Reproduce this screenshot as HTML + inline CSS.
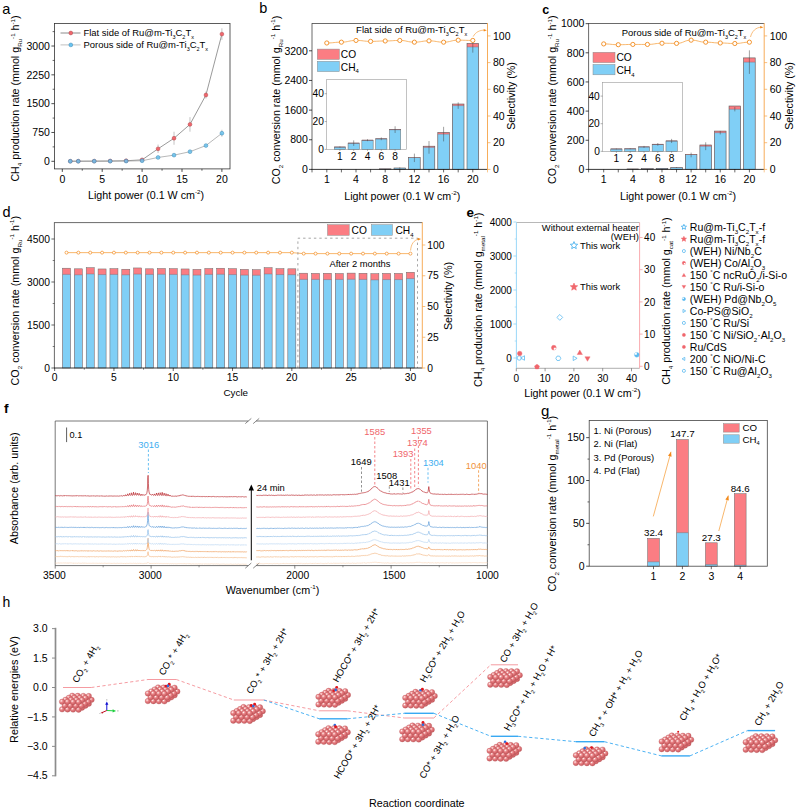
<!DOCTYPE html>
<html><head><meta charset="utf-8"><title>Figure</title>
<style>html,body{margin:0;padding:0;background:#fff}svg{display:block}text{font-family:"Liberation Sans",sans-serif}</style></head>
<body>
<svg width="800" height="811" viewBox="0 0 800 811">
<rect width="800" height="811" fill="#fff"/>
<text x="2.3" y="13.8" font-size="14.5" text-anchor="start" fill="#000" ><tspan dy="0" font-size="14.5">a</tspan></text>
<path d="M70.28 161.22 L78.26 161.18 L94.22 161.11 L110.18 160.99 L126.14 160.76 L142.1 159.84 L158.06 148.81 L174.02 138.24 L189.98 124.41 L205.94 95.01 L221.9 34.11" fill="none" stroke="#6e6e6e" stroke-width="0.7" />
<path d="M70.28 161.26 L78.26 161.24 L94.22 161.22 L110.18 161.18 L126.14 161.07 L142.1 160.76 L158.06 157.46 L174.02 155.15 L189.98 151.69 L205.94 145.55 L221.9 133.25" fill="none" stroke="#9a9a9a" stroke-width="0.7" />
<line x1="126.14" y1="161.15" x2="126.14" y2="160.38" stroke="#9a9a9a" stroke-width="0.6" />
<line x1="142.1" y1="160.8" x2="142.1" y2="158.88" stroke="#9a9a9a" stroke-width="0.6" />
<line x1="158.06" y1="153.04" x2="158.06" y2="144.58" stroke="#9a9a9a" stroke-width="0.6" />
<line x1="174.02" y1="144.78" x2="174.02" y2="131.71" stroke="#9a9a9a" stroke-width="0.6" />
<line x1="189.98" y1="131.71" x2="189.98" y2="117.11" stroke="#9a9a9a" stroke-width="0.6" />
<line x1="205.94" y1="98.47" x2="205.94" y2="91.56" stroke="#9a9a9a" stroke-width="0.6" />
<line x1="221.9" y1="39.87" x2="221.9" y2="28.34" stroke="#9a9a9a" stroke-width="0.6" />
<circle cx="70.28" cy="161.22" r="1.9" fill="#f0666c" stroke="#b04a4e" stroke-width="0.5"/>
<circle cx="78.26" cy="161.18" r="1.9" fill="#f0666c" stroke="#b04a4e" stroke-width="0.5"/>
<circle cx="94.22" cy="161.11" r="1.9" fill="#f0666c" stroke="#b04a4e" stroke-width="0.5"/>
<circle cx="110.18" cy="160.99" r="1.9" fill="#f0666c" stroke="#b04a4e" stroke-width="0.5"/>
<circle cx="126.14" cy="160.76" r="1.9" fill="#f0666c" stroke="#b04a4e" stroke-width="0.5"/>
<circle cx="142.1" cy="159.84" r="1.9" fill="#f0666c" stroke="#b04a4e" stroke-width="0.5"/>
<circle cx="158.06" cy="148.81" r="1.9" fill="#f0666c" stroke="#b04a4e" stroke-width="0.5"/>
<circle cx="174.02" cy="138.24" r="1.9" fill="#f0666c" stroke="#b04a4e" stroke-width="0.5"/>
<circle cx="189.98" cy="124.41" r="1.9" fill="#f0666c" stroke="#b04a4e" stroke-width="0.5"/>
<circle cx="205.94" cy="95.01" r="1.9" fill="#f0666c" stroke="#b04a4e" stroke-width="0.5"/>
<circle cx="221.9" cy="34.11" r="1.9" fill="#f0666c" stroke="#b04a4e" stroke-width="0.5"/>
<line x1="142.1" y1="161.07" x2="142.1" y2="160.45" stroke="#9a9a9a" stroke-width="0.6" />
<line x1="158.06" y1="158.61" x2="158.06" y2="156.3" stroke="#9a9a9a" stroke-width="0.6" />
<line x1="174.02" y1="156.5" x2="174.02" y2="153.81" stroke="#9a9a9a" stroke-width="0.6" />
<line x1="189.98" y1="153.23" x2="189.98" y2="150.16" stroke="#9a9a9a" stroke-width="0.6" />
<line x1="205.94" y1="146.89" x2="205.94" y2="144.2" stroke="#9a9a9a" stroke-width="0.6" />
<line x1="221.9" y1="136.71" x2="221.9" y2="129.79" stroke="#9a9a9a" stroke-width="0.6" />
<circle cx="70.28" cy="161.26" r="1.9" fill="#68c3f0" fill-opacity="0.85" stroke="#3d88b5" stroke-width="0.5"/>
<circle cx="78.26" cy="161.24" r="1.9" fill="#68c3f0" fill-opacity="0.85" stroke="#3d88b5" stroke-width="0.5"/>
<circle cx="94.22" cy="161.22" r="1.9" fill="#68c3f0" fill-opacity="0.85" stroke="#3d88b5" stroke-width="0.5"/>
<circle cx="110.18" cy="161.18" r="1.9" fill="#68c3f0" fill-opacity="0.85" stroke="#3d88b5" stroke-width="0.5"/>
<circle cx="126.14" cy="161.07" r="1.9" fill="#68c3f0" fill-opacity="0.85" stroke="#3d88b5" stroke-width="0.5"/>
<circle cx="142.1" cy="160.76" r="1.9" fill="#68c3f0" fill-opacity="0.85" stroke="#3d88b5" stroke-width="0.5"/>
<circle cx="158.06" cy="157.46" r="1.9" fill="#68c3f0" fill-opacity="0.85" stroke="#3d88b5" stroke-width="0.5"/>
<circle cx="174.02" cy="155.15" r="1.9" fill="#68c3f0" fill-opacity="0.85" stroke="#3d88b5" stroke-width="0.5"/>
<circle cx="189.98" cy="151.69" r="1.9" fill="#68c3f0" fill-opacity="0.85" stroke="#3d88b5" stroke-width="0.5"/>
<circle cx="205.94" cy="145.55" r="1.9" fill="#68c3f0" fill-opacity="0.85" stroke="#3d88b5" stroke-width="0.5"/>
<circle cx="221.9" cy="133.25" r="1.9" fill="#68c3f0" fill-opacity="0.85" stroke="#3d88b5" stroke-width="0.5"/>
<rect x="54.4" y="23.4" width="175.6" height="145.5" fill="none" stroke="#333" stroke-width="0.8" />
<line x1="62.3" y1="168.9" x2="62.3" y2="171.9" stroke="#000" stroke-width="0.7" />
<text x="62.3" y="183.1" font-size="10.5" text-anchor="middle" fill="#000" ><tspan dy="0" font-size="10.5">0</tspan></text>
<line x1="102.2" y1="168.9" x2="102.2" y2="171.9" stroke="#000" stroke-width="0.7" />
<text x="102.2" y="183.1" font-size="10.5" text-anchor="middle" fill="#000" ><tspan dy="0" font-size="10.5">5</tspan></text>
<line x1="142.1" y1="168.9" x2="142.1" y2="171.9" stroke="#000" stroke-width="0.7" />
<text x="142.1" y="183.1" font-size="10.5" text-anchor="middle" fill="#000" ><tspan dy="0" font-size="10.5">10</tspan></text>
<line x1="182" y1="168.9" x2="182" y2="171.9" stroke="#000" stroke-width="0.7" />
<text x="182" y="183.1" font-size="10.5" text-anchor="middle" fill="#000" ><tspan dy="0" font-size="10.5">15</tspan></text>
<line x1="221.9" y1="168.9" x2="221.9" y2="171.9" stroke="#000" stroke-width="0.7" />
<text x="221.9" y="183.1" font-size="10.5" text-anchor="middle" fill="#000" ><tspan dy="0" font-size="10.5">20</tspan></text>
<line x1="82.25" y1="168.9" x2="82.25" y2="170.7" stroke="#000" stroke-width="0.6" />
<line x1="122.15" y1="168.9" x2="122.15" y2="170.7" stroke="#000" stroke-width="0.6" />
<line x1="162.05" y1="168.9" x2="162.05" y2="170.7" stroke="#000" stroke-width="0.6" />
<line x1="201.95" y1="168.9" x2="201.95" y2="170.7" stroke="#000" stroke-width="0.6" />
<line x1="51.4" y1="161.3" x2="54.4" y2="161.3" stroke="#000" stroke-width="0.7" />
<text x="49.9" y="165" font-size="10.5" text-anchor="end" fill="#000" ><tspan dy="0" font-size="10.5">0</tspan></text>
<line x1="51.4" y1="132.48" x2="54.4" y2="132.48" stroke="#000" stroke-width="0.7" />
<text x="49.9" y="136.18" font-size="10.5" text-anchor="end" fill="#000" ><tspan dy="0" font-size="10.5">750</tspan></text>
<line x1="51.4" y1="103.66" x2="54.4" y2="103.66" stroke="#000" stroke-width="0.7" />
<text x="49.9" y="107.36" font-size="10.5" text-anchor="end" fill="#000" ><tspan dy="0" font-size="10.5">1500</tspan></text>
<line x1="51.4" y1="74.84" x2="54.4" y2="74.84" stroke="#000" stroke-width="0.7" />
<text x="49.9" y="78.54" font-size="10.5" text-anchor="end" fill="#000" ><tspan dy="0" font-size="10.5">2250</tspan></text>
<line x1="51.4" y1="46.02" x2="54.4" y2="46.02" stroke="#000" stroke-width="0.7" />
<text x="49.9" y="49.72" font-size="10.5" text-anchor="end" fill="#000" ><tspan dy="0" font-size="10.5">3000</tspan></text>
<line x1="52.6" y1="146.89" x2="54.4" y2="146.89" stroke="#000" stroke-width="0.6" />
<line x1="52.6" y1="118.07" x2="54.4" y2="118.07" stroke="#000" stroke-width="0.6" />
<line x1="52.6" y1="89.25" x2="54.4" y2="89.25" stroke="#000" stroke-width="0.6" />
<line x1="52.6" y1="60.43" x2="54.4" y2="60.43" stroke="#000" stroke-width="0.6" />
<line x1="52.6" y1="31.61" x2="54.4" y2="31.61" stroke="#000" stroke-width="0.6" />
<text x="19" y="98.5" font-size="10.7" text-anchor="middle" fill="#000" transform="rotate(-90 19 98.5)" ><tspan dy="0" font-size="10.7">CH</tspan><tspan dy="3" font-size="6.21">4</tspan><tspan dy="-3" font-size="10.7"> production rate (mmol g</tspan><tspan dy="3" font-size="6.21">Ru</tspan><tspan dy="-7.49" font-size="6.21">-1</tspan><tspan dy="4.49" font-size="10.7"> h</tspan><tspan dy="-4.49" font-size="6.21">-1</tspan><tspan dy="4.49" font-size="10.7">)</tspan></text>
<text x="146" y="198.8" font-size="10.7" text-anchor="middle" fill="#000" ><tspan dy="0" font-size="10.7">Light power (0.1 W cm</tspan><tspan dy="-4.49" font-size="6.21">-2</tspan><tspan dy="4.49" font-size="10.7">)</tspan></text>
<line x1="60.5" y1="33" x2="80.5" y2="33" stroke="#6e6e6e" stroke-width="0.8" />
<circle cx="70.8" cy="33" r="1.9" fill="#f0666c" stroke="#b04a4e" stroke-width="0.5"/>
<text x="83.5" y="36.4" font-size="9.45" text-anchor="start" fill="#000" ><tspan dy="0" font-size="9.45">Flat side of Ru@m-Ti</tspan><tspan dy="2.65" font-size="5.48">3</tspan><tspan dy="-2.65" font-size="9.45">C</tspan><tspan dy="2.65" font-size="5.48">2</tspan><tspan dy="-2.65" font-size="9.45">T</tspan><tspan dy="2.65" font-size="5.48">x</tspan></text>
<line x1="60.5" y1="44.9" x2="80.5" y2="44.9" stroke="#b0b0b0" stroke-width="0.8" />
<circle cx="70.8" cy="44.9" r="1.9" fill="#68c3f0" stroke="#3d88b5" stroke-width="0.5"/>
<text x="83.5" y="48.3" font-size="9.45" text-anchor="start" fill="#000" ><tspan dy="0" font-size="9.45">Porous side of Ru@m-Ti</tspan><tspan dy="2.65" font-size="5.48">3</tspan><tspan dy="-2.65" font-size="9.45">C</tspan><tspan dy="2.65" font-size="5.48">2</tspan><tspan dy="-2.65" font-size="9.45">T</tspan><tspan dy="2.65" font-size="5.48">x</tspan></text>
<text x="259.3" y="12.7" font-size="14.5" text-anchor="start" fill="#000" ><tspan dy="0" font-size="14.5">b</tspan></text>
<rect x="379.4" y="168.84" width="11.6" height="0.56" fill="#fb7d83" stroke="none" stroke-width="0.6" />
<rect x="379.4" y="168.87" width="11.6" height="0.53" fill="#80cff6" stroke="none" stroke-width="0.6" />
<rect x="379.4" y="168.84" width="11.6" height="0.56" fill="none" stroke="#5a5a5a" stroke-width="0.6" />
<rect x="394" y="167.99" width="11.6" height="1.41" fill="#fb7d83" stroke="none" stroke-width="0.6" />
<rect x="394" y="168.07" width="11.6" height="1.33" fill="#80cff6" stroke="none" stroke-width="0.6" />
<rect x="394" y="167.99" width="11.6" height="1.41" fill="none" stroke="#5a5a5a" stroke-width="0.6" />
<line x1="399.8" y1="168.81" x2="399.8" y2="167.32" stroke="#444" stroke-width="0.5" />
<rect x="408.6" y="157.39" width="11.6" height="12.01" fill="#fb7d83" stroke="none" stroke-width="0.6" />
<rect x="408.6" y="157.84" width="11.6" height="11.56" fill="#80cff6" stroke="none" stroke-width="0.6" />
<rect x="408.6" y="157.39" width="11.6" height="12.01" fill="none" stroke="#5a5a5a" stroke-width="0.6" />
<line x1="414.4" y1="162.06" x2="414.4" y2="153.61" stroke="#444" stroke-width="0.5" />
<rect x="423.2" y="146.2" width="11.6" height="23.2" fill="#fb7d83" stroke="none" stroke-width="0.6" />
<rect x="423.2" y="147.38" width="11.6" height="22.02" fill="#80cff6" stroke="none" stroke-width="0.6" />
<rect x="423.2" y="146.2" width="11.6" height="23.2" fill="none" stroke="#5a5a5a" stroke-width="0.6" />
<line x1="423.2" y1="147.38" x2="434.8" y2="147.38" stroke="#8a5a60" stroke-width="0.4" />
<line x1="429" y1="153.69" x2="429" y2="141.08" stroke="#444" stroke-width="0.5" />
<rect x="437.8" y="132.41" width="11.6" height="36.99" fill="#fb7d83" stroke="none" stroke-width="0.6" />
<rect x="437.8" y="134.12" width="11.6" height="35.28" fill="#80cff6" stroke="none" stroke-width="0.6" />
<rect x="437.8" y="132.41" width="11.6" height="36.99" fill="none" stroke="#5a5a5a" stroke-width="0.6" />
<line x1="437.8" y1="134.12" x2="449.4" y2="134.12" stroke="#8a5a60" stroke-width="0.4" />
<line x1="443.6" y1="141.42" x2="443.6" y2="126.82" stroke="#444" stroke-width="0.5" />
<rect x="452.4" y="104.02" width="11.6" height="65.38" fill="#fb7d83" stroke="none" stroke-width="0.6" />
<rect x="452.4" y="105.62" width="11.6" height="63.78" fill="#80cff6" stroke="none" stroke-width="0.6" />
<rect x="452.4" y="104.02" width="11.6" height="65.38" fill="none" stroke="#5a5a5a" stroke-width="0.6" />
<line x1="452.4" y1="105.62" x2="464" y2="105.62" stroke="#8a5a60" stroke-width="0.4" />
<line x1="458.2" y1="108.84" x2="458.2" y2="102.39" stroke="#444" stroke-width="0.5" />
<rect x="467" y="43.39" width="11.6" height="126.01" fill="#fb7d83" stroke="none" stroke-width="0.6" />
<rect x="467" y="46.91" width="11.6" height="122.49" fill="#80cff6" stroke="none" stroke-width="0.6" />
<rect x="467" y="43.39" width="11.6" height="126.01" fill="none" stroke="#5a5a5a" stroke-width="0.6" />
<line x1="467" y1="46.91" x2="478.6" y2="46.91" stroke="#8a5a60" stroke-width="0.4" />
<line x1="472.8" y1="52.65" x2="472.8" y2="41.16" stroke="#444" stroke-width="0.5" />
<path d="M326.8 42.98 C334.1 42.98 334.1 42.17 341.4 42.17 C348.7 42.17 348.7 40.44 356 40.44 C363.3 40.44 363.3 41.37 370.6 41.37 C377.9 41.37 377.9 40.97 385.2 40.97 C392.5 40.97 392.5 40.44 399.8 40.44 C407.1 40.44 407.1 42.17 414.4 42.17 C421.7 42.17 421.7 40.84 429 40.84 C436.3 40.84 436.3 42.17 443.6 42.17 C450.9 42.17 450.9 40.17 458.2 40.17 C465.5 40.17 465.5 40.44 472.8 40.44" fill="none" stroke="#f6a447" stroke-width="0.8" />
<circle cx="326.8" cy="42.98" r="2.1" fill="#fff" stroke="#f28a1c" stroke-width="0.9"/>
<circle cx="341.4" cy="42.17" r="2.1" fill="#fff" stroke="#f28a1c" stroke-width="0.9"/>
<circle cx="356" cy="40.44" r="2.1" fill="#fff" stroke="#f28a1c" stroke-width="0.9"/>
<circle cx="370.6" cy="41.37" r="2.1" fill="#fff" stroke="#f28a1c" stroke-width="0.9"/>
<circle cx="385.2" cy="40.97" r="2.1" fill="#fff" stroke="#f28a1c" stroke-width="0.9"/>
<circle cx="399.8" cy="40.44" r="2.1" fill="#fff" stroke="#f28a1c" stroke-width="0.9"/>
<circle cx="414.4" cy="42.17" r="2.1" fill="#fff" stroke="#f28a1c" stroke-width="0.9"/>
<circle cx="429" cy="40.84" r="2.1" fill="#fff" stroke="#f28a1c" stroke-width="0.9"/>
<circle cx="443.6" cy="42.17" r="2.1" fill="#fff" stroke="#f28a1c" stroke-width="0.9"/>
<circle cx="458.2" cy="40.17" r="2.1" fill="#fff" stroke="#f28a1c" stroke-width="0.9"/>
<circle cx="472.8" cy="40.44" r="2.1" fill="#fff" stroke="#f28a1c" stroke-width="0.9"/>
<line x1="312" y1="23.5" x2="487.5" y2="23.5" stroke="#444" stroke-width="0.8" />
<line x1="312" y1="23.1" x2="312" y2="169.4" stroke="#444" stroke-width="0.8" />
<line x1="311.6" y1="169.4" x2="487.5" y2="169.4" stroke="#222" stroke-width="0.9" />
<line x1="487.5" y1="23.1" x2="487.5" y2="169.8" stroke="#f6a447" stroke-width="0.9" />
<line x1="326.8" y1="169.4" x2="326.8" y2="172.4" stroke="#000" stroke-width="0.6" />
<text x="326.8" y="183.4" font-size="10.5" text-anchor="middle" fill="#000" ><tspan dy="0" font-size="10.5">1</tspan></text>
<line x1="341.4" y1="169.4" x2="341.4" y2="172.4" stroke="#000" stroke-width="0.6" />
<line x1="356" y1="169.4" x2="356" y2="172.4" stroke="#000" stroke-width="0.6" />
<text x="356" y="183.4" font-size="10.5" text-anchor="middle" fill="#000" ><tspan dy="0" font-size="10.5">4</tspan></text>
<line x1="370.6" y1="169.4" x2="370.6" y2="172.4" stroke="#000" stroke-width="0.6" />
<line x1="385.2" y1="169.4" x2="385.2" y2="172.4" stroke="#000" stroke-width="0.6" />
<text x="385.2" y="183.4" font-size="10.5" text-anchor="middle" fill="#000" ><tspan dy="0" font-size="10.5">8</tspan></text>
<line x1="399.8" y1="169.4" x2="399.8" y2="172.4" stroke="#000" stroke-width="0.6" />
<line x1="414.4" y1="169.4" x2="414.4" y2="172.4" stroke="#000" stroke-width="0.6" />
<text x="414.4" y="183.4" font-size="10.5" text-anchor="middle" fill="#000" ><tspan dy="0" font-size="10.5">12</tspan></text>
<line x1="429" y1="169.4" x2="429" y2="172.4" stroke="#000" stroke-width="0.6" />
<line x1="443.6" y1="169.4" x2="443.6" y2="172.4" stroke="#000" stroke-width="0.6" />
<text x="443.6" y="183.4" font-size="10.5" text-anchor="middle" fill="#000" ><tspan dy="0" font-size="10.5">16</tspan></text>
<line x1="458.2" y1="169.4" x2="458.2" y2="172.4" stroke="#000" stroke-width="0.6" />
<line x1="472.8" y1="169.4" x2="472.8" y2="172.4" stroke="#000" stroke-width="0.6" />
<text x="472.8" y="183.4" font-size="10.5" text-anchor="middle" fill="#000" ><tspan dy="0" font-size="10.5">20</tspan></text>
<line x1="312" y1="169.4" x2="312" y2="172.4" stroke="#000" stroke-width="0.6" />
<line x1="487.5" y1="169.4" x2="487.5" y2="172.4" stroke="#f6a447" stroke-width="0.6" />
<line x1="309" y1="169.4" x2="312" y2="169.4" stroke="#000" stroke-width="0.7" />
<text x="307.8" y="173.1" font-size="10.5" text-anchor="end" fill="#000" ><tspan dy="0" font-size="10.5">0</tspan></text>
<line x1="309" y1="139.75" x2="312" y2="139.75" stroke="#000" stroke-width="0.7" />
<text x="307.8" y="143.45" font-size="10.5" text-anchor="end" fill="#000" ><tspan dy="0" font-size="10.5">800</tspan></text>
<line x1="309" y1="110.1" x2="312" y2="110.1" stroke="#000" stroke-width="0.7" />
<text x="307.8" y="113.8" font-size="10.5" text-anchor="end" fill="#000" ><tspan dy="0" font-size="10.5">1600</tspan></text>
<line x1="309" y1="80.45" x2="312" y2="80.45" stroke="#000" stroke-width="0.7" />
<text x="307.8" y="84.15" font-size="10.5" text-anchor="end" fill="#000" ><tspan dy="0" font-size="10.5">2400</tspan></text>
<line x1="309" y1="50.8" x2="312" y2="50.8" stroke="#000" stroke-width="0.7" />
<text x="307.8" y="54.5" font-size="10.5" text-anchor="end" fill="#000" ><tspan dy="0" font-size="10.5">3200</tspan></text>
<line x1="487.5" y1="169.4" x2="490.5" y2="169.4" stroke="#f6a447" stroke-width="0.7" />
<text x="493" y="173.1" font-size="10.5" text-anchor="start" fill="#000" ><tspan dy="0" font-size="10.5">0</tspan></text>
<line x1="487.5" y1="142.7" x2="490.5" y2="142.7" stroke="#f6a447" stroke-width="0.7" />
<text x="493" y="146.4" font-size="10.5" text-anchor="start" fill="#000" ><tspan dy="0" font-size="10.5">20</tspan></text>
<line x1="487.5" y1="116" x2="490.5" y2="116" stroke="#f6a447" stroke-width="0.7" />
<text x="493" y="119.7" font-size="10.5" text-anchor="start" fill="#000" ><tspan dy="0" font-size="10.5">40</tspan></text>
<line x1="487.5" y1="89.3" x2="490.5" y2="89.3" stroke="#f6a447" stroke-width="0.7" />
<text x="493" y="93" font-size="10.5" text-anchor="start" fill="#000" ><tspan dy="0" font-size="10.5">60</tspan></text>
<line x1="487.5" y1="62.6" x2="490.5" y2="62.6" stroke="#f6a447" stroke-width="0.7" />
<text x="493" y="66.3" font-size="10.5" text-anchor="start" fill="#000" ><tspan dy="0" font-size="10.5">80</tspan></text>
<line x1="487.5" y1="35.9" x2="490.5" y2="35.9" stroke="#f6a447" stroke-width="0.7" />
<text x="493" y="39.6" font-size="10.5" text-anchor="start" fill="#000" ><tspan dy="0" font-size="10.5">100</tspan></text>
<text x="467.2" y="33.2" font-size="9.5" text-anchor="end" fill="#000" ><tspan dy="0" font-size="9.5">Flat side of Ru@m-Ti</tspan><tspan dy="2.66" font-size="5.51">3</tspan><tspan dy="-2.66" font-size="9.5">C</tspan><tspan dy="2.66" font-size="5.51">2</tspan><tspan dy="-2.66" font-size="9.5">T</tspan><tspan dy="2.66" font-size="5.51">x</tspan></text>
<path d="M473.2 36.6 C475.5 32 480 30 484.5 30.2" fill="none" stroke="#f6a447" stroke-width="0.7" />
<path d="M486.8 30.3 L483.6 28.9 L483.8 31.6 Z" fill="#f28a1c" stroke="none" stroke-width="0.8" />
<rect x="317.3" y="49.1" width="22" height="10.3" fill="#fb7d83" stroke="#8c8c8c" stroke-width="0.5" />
<rect x="317.3" y="61.3" width="22" height="10.3" fill="#80cff6" stroke="#8c8c8c" stroke-width="0.5" />
<text x="340.8" y="58.2" font-size="10.2" text-anchor="start" fill="#000" ><tspan dy="0" font-size="10.2">CO</tspan></text>
<text x="340.8" y="70.5" font-size="10.2" text-anchor="start" fill="#000" ><tspan dy="0" font-size="10.2">CH</tspan><tspan dy="2.86" font-size="5.92">4</tspan></text>
<rect x="326.7" y="79.3" width="79.8" height="70.1" fill="#fff" stroke="#9a9a9a" stroke-width="0.6" />
<rect x="334.25" y="147.03" width="11.3" height="2.37" fill="#80cff6" stroke="#6a6a6a" stroke-width="0.5" />
<line x1="334.25" y1="147.03" x2="345.55" y2="147.03" stroke="#7a4a50" stroke-width="0.7" />
<line x1="339.9" y1="147.59" x2="339.9" y2="146.48" stroke="#444" stroke-width="0.5" />
<text x="339.9" y="160" font-size="10.2" text-anchor="middle" fill="#000" ><tspan dy="0" font-size="10.2">1</tspan></text>
<line x1="339.9" y1="149.4" x2="339.9" y2="150.9" stroke="#666" stroke-width="0.5" />
<rect x="348.05" y="143.13" width="11.3" height="6.27" fill="#80cff6" stroke="#6a6a6a" stroke-width="0.5" />
<line x1="348.05" y1="143.13" x2="359.35" y2="143.13" stroke="#7a4a50" stroke-width="0.7" />
<line x1="353.7" y1="145.92" x2="353.7" y2="140.35" stroke="#444" stroke-width="0.5" />
<text x="353.7" y="160" font-size="10.2" text-anchor="middle" fill="#000" ><tspan dy="0" font-size="10.2">2</tspan></text>
<line x1="353.7" y1="149.4" x2="353.7" y2="150.9" stroke="#666" stroke-width="0.5" />
<rect x="361.85" y="140.21" width="11.3" height="9.19" fill="#80cff6" stroke="#6a6a6a" stroke-width="0.5" />
<line x1="361.85" y1="140.21" x2="373.15" y2="140.21" stroke="#7a4a50" stroke-width="0.7" />
<line x1="367.5" y1="141.18" x2="367.5" y2="139.23" stroke="#444" stroke-width="0.5" />
<text x="367.5" y="160" font-size="10.2" text-anchor="middle" fill="#000" ><tspan dy="0" font-size="10.2">4</tspan></text>
<line x1="367.5" y1="149.4" x2="367.5" y2="150.9" stroke="#666" stroke-width="0.5" />
<rect x="375.65" y="138.82" width="11.3" height="10.58" fill="#80cff6" stroke="#6a6a6a" stroke-width="0.5" />
<line x1="375.65" y1="138.82" x2="386.95" y2="138.82" stroke="#7a4a50" stroke-width="0.7" />
<line x1="381.3" y1="140.21" x2="381.3" y2="137.42" stroke="#444" stroke-width="0.5" />
<text x="381.3" y="160" font-size="10.2" text-anchor="middle" fill="#000" ><tspan dy="0" font-size="10.2">6</tspan></text>
<line x1="381.3" y1="149.4" x2="381.3" y2="150.9" stroke="#666" stroke-width="0.5" />
<rect x="389.45" y="129.63" width="11.3" height="19.77" fill="#80cff6" stroke="#6a6a6a" stroke-width="0.5" />
<line x1="389.45" y1="129.63" x2="400.75" y2="129.63" stroke="#7a4a50" stroke-width="0.7" />
<line x1="395.1" y1="132.97" x2="395.1" y2="126.28" stroke="#444" stroke-width="0.5" />
<text x="395.1" y="160" font-size="10.2" text-anchor="middle" fill="#000" ><tspan dy="0" font-size="10.2">8</tspan></text>
<line x1="395.1" y1="149.4" x2="395.1" y2="150.9" stroke="#666" stroke-width="0.5" />
<line x1="324.7" y1="149.4" x2="326.7" y2="149.4" stroke="#666" stroke-width="0.5" />
<text x="323.9" y="153" font-size="10.2" text-anchor="end" fill="#000" ><tspan dy="0" font-size="10.2">0</tspan></text>
<line x1="324.7" y1="121.55" x2="326.7" y2="121.55" stroke="#666" stroke-width="0.5" />
<text x="323.9" y="125.15" font-size="10.2" text-anchor="end" fill="#000" ><tspan dy="0" font-size="10.2">20</tspan></text>
<line x1="324.7" y1="93.7" x2="326.7" y2="93.7" stroke="#666" stroke-width="0.5" />
<text x="323.9" y="97.3" font-size="10.2" text-anchor="end" fill="#000" ><tspan dy="0" font-size="10.2">40</tspan></text>
<text x="279.5" y="100" font-size="10.7" text-anchor="middle" fill="#000" transform="rotate(-90 279.5 100)" ><tspan dy="0" font-size="10.7">CO</tspan><tspan dy="3" font-size="6.21">2</tspan><tspan dy="-3" font-size="10.7"> conversion rate (mmol g</tspan><tspan dy="3" font-size="6.21">Ru</tspan><tspan dy="-7.49" font-size="6.21">-1</tspan><tspan dy="4.49" font-size="10.7"> h</tspan><tspan dy="-4.49" font-size="6.21">-1</tspan><tspan dy="4.49" font-size="10.7">)</tspan></text>
<text x="402.3" y="199.5" font-size="10.7" text-anchor="middle" fill="#000" ><tspan dy="0" font-size="10.7">Light power (0.1 W cm</tspan><tspan dy="-4.49" font-size="6.21">-2</tspan><tspan dy="4.49" font-size="10.7">)</tspan></text>
<text x="515.3" y="96" font-size="10.7" text-anchor="middle" fill="#000" transform="rotate(-90 515.3 96)" ><tspan dy="0" font-size="10.7">Selectivity (%)</tspan></text>
<text x="542.2" y="13.6" font-size="12.6" text-anchor="start" fill="#000" font-weight="bold" ><tspan dy="0" font-size="12.6">c</tspan></text>
<rect x="627.04" y="168.93" width="11.6" height="0.47" fill="#fb7d83" stroke="none" stroke-width="0.6" />
<rect x="627.04" y="168.96" width="11.6" height="0.44" fill="#80cff6" stroke="none" stroke-width="0.6" />
<rect x="627.04" y="168.93" width="11.6" height="0.47" fill="none" stroke="#5a5a5a" stroke-width="0.6" />
<rect x="641.61" y="168.67" width="11.6" height="0.73" fill="#fb7d83" stroke="none" stroke-width="0.6" />
<rect x="641.61" y="168.71" width="11.6" height="0.69" fill="#80cff6" stroke="none" stroke-width="0.6" />
<rect x="641.61" y="168.67" width="11.6" height="0.73" fill="none" stroke="#5a5a5a" stroke-width="0.6" />
<rect x="656.18" y="168.31" width="11.6" height="1.09" fill="#fb7d83" stroke="none" stroke-width="0.6" />
<rect x="656.18" y="168.37" width="11.6" height="1.03" fill="#80cff6" stroke="none" stroke-width="0.6" />
<rect x="656.18" y="168.31" width="11.6" height="1.09" fill="none" stroke="#5a5a5a" stroke-width="0.6" />
<rect x="670.75" y="167.51" width="11.6" height="1.89" fill="#fb7d83" stroke="none" stroke-width="0.6" />
<rect x="670.75" y="167.61" width="11.6" height="1.79" fill="#80cff6" stroke="none" stroke-width="0.6" />
<rect x="670.75" y="167.51" width="11.6" height="1.89" fill="none" stroke="#5a5a5a" stroke-width="0.6" />
<line x1="676.55" y1="168.04" x2="676.55" y2="167.17" stroke="#444" stroke-width="0.5" />
<rect x="685.32" y="154.31" width="11.6" height="15.09" fill="#fb7d83" stroke="none" stroke-width="0.6" />
<rect x="685.32" y="154.97" width="11.6" height="14.43" fill="#80cff6" stroke="none" stroke-width="0.6" />
<rect x="685.32" y="154.31" width="11.6" height="15.09" fill="none" stroke="#5a5a5a" stroke-width="0.6" />
<line x1="691.12" y1="157.3" x2="691.12" y2="152.64" stroke="#444" stroke-width="0.5" />
<rect x="699.89" y="144.99" width="11.6" height="24.41" fill="#fb7d83" stroke="none" stroke-width="0.6" />
<rect x="699.89" y="146.23" width="11.6" height="23.17" fill="#80cff6" stroke="none" stroke-width="0.6" />
<rect x="699.89" y="144.99" width="11.6" height="24.41" fill="none" stroke="#5a5a5a" stroke-width="0.6" />
<line x1="699.89" y1="146.23" x2="711.49" y2="146.23" stroke="#8a5a60" stroke-width="0.4" />
<line x1="705.69" y1="150.16" x2="705.69" y2="142.29" stroke="#444" stroke-width="0.5" />
<rect x="714.46" y="131.07" width="11.6" height="38.33" fill="#fb7d83" stroke="none" stroke-width="0.6" />
<rect x="714.46" y="132.67" width="11.6" height="36.73" fill="#80cff6" stroke="none" stroke-width="0.6" />
<rect x="714.46" y="131.07" width="11.6" height="38.33" fill="none" stroke="#5a5a5a" stroke-width="0.6" />
<line x1="714.46" y1="132.67" x2="726.06" y2="132.67" stroke="#8a5a60" stroke-width="0.4" />
<line x1="720.26" y1="134.42" x2="720.26" y2="130.92" stroke="#444" stroke-width="0.5" />
<rect x="729.03" y="106" width="11.6" height="63.4" fill="#fb7d83" stroke="none" stroke-width="0.6" />
<rect x="729.03" y="109.21" width="11.6" height="60.19" fill="#80cff6" stroke="none" stroke-width="0.6" />
<rect x="729.03" y="106" width="11.6" height="63.4" fill="none" stroke="#5a5a5a" stroke-width="0.6" />
<line x1="729.03" y1="109.21" x2="740.63" y2="109.21" stroke="#8a5a60" stroke-width="0.4" />
<line x1="734.83" y1="111.39" x2="734.83" y2="107.02" stroke="#444" stroke-width="0.5" />
<rect x="743.6" y="57.9" width="11.6" height="111.5" fill="#fb7d83" stroke="none" stroke-width="0.6" />
<rect x="743.6" y="62.13" width="11.6" height="107.27" fill="#80cff6" stroke="none" stroke-width="0.6" />
<rect x="743.6" y="57.9" width="11.6" height="111.5" fill="none" stroke="#5a5a5a" stroke-width="0.6" />
<line x1="743.6" y1="62.13" x2="755.2" y2="62.13" stroke="#8a5a60" stroke-width="0.4" />
<line x1="749.4" y1="73.93" x2="749.4" y2="50.32" stroke="#444" stroke-width="0.5" />
<path d="M603.7 43.91 C610.99 43.91 610.99 44.71 618.27 44.71 C625.56 44.71 625.56 44.44 632.84 44.44 C640.12 44.44 640.12 44.44 647.41 44.44 C654.7 44.44 654.7 43.24 661.98 43.24 C669.27 43.24 669.27 43.38 676.55 43.38 C683.84 43.38 683.84 40.17 691.12 40.17 C698.4 40.17 698.4 42.17 705.69 42.17 C712.98 42.17 712.98 42.98 720.26 42.98 C727.55 42.98 727.55 43.51 734.83 43.51 C742.12 43.51 742.12 42.17 749.4 42.17" fill="none" stroke="#f6a447" stroke-width="0.8" />
<circle cx="603.7" cy="43.91" r="2.1" fill="#fff" stroke="#f28a1c" stroke-width="0.9"/>
<circle cx="618.27" cy="44.71" r="2.1" fill="#fff" stroke="#f28a1c" stroke-width="0.9"/>
<circle cx="632.84" cy="44.44" r="2.1" fill="#fff" stroke="#f28a1c" stroke-width="0.9"/>
<circle cx="647.41" cy="44.44" r="2.1" fill="#fff" stroke="#f28a1c" stroke-width="0.9"/>
<circle cx="661.98" cy="43.24" r="2.1" fill="#fff" stroke="#f28a1c" stroke-width="0.9"/>
<circle cx="676.55" cy="43.38" r="2.1" fill="#fff" stroke="#f28a1c" stroke-width="0.9"/>
<circle cx="691.12" cy="40.17" r="2.1" fill="#fff" stroke="#f28a1c" stroke-width="0.9"/>
<circle cx="705.69" cy="42.17" r="2.1" fill="#fff" stroke="#f28a1c" stroke-width="0.9"/>
<circle cx="720.26" cy="42.98" r="2.1" fill="#fff" stroke="#f28a1c" stroke-width="0.9"/>
<circle cx="734.83" cy="43.51" r="2.1" fill="#fff" stroke="#f28a1c" stroke-width="0.9"/>
<circle cx="749.4" cy="42.17" r="2.1" fill="#fff" stroke="#f28a1c" stroke-width="0.9"/>
<line x1="588.6" y1="23.5" x2="764.2" y2="23.5" stroke="#444" stroke-width="0.8" />
<line x1="588.6" y1="23.1" x2="588.6" y2="169.4" stroke="#444" stroke-width="0.8" />
<line x1="588.2" y1="169.4" x2="764.2" y2="169.4" stroke="#222" stroke-width="0.9" />
<line x1="764.2" y1="23.1" x2="764.2" y2="169.8" stroke="#f6a447" stroke-width="0.9" />
<line x1="603.7" y1="169.4" x2="603.7" y2="172.4" stroke="#000" stroke-width="0.6" />
<text x="603.7" y="183.4" font-size="10.5" text-anchor="middle" fill="#000" ><tspan dy="0" font-size="10.5">1</tspan></text>
<line x1="618.27" y1="169.4" x2="618.27" y2="172.4" stroke="#000" stroke-width="0.6" />
<line x1="632.84" y1="169.4" x2="632.84" y2="172.4" stroke="#000" stroke-width="0.6" />
<text x="632.84" y="183.4" font-size="10.5" text-anchor="middle" fill="#000" ><tspan dy="0" font-size="10.5">4</tspan></text>
<line x1="647.41" y1="169.4" x2="647.41" y2="172.4" stroke="#000" stroke-width="0.6" />
<line x1="661.98" y1="169.4" x2="661.98" y2="172.4" stroke="#000" stroke-width="0.6" />
<text x="661.98" y="183.4" font-size="10.5" text-anchor="middle" fill="#000" ><tspan dy="0" font-size="10.5">8</tspan></text>
<line x1="676.55" y1="169.4" x2="676.55" y2="172.4" stroke="#000" stroke-width="0.6" />
<line x1="691.12" y1="169.4" x2="691.12" y2="172.4" stroke="#000" stroke-width="0.6" />
<text x="691.12" y="183.4" font-size="10.5" text-anchor="middle" fill="#000" ><tspan dy="0" font-size="10.5">12</tspan></text>
<line x1="705.69" y1="169.4" x2="705.69" y2="172.4" stroke="#000" stroke-width="0.6" />
<line x1="720.26" y1="169.4" x2="720.26" y2="172.4" stroke="#000" stroke-width="0.6" />
<text x="720.26" y="183.4" font-size="10.5" text-anchor="middle" fill="#000" ><tspan dy="0" font-size="10.5">16</tspan></text>
<line x1="734.83" y1="169.4" x2="734.83" y2="172.4" stroke="#000" stroke-width="0.6" />
<line x1="749.4" y1="169.4" x2="749.4" y2="172.4" stroke="#000" stroke-width="0.6" />
<text x="749.4" y="183.4" font-size="10.5" text-anchor="middle" fill="#000" ><tspan dy="0" font-size="10.5">20</tspan></text>
<line x1="588.6" y1="169.4" x2="588.6" y2="172.4" stroke="#000" stroke-width="0.6" />
<line x1="764.2" y1="169.4" x2="764.2" y2="172.4" stroke="#f6a447" stroke-width="0.6" />
<line x1="585.6" y1="169.4" x2="588.6" y2="169.4" stroke="#000" stroke-width="0.7" />
<text x="584.4" y="173.1" font-size="10.5" text-anchor="end" fill="#000" ><tspan dy="0" font-size="10.5">0</tspan></text>
<line x1="585.6" y1="140.25" x2="588.6" y2="140.25" stroke="#000" stroke-width="0.7" />
<text x="584.4" y="143.95" font-size="10.5" text-anchor="end" fill="#000" ><tspan dy="0" font-size="10.5">200</tspan></text>
<line x1="585.6" y1="111.1" x2="588.6" y2="111.1" stroke="#000" stroke-width="0.7" />
<text x="584.4" y="114.8" font-size="10.5" text-anchor="end" fill="#000" ><tspan dy="0" font-size="10.5">400</tspan></text>
<line x1="585.6" y1="81.95" x2="588.6" y2="81.95" stroke="#000" stroke-width="0.7" />
<text x="584.4" y="85.65" font-size="10.5" text-anchor="end" fill="#000" ><tspan dy="0" font-size="10.5">600</tspan></text>
<line x1="585.6" y1="52.8" x2="588.6" y2="52.8" stroke="#000" stroke-width="0.7" />
<text x="584.4" y="56.5" font-size="10.5" text-anchor="end" fill="#000" ><tspan dy="0" font-size="10.5">800</tspan></text>
<line x1="585.6" y1="23.65" x2="588.6" y2="23.65" stroke="#000" stroke-width="0.7" />
<text x="584.4" y="27.35" font-size="10.5" text-anchor="end" fill="#000" ><tspan dy="0" font-size="10.5">1000</tspan></text>
<line x1="764.2" y1="169.4" x2="767.2" y2="169.4" stroke="#f6a447" stroke-width="0.7" />
<text x="769.7" y="173.1" font-size="10.5" text-anchor="start" fill="#000" ><tspan dy="0" font-size="10.5">0</tspan></text>
<line x1="764.2" y1="142.7" x2="767.2" y2="142.7" stroke="#f6a447" stroke-width="0.7" />
<text x="769.7" y="146.4" font-size="10.5" text-anchor="start" fill="#000" ><tspan dy="0" font-size="10.5">20</tspan></text>
<line x1="764.2" y1="116" x2="767.2" y2="116" stroke="#f6a447" stroke-width="0.7" />
<text x="769.7" y="119.7" font-size="10.5" text-anchor="start" fill="#000" ><tspan dy="0" font-size="10.5">40</tspan></text>
<line x1="764.2" y1="89.3" x2="767.2" y2="89.3" stroke="#f6a447" stroke-width="0.7" />
<text x="769.7" y="93" font-size="10.5" text-anchor="start" fill="#000" ><tspan dy="0" font-size="10.5">60</tspan></text>
<line x1="764.2" y1="62.6" x2="767.2" y2="62.6" stroke="#f6a447" stroke-width="0.7" />
<text x="769.7" y="66.3" font-size="10.5" text-anchor="start" fill="#000" ><tspan dy="0" font-size="10.5">80</tspan></text>
<line x1="764.2" y1="35.9" x2="767.2" y2="35.9" stroke="#f6a447" stroke-width="0.7" />
<text x="769.7" y="39.6" font-size="10.5" text-anchor="start" fill="#000" ><tspan dy="0" font-size="10.5">100</tspan></text>
<text x="746.3" y="36" font-size="9.45" text-anchor="end" fill="#000" ><tspan dy="0" font-size="9.45">Porous side of Ru@m-Ti</tspan><tspan dy="2.65" font-size="5.48">3</tspan><tspan dy="-2.65" font-size="9.45">C</tspan><tspan dy="2.65" font-size="5.48">2</tspan><tspan dy="-2.65" font-size="9.45">T</tspan><tspan dy="2.65" font-size="5.48">x</tspan></text>
<path d="M750.5 37 C752 31 756 27.5 761 27.2" fill="none" stroke="#f6a447" stroke-width="0.7" />
<path d="M763.4 27.2 L760.1 25.9 L760.3 28.6 Z" fill="#f28a1c" stroke="none" stroke-width="0.8" />
<rect x="593" y="52.3" width="22" height="10.3" fill="#fb7d83" stroke="#8c8c8c" stroke-width="0.5" />
<rect x="593" y="64.5" width="22" height="10.3" fill="#80cff6" stroke="#8c8c8c" stroke-width="0.5" />
<text x="616.5" y="61.4" font-size="10.2" text-anchor="start" fill="#000" ><tspan dy="0" font-size="10.2">CO</tspan></text>
<text x="616.5" y="73.7" font-size="10.2" text-anchor="start" fill="#000" ><tspan dy="0" font-size="10.2">CH</tspan><tspan dy="2.86" font-size="5.92">4</tspan></text>
<rect x="602.6" y="82.3" width="79.9" height="69" fill="#fff" stroke="#9a9a9a" stroke-width="0.6" />
<rect x="610.75" y="148.95" width="11.3" height="2.35" fill="#80cff6" stroke="#6a6a6a" stroke-width="0.5" />
<line x1="610.75" y1="148.95" x2="622.05" y2="148.95" stroke="#7a4a50" stroke-width="0.7" />
<line x1="616.4" y1="149.37" x2="616.4" y2="148.54" stroke="#444" stroke-width="0.5" />
<text x="616.4" y="161.9" font-size="10.2" text-anchor="middle" fill="#000" ><tspan dy="0" font-size="10.2">1</tspan></text>
<line x1="616.4" y1="151.3" x2="616.4" y2="152.8" stroke="#666" stroke-width="0.5" />
<rect x="624.55" y="148.82" width="11.3" height="2.48" fill="#80cff6" stroke="#6a6a6a" stroke-width="0.5" />
<line x1="624.55" y1="148.82" x2="635.85" y2="148.82" stroke="#7a4a50" stroke-width="0.7" />
<line x1="630.2" y1="149.23" x2="630.2" y2="148.4" stroke="#444" stroke-width="0.5" />
<text x="630.2" y="161.9" font-size="10.2" text-anchor="middle" fill="#000" ><tspan dy="0" font-size="10.2">2</tspan></text>
<line x1="630.2" y1="151.3" x2="630.2" y2="152.8" stroke="#666" stroke-width="0.5" />
<rect x="638.35" y="146.88" width="11.3" height="4.42" fill="#80cff6" stroke="#6a6a6a" stroke-width="0.5" />
<line x1="638.35" y1="146.88" x2="649.65" y2="146.88" stroke="#7a4a50" stroke-width="0.7" />
<line x1="644" y1="147.85" x2="644" y2="145.92" stroke="#444" stroke-width="0.5" />
<text x="644" y="161.9" font-size="10.2" text-anchor="middle" fill="#000" ><tspan dy="0" font-size="10.2">4</tspan></text>
<line x1="644" y1="151.3" x2="644" y2="152.8" stroke="#666" stroke-width="0.5" />
<rect x="652.15" y="144.4" width="11.3" height="6.9" fill="#80cff6" stroke="#6a6a6a" stroke-width="0.5" />
<line x1="652.15" y1="144.4" x2="663.45" y2="144.4" stroke="#7a4a50" stroke-width="0.7" />
<line x1="657.8" y1="145.78" x2="657.8" y2="143.02" stroke="#444" stroke-width="0.5" />
<text x="657.8" y="161.9" font-size="10.2" text-anchor="middle" fill="#000" ><tspan dy="0" font-size="10.2">6</tspan></text>
<line x1="657.8" y1="151.3" x2="657.8" y2="152.8" stroke="#666" stroke-width="0.5" />
<rect x="665.95" y="140.95" width="11.3" height="10.35" fill="#80cff6" stroke="#6a6a6a" stroke-width="0.5" />
<line x1="665.95" y1="140.95" x2="677.25" y2="140.95" stroke="#7a4a50" stroke-width="0.7" />
<line x1="671.6" y1="143.02" x2="671.6" y2="138.88" stroke="#444" stroke-width="0.5" />
<text x="671.6" y="161.9" font-size="10.2" text-anchor="middle" fill="#000" ><tspan dy="0" font-size="10.2">8</tspan></text>
<line x1="671.6" y1="151.3" x2="671.6" y2="152.8" stroke="#666" stroke-width="0.5" />
<line x1="600.6" y1="151.3" x2="602.6" y2="151.3" stroke="#666" stroke-width="0.5" />
<text x="599.8" y="154.9" font-size="10.2" text-anchor="end" fill="#000" ><tspan dy="0" font-size="10.2">0</tspan></text>
<line x1="600.6" y1="123.7" x2="602.6" y2="123.7" stroke="#666" stroke-width="0.5" />
<text x="599.8" y="127.3" font-size="10.2" text-anchor="end" fill="#000" ><tspan dy="0" font-size="10.2">20</tspan></text>
<line x1="600.6" y1="96.1" x2="602.6" y2="96.1" stroke="#666" stroke-width="0.5" />
<text x="599.8" y="99.7" font-size="10.2" text-anchor="end" fill="#000" ><tspan dy="0" font-size="10.2">40</tspan></text>
<text x="556" y="99.7" font-size="10.7" text-anchor="middle" fill="#000" transform="rotate(-90 556 99.7)" ><tspan dy="0" font-size="10.7">CO</tspan><tspan dy="3" font-size="6.21">2</tspan><tspan dy="-3" font-size="10.7"> conversion rate (mmol g</tspan><tspan dy="3" font-size="6.21">Ru</tspan><tspan dy="-7.49" font-size="6.21">-1</tspan><tspan dy="4.49" font-size="10.7"> h</tspan><tspan dy="-4.49" font-size="6.21">-1</tspan><tspan dy="4.49" font-size="10.7">)</tspan></text>
<text x="678" y="199.5" font-size="10.7" text-anchor="middle" fill="#000" ><tspan dy="0" font-size="10.7">Light power (0.1 W cm</tspan><tspan dy="-4.49" font-size="6.21">-2</tspan><tspan dy="4.49" font-size="10.7">)</tspan></text>
<text x="793" y="96" font-size="10.7" text-anchor="middle" fill="#000" transform="rotate(-90 793 96)" ><tspan dy="0" font-size="10.7">Selectivity (%)</tspan></text>
<text x="2.5" y="216.5" font-size="14.5" text-anchor="start" fill="#000" ><tspan dy="0" font-size="14.5">d</tspan></text>
<rect x="62.5" y="268.21" width="8" height="99.79" fill="#fb7d83" stroke="none" stroke-width="0.6" />
<rect x="62.5" y="274.4" width="8" height="93.6" fill="#80cff6" stroke="none" stroke-width="0.6" />
<rect x="62.5" y="268.21" width="8" height="99.79" fill="none" stroke="#6a6a6a" stroke-width="0.5" />
<line x1="62.5" y1="274.4" x2="70.5" y2="274.4" stroke="#8a5a60" stroke-width="0.4" />
<rect x="74.36" y="268.81" width="8" height="99.19" fill="#fb7d83" stroke="none" stroke-width="0.6" />
<rect x="74.36" y="274.83" width="8" height="93.17" fill="#80cff6" stroke="none" stroke-width="0.6" />
<rect x="74.36" y="268.81" width="8" height="99.19" fill="none" stroke="#6a6a6a" stroke-width="0.5" />
<line x1="74.36" y1="274.83" x2="82.36" y2="274.83" stroke="#8a5a60" stroke-width="0.4" />
<rect x="86.22" y="267.67" width="8" height="100.33" fill="#fb7d83" stroke="none" stroke-width="0.6" />
<rect x="86.22" y="273.97" width="8" height="94.03" fill="#80cff6" stroke="none" stroke-width="0.6" />
<rect x="86.22" y="267.67" width="8" height="100.33" fill="none" stroke="#6a6a6a" stroke-width="0.5" />
<line x1="86.22" y1="273.97" x2="94.22" y2="273.97" stroke="#8a5a60" stroke-width="0.4" />
<rect x="98.08" y="268.96" width="8" height="99.04" fill="#fb7d83" stroke="none" stroke-width="0.6" />
<rect x="98.08" y="274.55" width="8" height="93.45" fill="#80cff6" stroke="none" stroke-width="0.6" />
<rect x="98.08" y="268.96" width="8" height="99.04" fill="none" stroke="#6a6a6a" stroke-width="0.5" />
<line x1="98.08" y1="274.55" x2="106.08" y2="274.55" stroke="#8a5a60" stroke-width="0.4" />
<rect x="109.94" y="268.67" width="8" height="99.33" fill="#fb7d83" stroke="none" stroke-width="0.6" />
<rect x="109.94" y="274.4" width="8" height="93.6" fill="#80cff6" stroke="none" stroke-width="0.6" />
<rect x="109.94" y="268.67" width="8" height="99.33" fill="none" stroke="#6a6a6a" stroke-width="0.5" />
<line x1="109.94" y1="274.4" x2="117.94" y2="274.4" stroke="#8a5a60" stroke-width="0.4" />
<rect x="121.8" y="269.24" width="8" height="98.76" fill="#fb7d83" stroke="none" stroke-width="0.6" />
<rect x="121.8" y="274.83" width="8" height="93.17" fill="#80cff6" stroke="none" stroke-width="0.6" />
<rect x="121.8" y="269.24" width="8" height="98.76" fill="none" stroke="#6a6a6a" stroke-width="0.5" />
<line x1="121.8" y1="274.83" x2="129.8" y2="274.83" stroke="#8a5a60" stroke-width="0.4" />
<rect x="133.66" y="267.95" width="8" height="100.05" fill="#fb7d83" stroke="none" stroke-width="0.6" />
<rect x="133.66" y="274.12" width="8" height="93.88" fill="#80cff6" stroke="none" stroke-width="0.6" />
<rect x="133.66" y="267.95" width="8" height="100.05" fill="none" stroke="#6a6a6a" stroke-width="0.5" />
<line x1="133.66" y1="274.12" x2="141.66" y2="274.12" stroke="#8a5a60" stroke-width="0.4" />
<rect x="145.52" y="268.81" width="8" height="99.19" fill="#fb7d83" stroke="none" stroke-width="0.6" />
<rect x="145.52" y="274.4" width="8" height="93.6" fill="#80cff6" stroke="none" stroke-width="0.6" />
<rect x="145.52" y="268.81" width="8" height="99.19" fill="none" stroke="#6a6a6a" stroke-width="0.5" />
<line x1="145.52" y1="274.4" x2="153.52" y2="274.4" stroke="#8a5a60" stroke-width="0.4" />
<rect x="157.38" y="268.53" width="8" height="99.47" fill="#fb7d83" stroke="none" stroke-width="0.6" />
<rect x="157.38" y="274.26" width="8" height="93.74" fill="#80cff6" stroke="none" stroke-width="0.6" />
<rect x="157.38" y="268.53" width="8" height="99.47" fill="none" stroke="#6a6a6a" stroke-width="0.5" />
<line x1="157.38" y1="274.26" x2="165.38" y2="274.26" stroke="#8a5a60" stroke-width="0.4" />
<rect x="169.24" y="268.67" width="8" height="99.33" fill="#fb7d83" stroke="none" stroke-width="0.6" />
<rect x="169.24" y="274.4" width="8" height="93.6" fill="#80cff6" stroke="none" stroke-width="0.6" />
<rect x="169.24" y="268.67" width="8" height="99.33" fill="none" stroke="#6a6a6a" stroke-width="0.5" />
<line x1="169.24" y1="274.4" x2="177.24" y2="274.4" stroke="#8a5a60" stroke-width="0.4" />
<rect x="181.1" y="268.96" width="8" height="99.04" fill="#fb7d83" stroke="none" stroke-width="0.6" />
<rect x="181.1" y="274.83" width="8" height="93.17" fill="#80cff6" stroke="none" stroke-width="0.6" />
<rect x="181.1" y="268.96" width="8" height="99.04" fill="none" stroke="#6a6a6a" stroke-width="0.5" />
<line x1="181.1" y1="274.83" x2="189.1" y2="274.83" stroke="#8a5a60" stroke-width="0.4" />
<rect x="192.96" y="269.39" width="8" height="98.61" fill="#fb7d83" stroke="none" stroke-width="0.6" />
<rect x="192.96" y="275.12" width="8" height="92.88" fill="#80cff6" stroke="none" stroke-width="0.6" />
<rect x="192.96" y="269.39" width="8" height="98.61" fill="none" stroke="#6a6a6a" stroke-width="0.5" />
<line x1="192.96" y1="275.12" x2="200.96" y2="275.12" stroke="#8a5a60" stroke-width="0.4" />
<rect x="204.82" y="268.53" width="8" height="99.47" fill="#fb7d83" stroke="none" stroke-width="0.6" />
<rect x="204.82" y="274.4" width="8" height="93.6" fill="#80cff6" stroke="none" stroke-width="0.6" />
<rect x="204.82" y="268.53" width="8" height="99.47" fill="none" stroke="#6a6a6a" stroke-width="0.5" />
<line x1="204.82" y1="274.4" x2="212.82" y2="274.4" stroke="#8a5a60" stroke-width="0.4" />
<rect x="216.68" y="268.24" width="8" height="99.76" fill="#fb7d83" stroke="none" stroke-width="0.6" />
<rect x="216.68" y="274.26" width="8" height="93.74" fill="#80cff6" stroke="none" stroke-width="0.6" />
<rect x="216.68" y="268.24" width="8" height="99.76" fill="none" stroke="#6a6a6a" stroke-width="0.5" />
<line x1="216.68" y1="274.26" x2="224.68" y2="274.26" stroke="#8a5a60" stroke-width="0.4" />
<rect x="228.54" y="268.67" width="8" height="99.33" fill="#fb7d83" stroke="none" stroke-width="0.6" />
<rect x="228.54" y="274.55" width="8" height="93.45" fill="#80cff6" stroke="none" stroke-width="0.6" />
<rect x="228.54" y="268.67" width="8" height="99.33" fill="none" stroke="#6a6a6a" stroke-width="0.5" />
<line x1="228.54" y1="274.55" x2="236.54" y2="274.55" stroke="#8a5a60" stroke-width="0.4" />
<rect x="240.4" y="269.39" width="8" height="98.61" fill="#fb7d83" stroke="none" stroke-width="0.6" />
<rect x="240.4" y="275.12" width="8" height="92.88" fill="#80cff6" stroke="none" stroke-width="0.6" />
<rect x="240.4" y="269.39" width="8" height="98.61" fill="none" stroke="#6a6a6a" stroke-width="0.5" />
<line x1="240.4" y1="275.12" x2="248.4" y2="275.12" stroke="#8a5a60" stroke-width="0.4" />
<rect x="252.26" y="269.67" width="8" height="98.33" fill="#fb7d83" stroke="none" stroke-width="0.6" />
<rect x="252.26" y="275.26" width="8" height="92.74" fill="#80cff6" stroke="none" stroke-width="0.6" />
<rect x="252.26" y="269.67" width="8" height="98.33" fill="none" stroke="#6a6a6a" stroke-width="0.5" />
<line x1="252.26" y1="275.26" x2="260.26" y2="275.26" stroke="#8a5a60" stroke-width="0.4" />
<rect x="264.12" y="267.67" width="8" height="100.33" fill="#fb7d83" stroke="none" stroke-width="0.6" />
<rect x="264.12" y="273.97" width="8" height="94.03" fill="#80cff6" stroke="none" stroke-width="0.6" />
<rect x="264.12" y="267.67" width="8" height="100.33" fill="none" stroke="#6a6a6a" stroke-width="0.5" />
<line x1="264.12" y1="273.97" x2="272.12" y2="273.97" stroke="#8a5a60" stroke-width="0.4" />
<rect x="275.98" y="268.67" width="8" height="99.33" fill="#fb7d83" stroke="none" stroke-width="0.6" />
<rect x="275.98" y="274.55" width="8" height="93.45" fill="#80cff6" stroke="none" stroke-width="0.6" />
<rect x="275.98" y="268.67" width="8" height="99.33" fill="none" stroke="#6a6a6a" stroke-width="0.5" />
<line x1="275.98" y1="274.55" x2="283.98" y2="274.55" stroke="#8a5a60" stroke-width="0.4" />
<rect x="287.84" y="268.81" width="8" height="99.19" fill="#fb7d83" stroke="none" stroke-width="0.6" />
<rect x="287.84" y="274.69" width="8" height="93.31" fill="#80cff6" stroke="none" stroke-width="0.6" />
<rect x="287.84" y="268.81" width="8" height="99.19" fill="none" stroke="#6a6a6a" stroke-width="0.5" />
<line x1="287.84" y1="274.69" x2="295.84" y2="274.69" stroke="#8a5a60" stroke-width="0.4" />
<rect x="299.7" y="273.2" width="8" height="94.8" fill="#fb7d83" stroke="none" stroke-width="0.6" />
<rect x="299.7" y="279.39" width="8" height="88.61" fill="#80cff6" stroke="none" stroke-width="0.6" />
<rect x="299.7" y="273.2" width="8" height="94.8" fill="none" stroke="#6a6a6a" stroke-width="0.5" />
<line x1="299.7" y1="279.39" x2="307.7" y2="279.39" stroke="#8a5a60" stroke-width="0.4" />
<rect x="311.56" y="273.4" width="8" height="94.6" fill="#fb7d83" stroke="none" stroke-width="0.6" />
<rect x="311.56" y="279.42" width="8" height="88.58" fill="#80cff6" stroke="none" stroke-width="0.6" />
<rect x="311.56" y="273.4" width="8" height="94.6" fill="none" stroke="#6a6a6a" stroke-width="0.5" />
<line x1="311.56" y1="279.42" x2="319.56" y2="279.42" stroke="#8a5a60" stroke-width="0.4" />
<rect x="323.42" y="273.26" width="8" height="94.74" fill="#fb7d83" stroke="none" stroke-width="0.6" />
<rect x="323.42" y="279.56" width="8" height="88.44" fill="#80cff6" stroke="none" stroke-width="0.6" />
<rect x="323.42" y="273.26" width="8" height="94.74" fill="none" stroke="#6a6a6a" stroke-width="0.5" />
<line x1="323.42" y1="279.56" x2="331.42" y2="279.56" stroke="#8a5a60" stroke-width="0.4" />
<rect x="335.28" y="273.54" width="8" height="94.46" fill="#fb7d83" stroke="none" stroke-width="0.6" />
<rect x="335.28" y="279.42" width="8" height="88.58" fill="#80cff6" stroke="none" stroke-width="0.6" />
<rect x="335.28" y="273.54" width="8" height="94.46" fill="none" stroke="#6a6a6a" stroke-width="0.5" />
<line x1="335.28" y1="279.42" x2="343.28" y2="279.42" stroke="#8a5a60" stroke-width="0.4" />
<rect x="347.14" y="273.11" width="8" height="94.89" fill="#fb7d83" stroke="none" stroke-width="0.6" />
<rect x="347.14" y="279.28" width="8" height="88.72" fill="#80cff6" stroke="none" stroke-width="0.6" />
<rect x="347.14" y="273.11" width="8" height="94.89" fill="none" stroke="#6a6a6a" stroke-width="0.5" />
<line x1="347.14" y1="279.28" x2="355.14" y2="279.28" stroke="#8a5a60" stroke-width="0.4" />
<rect x="359" y="273.26" width="8" height="94.74" fill="#fb7d83" stroke="none" stroke-width="0.6" />
<rect x="359" y="279.42" width="8" height="88.58" fill="#80cff6" stroke="none" stroke-width="0.6" />
<rect x="359" y="273.26" width="8" height="94.74" fill="none" stroke="#6a6a6a" stroke-width="0.5" />
<line x1="359" y1="279.42" x2="367" y2="279.42" stroke="#8a5a60" stroke-width="0.4" />
<rect x="370.86" y="273.69" width="8" height="94.31" fill="#fb7d83" stroke="none" stroke-width="0.6" />
<rect x="370.86" y="279.85" width="8" height="88.15" fill="#80cff6" stroke="none" stroke-width="0.6" />
<rect x="370.86" y="273.69" width="8" height="94.31" fill="none" stroke="#6a6a6a" stroke-width="0.5" />
<line x1="370.86" y1="279.85" x2="378.86" y2="279.85" stroke="#8a5a60" stroke-width="0.4" />
<rect x="382.72" y="273.4" width="8" height="94.6" fill="#fb7d83" stroke="none" stroke-width="0.6" />
<rect x="382.72" y="279.56" width="8" height="88.44" fill="#80cff6" stroke="none" stroke-width="0.6" />
<rect x="382.72" y="273.4" width="8" height="94.6" fill="none" stroke="#6a6a6a" stroke-width="0.5" />
<line x1="382.72" y1="279.56" x2="390.72" y2="279.56" stroke="#8a5a60" stroke-width="0.4" />
<rect x="394.58" y="273.4" width="8" height="94.6" fill="#fb7d83" stroke="none" stroke-width="0.6" />
<rect x="394.58" y="279.56" width="8" height="88.44" fill="#80cff6" stroke="none" stroke-width="0.6" />
<rect x="394.58" y="273.4" width="8" height="94.6" fill="none" stroke="#6a6a6a" stroke-width="0.5" />
<line x1="394.58" y1="279.56" x2="402.58" y2="279.56" stroke="#8a5a60" stroke-width="0.4" />
<rect x="406.44" y="272.25" width="8" height="95.75" fill="#fb7d83" stroke="none" stroke-width="0.6" />
<rect x="406.44" y="278.56" width="8" height="89.44" fill="#80cff6" stroke="none" stroke-width="0.6" />
<rect x="406.44" y="272.25" width="8" height="95.75" fill="none" stroke="#6a6a6a" stroke-width="0.5" />
<line x1="406.44" y1="278.56" x2="414.44" y2="278.56" stroke="#8a5a60" stroke-width="0.4" />
<path d="M66.5 252.63 L78.36 252.63 L90.22 252.63 L102.08 252.63 L113.94 252.63 L125.8 252.63 L137.66 252.63 L149.52 252.63 L161.38 252.63 L173.24 252.63 L185.1 252.63 L196.96 252.63 L208.82 252.63 L220.68 252.63 L232.54 252.63 L244.4 252.63 L256.26 252.63 L268.12 252.63 L279.98 252.63 L291.84 252.63 L303.7 253.61 L315.56 253.61 L327.42 253.61 L339.28 253.61 L351.14 253.61 L363 253.61 L374.86 253.61 L386.72 253.61 L398.58 253.61 L410.44 253.61" fill="none" stroke="#f6a447" stroke-width="0.8" />
<circle cx="66.5" cy="252.63" r="1.5" fill="#fff" stroke="#f28a1c" stroke-width="0.7"/>
<circle cx="78.36" cy="252.63" r="1.5" fill="#fff" stroke="#f28a1c" stroke-width="0.7"/>
<circle cx="90.22" cy="252.63" r="1.5" fill="#fff" stroke="#f28a1c" stroke-width="0.7"/>
<circle cx="102.08" cy="252.63" r="1.5" fill="#fff" stroke="#f28a1c" stroke-width="0.7"/>
<circle cx="113.94" cy="252.63" r="1.5" fill="#fff" stroke="#f28a1c" stroke-width="0.7"/>
<circle cx="125.8" cy="252.63" r="1.5" fill="#fff" stroke="#f28a1c" stroke-width="0.7"/>
<circle cx="137.66" cy="252.63" r="1.5" fill="#fff" stroke="#f28a1c" stroke-width="0.7"/>
<circle cx="149.52" cy="252.63" r="1.5" fill="#fff" stroke="#f28a1c" stroke-width="0.7"/>
<circle cx="161.38" cy="252.63" r="1.5" fill="#fff" stroke="#f28a1c" stroke-width="0.7"/>
<circle cx="173.24" cy="252.63" r="1.5" fill="#fff" stroke="#f28a1c" stroke-width="0.7"/>
<circle cx="185.1" cy="252.63" r="1.5" fill="#fff" stroke="#f28a1c" stroke-width="0.7"/>
<circle cx="196.96" cy="252.63" r="1.5" fill="#fff" stroke="#f28a1c" stroke-width="0.7"/>
<circle cx="208.82" cy="252.63" r="1.5" fill="#fff" stroke="#f28a1c" stroke-width="0.7"/>
<circle cx="220.68" cy="252.63" r="1.5" fill="#fff" stroke="#f28a1c" stroke-width="0.7"/>
<circle cx="232.54" cy="252.63" r="1.5" fill="#fff" stroke="#f28a1c" stroke-width="0.7"/>
<circle cx="244.4" cy="252.63" r="1.5" fill="#fff" stroke="#f28a1c" stroke-width="0.7"/>
<circle cx="256.26" cy="252.63" r="1.5" fill="#fff" stroke="#f28a1c" stroke-width="0.7"/>
<circle cx="268.12" cy="252.63" r="1.5" fill="#fff" stroke="#f28a1c" stroke-width="0.7"/>
<circle cx="279.98" cy="252.63" r="1.5" fill="#fff" stroke="#f28a1c" stroke-width="0.7"/>
<circle cx="291.84" cy="252.63" r="1.5" fill="#fff" stroke="#f28a1c" stroke-width="0.7"/>
<circle cx="303.7" cy="253.61" r="1.5" fill="#fff" stroke="#f28a1c" stroke-width="0.7"/>
<circle cx="315.56" cy="253.61" r="1.5" fill="#fff" stroke="#f28a1c" stroke-width="0.7"/>
<circle cx="327.42" cy="253.61" r="1.5" fill="#fff" stroke="#f28a1c" stroke-width="0.7"/>
<circle cx="339.28" cy="253.61" r="1.5" fill="#fff" stroke="#f28a1c" stroke-width="0.7"/>
<circle cx="351.14" cy="253.61" r="1.5" fill="#fff" stroke="#f28a1c" stroke-width="0.7"/>
<circle cx="363" cy="253.61" r="1.5" fill="#fff" stroke="#f28a1c" stroke-width="0.7"/>
<circle cx="374.86" cy="253.61" r="1.5" fill="#fff" stroke="#f28a1c" stroke-width="0.7"/>
<circle cx="386.72" cy="253.61" r="1.5" fill="#fff" stroke="#f28a1c" stroke-width="0.7"/>
<circle cx="398.58" cy="253.61" r="1.5" fill="#fff" stroke="#f28a1c" stroke-width="0.7"/>
<circle cx="410.44" cy="253.61" r="1.5" fill="#fff" stroke="#f28a1c" stroke-width="0.7"/>
<path d="M297.9 368 L297.9 238.2 L417.5 238.2 L417.5 368" fill="none" stroke="#8f8f8f" stroke-width="0.8" stroke-dasharray="2.4 3"/>
<text x="360" y="267.3" font-size="9.4" text-anchor="middle" fill="#000" ><tspan dy="0" font-size="9.4">After 2 months</tspan></text>
<path d="M410.6 250.5 C411 244 414 240 418.5 239.3" fill="none" stroke="#f6a447" stroke-width="0.7" />
<path d="M421 239 L417.7 237.8 L418 240.6 Z" fill="#f28a1c" stroke="none" stroke-width="0.8" />
<line x1="54.4" y1="222.6" x2="422.3" y2="222.6" stroke="#444" stroke-width="0.8" />
<line x1="54.4" y1="222.2" x2="54.4" y2="368" stroke="#444" stroke-width="0.8" />
<line x1="54" y1="368" x2="422.3" y2="368" stroke="#222" stroke-width="0.9" />
<line x1="422.3" y1="222.2" x2="422.3" y2="368.4" stroke="#f6a447" stroke-width="0.9" />
<line x1="54.64" y1="368" x2="54.64" y2="371" stroke="#000" stroke-width="0.6" />
<text x="54.64" y="380.8" font-size="10.3" text-anchor="middle" fill="#000" ><tspan dy="0" font-size="10.3">0</tspan></text>
<line x1="113.94" y1="368" x2="113.94" y2="371" stroke="#000" stroke-width="0.6" />
<text x="113.94" y="380.8" font-size="10.3" text-anchor="middle" fill="#000" ><tspan dy="0" font-size="10.3">5</tspan></text>
<line x1="173.24" y1="368" x2="173.24" y2="371" stroke="#000" stroke-width="0.6" />
<text x="173.24" y="380.8" font-size="10.3" text-anchor="middle" fill="#000" ><tspan dy="0" font-size="10.3">10</tspan></text>
<line x1="232.54" y1="368" x2="232.54" y2="371" stroke="#000" stroke-width="0.6" />
<text x="232.54" y="380.8" font-size="10.3" text-anchor="middle" fill="#000" ><tspan dy="0" font-size="10.3">15</tspan></text>
<line x1="291.84" y1="368" x2="291.84" y2="371" stroke="#000" stroke-width="0.6" />
<text x="291.84" y="380.8" font-size="10.3" text-anchor="middle" fill="#000" ><tspan dy="0" font-size="10.3">20</tspan></text>
<line x1="351.14" y1="368" x2="351.14" y2="371" stroke="#000" stroke-width="0.6" />
<text x="351.14" y="380.8" font-size="10.3" text-anchor="middle" fill="#000" ><tspan dy="0" font-size="10.3">25</tspan></text>
<line x1="410.44" y1="368" x2="410.44" y2="371" stroke="#000" stroke-width="0.6" />
<text x="410.44" y="380.8" font-size="10.3" text-anchor="middle" fill="#000" ><tspan dy="0" font-size="10.3">30</tspan></text>
<line x1="84.29" y1="368" x2="84.29" y2="369.7" stroke="#000" stroke-width="0.5" />
<line x1="143.59" y1="368" x2="143.59" y2="369.7" stroke="#000" stroke-width="0.5" />
<line x1="202.89" y1="368" x2="202.89" y2="369.7" stroke="#000" stroke-width="0.5" />
<line x1="262.19" y1="368" x2="262.19" y2="369.7" stroke="#000" stroke-width="0.5" />
<line x1="321.49" y1="368" x2="321.49" y2="369.7" stroke="#000" stroke-width="0.5" />
<line x1="380.79" y1="368" x2="380.79" y2="369.7" stroke="#000" stroke-width="0.5" />
<line x1="51.4" y1="368" x2="54.4" y2="368" stroke="#000" stroke-width="0.6" />
<text x="49.9" y="371.7" font-size="10.3" text-anchor="end" fill="#000" ><tspan dy="0" font-size="10.3">0</tspan></text>
<line x1="51.4" y1="325" x2="54.4" y2="325" stroke="#000" stroke-width="0.6" />
<text x="49.9" y="328.7" font-size="10.3" text-anchor="end" fill="#000" ><tspan dy="0" font-size="10.3">1500</tspan></text>
<line x1="51.4" y1="282" x2="54.4" y2="282" stroke="#000" stroke-width="0.6" />
<text x="49.9" y="285.7" font-size="10.3" text-anchor="end" fill="#000" ><tspan dy="0" font-size="10.3">3000</tspan></text>
<line x1="51.4" y1="239" x2="54.4" y2="239" stroke="#000" stroke-width="0.6" />
<text x="49.9" y="242.7" font-size="10.3" text-anchor="end" fill="#000" ><tspan dy="0" font-size="10.3">4500</tspan></text>
<line x1="52.7" y1="346.5" x2="54.4" y2="346.5" stroke="#000" stroke-width="0.5" />
<line x1="52.7" y1="303.5" x2="54.4" y2="303.5" stroke="#000" stroke-width="0.5" />
<line x1="52.7" y1="260.5" x2="54.4" y2="260.5" stroke="#000" stroke-width="0.5" />
<line x1="422.3" y1="368" x2="425.3" y2="368" stroke="#f6a447" stroke-width="0.7" />
<text x="427.3" y="371.7" font-size="10.3" text-anchor="start" fill="#000" ><tspan dy="0" font-size="10.3">0</tspan></text>
<line x1="422.3" y1="337.25" x2="425.3" y2="337.25" stroke="#f6a447" stroke-width="0.7" />
<text x="427.3" y="340.95" font-size="10.3" text-anchor="start" fill="#000" ><tspan dy="0" font-size="10.3">25</tspan></text>
<line x1="422.3" y1="306.5" x2="425.3" y2="306.5" stroke="#f6a447" stroke-width="0.7" />
<text x="427.3" y="310.2" font-size="10.3" text-anchor="start" fill="#000" ><tspan dy="0" font-size="10.3">50</tspan></text>
<line x1="422.3" y1="275.75" x2="425.3" y2="275.75" stroke="#f6a447" stroke-width="0.7" />
<text x="427.3" y="279.45" font-size="10.3" text-anchor="start" fill="#000" ><tspan dy="0" font-size="10.3">75</tspan></text>
<line x1="422.3" y1="245" x2="425.3" y2="245" stroke="#f6a447" stroke-width="0.7" />
<text x="427.3" y="248.7" font-size="10.3" text-anchor="start" fill="#000" ><tspan dy="0" font-size="10.3">100</tspan></text>
<text x="19" y="300.7" font-size="10.75" text-anchor="middle" fill="#000" transform="rotate(-90 19 300.7)" ><tspan dy="0" font-size="10.75">CO</tspan><tspan dy="3.01" font-size="6.23">2</tspan><tspan dy="-3.01" font-size="10.75"> conversion rate (mmol g</tspan><tspan dy="3.01" font-size="6.23">Ru</tspan><tspan dy="-7.53" font-size="6.23">-1</tspan><tspan dy="4.51" font-size="10.75"> h</tspan><tspan dy="-4.51" font-size="6.23">-1</tspan><tspan dy="4.51" font-size="10.75">)</tspan></text>
<text x="235.8" y="396" font-size="9.8" text-anchor="middle" fill="#000" ><tspan dy="0" font-size="9.8">Cycle</tspan></text>
<text x="452.3" y="296" font-size="10.75" text-anchor="middle" fill="#000" transform="rotate(-90 452.3 296)" ><tspan dy="0" font-size="10.75">Selectivity (%)</tspan></text>
<rect x="327.5" y="224.7" width="21.7" height="10.6" fill="#fb7d83" stroke="#8c8c8c" stroke-width="0.5" />
<text x="351.6" y="233.8" font-size="10.2" text-anchor="start" fill="#000" ><tspan dy="0" font-size="10.2">CO</tspan></text>
<rect x="371.4" y="224.7" width="21" height="10.6" fill="#80cff6" stroke="#8c8c8c" stroke-width="0.5" />
<text x="395.5" y="233.8" font-size="10.2" text-anchor="start" fill="#000" ><tspan dy="0" font-size="10.2">CH</tspan><tspan dy="2.86" font-size="5.92">4</tspan></text>
<text x="466.6" y="216.8" font-size="13.4" text-anchor="start" fill="#000" font-weight="600" ><tspan dy="0" font-size="13.4">e</tspan></text>
<line x1="516.4" y1="222.5" x2="639.6" y2="222.5" stroke="#9a9a9a" stroke-width="0.7" />
<line x1="516.4" y1="368.3" x2="639.6" y2="368.3" stroke="#9a9a9a" stroke-width="0.8" />
<line x1="516.4" y1="222.5" x2="516.4" y2="368.3" stroke="#8ed4f7" stroke-width="0.9" />
<line x1="639.6" y1="222.5" x2="639.6" y2="368.3" stroke="#f8a0a5" stroke-width="0.9" />
<line x1="516.3" y1="368.3" x2="516.3" y2="371.3" stroke="#555" stroke-width="0.6" />
<text x="516.3" y="381.8" font-size="10" text-anchor="middle" fill="#000" ><tspan dy="0" font-size="10">0</tspan></text>
<line x1="545.1" y1="368.3" x2="545.1" y2="371.3" stroke="#555" stroke-width="0.6" />
<text x="545.1" y="381.8" font-size="10" text-anchor="middle" fill="#000" ><tspan dy="0" font-size="10">10</tspan></text>
<line x1="573.9" y1="368.3" x2="573.9" y2="371.3" stroke="#555" stroke-width="0.6" />
<text x="573.9" y="381.8" font-size="10" text-anchor="middle" fill="#000" ><tspan dy="0" font-size="10">20</tspan></text>
<line x1="602.7" y1="368.3" x2="602.7" y2="371.3" stroke="#555" stroke-width="0.6" />
<text x="602.7" y="381.8" font-size="10" text-anchor="middle" fill="#000" ><tspan dy="0" font-size="10">30</tspan></text>
<line x1="631.5" y1="368.3" x2="631.5" y2="371.3" stroke="#555" stroke-width="0.6" />
<text x="631.5" y="381.8" font-size="10" text-anchor="middle" fill="#000" ><tspan dy="0" font-size="10">40</tspan></text>
<line x1="513.4" y1="358" x2="516.4" y2="358" stroke="#8ed4f7" stroke-width="0.8" />
<text x="511.9" y="361.6" font-size="10" text-anchor="end" fill="#000" ><tspan dy="0" font-size="10">0</tspan></text>
<line x1="513.4" y1="324" x2="516.4" y2="324" stroke="#8ed4f7" stroke-width="0.8" />
<text x="511.9" y="327.6" font-size="10" text-anchor="end" fill="#000" ><tspan dy="0" font-size="10">1000</tspan></text>
<line x1="513.4" y1="290" x2="516.4" y2="290" stroke="#8ed4f7" stroke-width="0.8" />
<text x="511.9" y="293.6" font-size="10" text-anchor="end" fill="#000" ><tspan dy="0" font-size="10">2000</tspan></text>
<line x1="513.4" y1="256" x2="516.4" y2="256" stroke="#8ed4f7" stroke-width="0.8" />
<text x="511.9" y="259.6" font-size="10" text-anchor="end" fill="#000" ><tspan dy="0" font-size="10">3000</tspan></text>
<line x1="513.4" y1="222" x2="516.4" y2="222" stroke="#8ed4f7" stroke-width="0.8" />
<text x="511.9" y="225.6" font-size="10" text-anchor="end" fill="#000" ><tspan dy="0" font-size="10">4000</tspan></text>
<line x1="514.7" y1="341" x2="516.4" y2="341" stroke="#8ed4f7" stroke-width="0.7" />
<line x1="514.7" y1="307" x2="516.4" y2="307" stroke="#8ed4f7" stroke-width="0.7" />
<line x1="514.7" y1="273" x2="516.4" y2="273" stroke="#8ed4f7" stroke-width="0.7" />
<line x1="514.7" y1="239" x2="516.4" y2="239" stroke="#8ed4f7" stroke-width="0.7" />
<line x1="639.6" y1="366.3" x2="642.6" y2="366.3" stroke="#f8a0a5" stroke-width="0.8" />
<text x="644.1" y="369.9" font-size="10" text-anchor="start" fill="#000" ><tspan dy="0" font-size="10">0</tspan></text>
<line x1="639.6" y1="334.1" x2="642.6" y2="334.1" stroke="#f8a0a5" stroke-width="0.8" />
<text x="644.1" y="337.7" font-size="10" text-anchor="start" fill="#000" ><tspan dy="0" font-size="10">10</tspan></text>
<line x1="639.6" y1="301.9" x2="642.6" y2="301.9" stroke="#f8a0a5" stroke-width="0.8" />
<text x="644.1" y="305.5" font-size="10" text-anchor="start" fill="#000" ><tspan dy="0" font-size="10">20</tspan></text>
<line x1="639.6" y1="269.7" x2="642.6" y2="269.7" stroke="#f8a0a5" stroke-width="0.8" />
<text x="644.1" y="273.3" font-size="10" text-anchor="start" fill="#000" ><tspan dy="0" font-size="10">30</tspan></text>
<line x1="639.6" y1="237.5" x2="642.6" y2="237.5" stroke="#f8a0a5" stroke-width="0.8" />
<text x="644.1" y="241.1" font-size="10" text-anchor="start" fill="#000" ><tspan dy="0" font-size="10">40</tspan></text>
<text x="482.3" y="299.7" font-size="10.75" text-anchor="middle" fill="#000" transform="rotate(-90 482.3 299.7)" ><tspan dy="0" font-size="10.75">CH</tspan><tspan dy="3.01" font-size="6.23">4</tspan><tspan dy="-3.01" font-size="10.75"> production rate (mmol g</tspan><tspan dy="3.01" font-size="6.23">metal</tspan><tspan dy="-7.53" font-size="6.23">-1</tspan><tspan dy="4.51" font-size="10.75"> h</tspan><tspan dy="-4.51" font-size="6.23">-1</tspan><tspan dy="4.51" font-size="10.75">)</tspan></text>
<text x="670.2" y="301" font-size="10.75" text-anchor="middle" fill="#000" transform="rotate(-90 670.2 301)" ><tspan dy="0" font-size="10.75">CH</tspan><tspan dy="3.01" font-size="6.23">4</tspan><tspan dy="-3.01" font-size="10.75"> production rate (mmol g</tspan><tspan dy="3.01" font-size="6.23">cat</tspan><tspan dy="-7.53" font-size="6.23">-1</tspan><tspan dy="4.51" font-size="10.75"> h</tspan><tspan dy="-4.51" font-size="6.23">-1</tspan><tspan dy="4.51" font-size="10.75">)</tspan></text>
<text x="582.5" y="396.5" font-size="10.75" text-anchor="middle" fill="#000" ><tspan dy="0" font-size="10.75">Light power (0.1 W cm</tspan><tspan dy="-4.51" font-size="6.23">-2</tspan><tspan dy="4.51" font-size="10.75">)</tspan></text>
<text x="638.8" y="230.5" font-size="9.4" text-anchor="end" fill="#000" ><tspan dy="0" font-size="9.4">Without external heater</tspan></text>
<text x="638.8" y="240" font-size="9.4" text-anchor="end" fill="#000" ><tspan dy="0" font-size="9.4">(WEH)</tspan></text>
<text x="580" y="248.6" font-size="9.4" text-anchor="start" fill="#000" ><tspan dy="0" font-size="9.4">This work</tspan></text>
<text x="580" y="290.2" font-size="9.4" text-anchor="start" fill="#000" ><tspan dy="0" font-size="9.4">This work</tspan></text>
<path d="M574 241.6 L575.03 244.08 L577.71 244.29 L575.67 246.04 L576.29 248.66 L574 247.25 L571.71 248.66 L572.33 246.04 L570.29 244.29 L572.97 244.08 Z" fill="#fff" stroke="#5cbaf0" stroke-width="1.0" />
<path d="M574 283.1 L575.03 285.58 L577.71 285.79 L575.67 287.54 L576.29 290.16 L574 288.75 L571.71 290.16 L572.33 287.54 L570.29 285.79 L572.97 285.58 Z" fill="#f0666c" stroke="#f0666c" stroke-width="0.6" />
<path d="M559.8 314.5 L562.7 317.4 L559.8 320.3 L556.9 317.4 Z" fill="#fff" stroke="#5cbaf0" stroke-width="0.8" />
<circle cx="519.3" cy="358" r="2.2" fill="#fff" stroke="#5cbaf0" stroke-width="0.8"/>
<path d="M520.6 358 L524.5 355.75 L524.5 360.25 Z" fill="#fff" stroke="#5cbaf0" stroke-width="0.8" />
<circle cx="519.7" cy="353.5" r="2.3" fill="#f0666c" stroke="#f0666c" stroke-width="0.4"/>
<path d="M537 364.2 L539.47 366 L538.53 368.9 L535.47 368.9 L534.53 366 Z" fill="#f0666c" stroke="#f0666c" stroke-width="0.4" />
<circle cx="553.8" cy="347.7" r="2.4" fill="#f0666c" stroke="#f0666c" stroke-width="0.4"/>
<path d="M553.8 347.7 L556.08 347.7 A2.28 2.28 0 0 1 553.8 349.98 Z" fill="#fff" stroke="none" stroke-width="0.8" />
<path d="M560.8 358.3 L559.55 360.47 L557.05 360.47 L555.8 358.3 L557.05 356.13 L559.55 356.13 Z" fill="#fff" stroke="#5cbaf0" stroke-width="0.8" />
<path d="M577.1 358.3 L573.2 360.55 L573.2 356.05 Z" fill="#fff" stroke="#5cbaf0" stroke-width="0.8" />
<path d="M579.8 350 L582.4 354.5 L577.2 354.5 Z" fill="#f0666c" stroke="#f0666c" stroke-width="0.4" />
<path d="M587.5 361.3 L584.9 356.8 L590.1 356.8 Z" fill="#f0666c" stroke="#f0666c" stroke-width="0.4" />
<circle cx="636.8" cy="354.8" r="2.4" fill="#5cbaf0" stroke="#5cbaf0" stroke-width="0.4"/>
<path d="M636.8 354.8 L634.52 354.8 A2.28 2.28 0 0 1 636.8 352.52 Z" fill="#fff" stroke="none" stroke-width="0.8" />
<path d="M683.9 224.37 L684.62 226.11 L686.5 226.26 L685.07 227.48 L685.5 229.31 L683.9 228.33 L682.3 229.31 L682.73 227.48 L681.3 226.26 L683.18 226.11 Z" fill="#fff" stroke="#5cbaf0" stroke-width="1.0" />
<text x="689.8" y="230.8" font-size="10.55" text-anchor="start" fill="#000" ><tspan dy="0" font-size="10.55">Ru@m-Ti</tspan><tspan dy="2.95" font-size="6.12">3</tspan><tspan dy="-2.95" font-size="10.55">C</tspan><tspan dy="2.95" font-size="6.12">2</tspan><tspan dy="-2.95" font-size="10.55">T</tspan><tspan dy="2.95" font-size="6.12">x</tspan><tspan dy="-2.95" font-size="10.55">-f</tspan></text>
<path d="M683.9 236.35 L684.62 238.09 L686.5 238.24 L685.07 239.46 L685.5 241.29 L683.9 240.31 L682.3 241.29 L682.73 239.46 L681.3 238.24 L683.18 238.09 Z" fill="#f0666c" stroke="#f0666c" stroke-width="0.6" />
<text x="689.8" y="242.78" font-size="10.55" text-anchor="start" fill="#000" ><tspan dy="0" font-size="10.55">Ru@m-Ti</tspan><tspan dy="2.95" font-size="6.12">3</tspan><tspan dy="-2.95" font-size="10.55">C</tspan><tspan dy="2.95" font-size="6.12">2</tspan><tspan dy="-2.95" font-size="10.55">T</tspan><tspan dy="2.95" font-size="6.12">x</tspan><tspan dy="-2.95" font-size="10.55">-f</tspan></text>
<circle cx="683.9" cy="251.06" r="1.54" fill="#fff" stroke="#5cbaf0" stroke-width="0.8"/>
<text x="689.8" y="254.76" font-size="10.55" text-anchor="start" fill="#000" ><tspan dy="0" font-size="10.55">(WEH) Ni/Nb</tspan><tspan dy="2.95" font-size="6.12">2</tspan><tspan dy="-2.95" font-size="10.55">C</tspan></text>
<circle cx="683.9" cy="263.04" r="1.68" fill="#f0666c" stroke="#f0666c" stroke-width="0.4"/>
<path d="M683.9 263.04 L685.5 263.04 A1.6 1.6 0 0 1 683.9 264.64 Z" fill="#fff" stroke="none" stroke-width="0.8" />
<text x="689.8" y="266.74" font-size="10.55" text-anchor="start" fill="#000" ><tspan dy="0" font-size="10.55">(WEH) Co/Al</tspan><tspan dy="2.95" font-size="6.12">2</tspan><tspan dy="-2.95" font-size="10.55">O</tspan><tspan dy="2.95" font-size="6.12">3</tspan></text>
<path d="M683.9 273.42 L685.72 276.57 L682.08 276.57 Z" fill="#f0666c" stroke="#f0666c" stroke-width="0.4" />
<text x="689.8" y="278.72" font-size="10.55" text-anchor="start" fill="#000" ><tspan dy="0" font-size="10.55">150 </tspan><tspan dy="-4.43" font-size="6.12">°</tspan><tspan dy="4.43" font-size="10.55">C ncRuO</tspan><tspan dy="2.95" font-size="6.12">2</tspan><tspan dy="-2.95" font-size="10.55">/i-Si-o</tspan></text>
<path d="M683.9 288.6 L682.08 285.45 L685.72 285.45 Z" fill="#f0666c" stroke="#f0666c" stroke-width="0.4" />
<text x="689.8" y="290.7" font-size="10.55" text-anchor="start" fill="#000" ><tspan dy="0" font-size="10.55">150 </tspan><tspan dy="-4.43" font-size="6.12">°</tspan><tspan dy="4.43" font-size="10.55">C Ru/i-Si-o</tspan></text>
<circle cx="683.9" cy="298.98" r="1.68" fill="#5cbaf0" stroke="#5cbaf0" stroke-width="0.4"/>
<path d="M683.9 298.98 L682.3 298.98 A1.6 1.6 0 0 1 683.9 297.38 Z" fill="#fff" stroke="none" stroke-width="0.8" />
<text x="689.8" y="302.68" font-size="10.55" text-anchor="start" fill="#000" ><tspan dy="0" font-size="10.55">(WEH) Pd@Nb</tspan><tspan dy="2.95" font-size="6.12">2</tspan><tspan dy="-2.95" font-size="10.55">O</tspan><tspan dy="2.95" font-size="6.12">5</tspan></text>
<path d="M685.72 310.96 L682.99 312.54 L682.99 309.38 Z" fill="#fff" stroke="#5cbaf0" stroke-width="0.8" />
<text x="689.8" y="314.66" font-size="10.55" text-anchor="start" fill="#000" ><tspan dy="0" font-size="10.55">Co-PS@SiO</tspan><tspan dy="2.95" font-size="6.12">2</tspan></text>
<circle cx="683.9" cy="322.94" r="1.54" fill="#fff" stroke="#5cbaf0" stroke-width="0.8"/>
<text x="689.8" y="326.64" font-size="10.55" text-anchor="start" fill="#000" ><tspan dy="0" font-size="10.55">150 </tspan><tspan dy="-4.43" font-size="6.12">°</tspan><tspan dy="4.43" font-size="10.55">C Ru/Si</tspan></text>
<circle cx="683.9" cy="334.92" r="1.61" fill="#f0666c" stroke="#f0666c" stroke-width="0.4"/>
<text x="689.8" y="338.62" font-size="10.55" text-anchor="start" fill="#000" ><tspan dy="0" font-size="10.55">150 </tspan><tspan dy="-4.43" font-size="6.12">°</tspan><tspan dy="4.43" font-size="10.55">C Ni/SiO</tspan><tspan dy="2.95" font-size="6.12">2</tspan><tspan dy="-2.95" font-size="10.55">·Al</tspan><tspan dy="2.95" font-size="6.12">2</tspan><tspan dy="-2.95" font-size="10.55">O</tspan><tspan dy="2.95" font-size="6.12">3</tspan></text>
<circle cx="683.9" cy="346.9" r="1.61" fill="#f0666c" stroke="#f0666c" stroke-width="0.4"/>
<text x="689.8" y="350.6" font-size="10.55" text-anchor="start" fill="#000" ><tspan dy="0" font-size="10.55">Ru/CdS</tspan></text>
<path d="M682.08 358.88 L684.81 357.3 L684.81 360.46 Z" fill="#fff" stroke="#5cbaf0" stroke-width="0.8" />
<text x="689.8" y="362.58" font-size="10.55" text-anchor="start" fill="#000" ><tspan dy="0" font-size="10.55">200 </tspan><tspan dy="-4.43" font-size="6.12">°</tspan><tspan dy="4.43" font-size="10.55">C NiO/Ni-C</tspan></text>
<circle cx="683.9" cy="370.86" r="1.54" fill="#fff" stroke="#5cbaf0" stroke-width="0.8"/>
<text x="689.8" y="374.56" font-size="10.55" text-anchor="start" fill="#000" ><tspan dy="0" font-size="10.55">150 </tspan><tspan dy="-4.43" font-size="6.12">°</tspan><tspan dy="4.43" font-size="10.55">C Ru@Al</tspan><tspan dy="2.95" font-size="6.12">2</tspan><tspan dy="-2.95" font-size="10.55">O</tspan><tspan dy="2.95" font-size="6.12">3</tspan></text>
<text x="4" y="412.9" font-size="13.5" text-anchor="start" fill="#000" font-weight="bold" ><tspan dy="0" font-size="13.5">f</tspan></text>
<line x1="55.2" y1="421" x2="248.3" y2="421" stroke="#555" stroke-width="0.8" />
<line x1="256.2" y1="421" x2="487.4" y2="421" stroke="#555" stroke-width="0.8" />
<line x1="245.3" y1="423.6" x2="251.3" y2="418.4" stroke="#555" stroke-width="0.7" />
<line x1="253.2" y1="423.6" x2="259.2" y2="418.4" stroke="#555" stroke-width="0.7" />
<line x1="55.2" y1="565.6" x2="248.3" y2="565.6" stroke="#555" stroke-width="0.8" />
<line x1="256.2" y1="565.6" x2="487.4" y2="565.6" stroke="#555" stroke-width="0.8" />
<line x1="245.3" y1="568.2" x2="251.3" y2="563" stroke="#555" stroke-width="0.7" />
<line x1="253.2" y1="568.2" x2="259.2" y2="563" stroke="#555" stroke-width="0.7" />
<line x1="55.2" y1="421" x2="55.2" y2="565.6" stroke="#555" stroke-width="0.8" />
<line x1="487.4" y1="421" x2="487.4" y2="565.6" stroke="#555" stroke-width="0.8" />
<line x1="55.2" y1="565.6" x2="55.2" y2="568.6" stroke="#333" stroke-width="0.6" />
<text x="54.4" y="579.1" font-size="10.3" text-anchor="middle" fill="#000" ><tspan dy="0" font-size="10.3">3500</tspan></text>
<line x1="151.1" y1="565.6" x2="151.1" y2="568.6" stroke="#333" stroke-width="0.6" />
<text x="150.3" y="579.1" font-size="10.3" text-anchor="middle" fill="#000" ><tspan dy="0" font-size="10.3">3000</tspan></text>
<line x1="103.15" y1="565.6" x2="103.15" y2="567.3" stroke="#333" stroke-width="0.5" />
<line x1="199.05" y1="565.6" x2="199.05" y2="567.3" stroke="#333" stroke-width="0.5" />
<line x1="294.8" y1="565.6" x2="294.8" y2="568.6" stroke="#333" stroke-width="0.6" />
<text x="297.8" y="579.1" font-size="10.3" text-anchor="middle" fill="#000" ><tspan dy="0" font-size="10.3">2000</tspan></text>
<line x1="391.1" y1="565.6" x2="391.1" y2="568.6" stroke="#333" stroke-width="0.6" />
<text x="394.1" y="579.1" font-size="10.3" text-anchor="middle" fill="#000" ><tspan dy="0" font-size="10.3">1500</tspan></text>
<line x1="487.4" y1="565.6" x2="487.4" y2="568.6" stroke="#333" stroke-width="0.6" />
<text x="487.4" y="579.1" font-size="10.3" text-anchor="middle" fill="#000" ><tspan dy="0" font-size="10.3">1000</tspan></text>
<line x1="342.95" y1="565.6" x2="342.95" y2="567.3" stroke="#333" stroke-width="0.5" />
<line x1="439.25" y1="565.6" x2="439.25" y2="567.3" stroke="#333" stroke-width="0.5" />
<text x="272.5" y="593.5" font-size="10.75" text-anchor="middle" fill="#000" ><tspan dy="0" font-size="10.75">Wavenumber (cm</tspan><tspan dy="-4.51" font-size="6.23">-1</tspan><tspan dy="4.51" font-size="10.75">)</tspan></text>
<text x="18" y="488.3" font-size="10.75" text-anchor="middle" fill="#000" transform="rotate(-90 18 488.3)" ><tspan dy="0" font-size="10.75">Absorbance (arb. units)</tspan></text>
<line x1="66.6" y1="427.5" x2="66.6" y2="442.1" stroke="#333" stroke-width="0.8" />
<text x="69.5" y="438.2" font-size="9.2" text-anchor="start" fill="#000" ><tspan dy="0" font-size="9.2">0.1</tspan></text>
<path d="M55.2 563.1 55.5 563.0 55.8 563.0 56.4 563.0 56.6 563.2 56.9 563.2 57.2 562.9 57.5 563.1 57.8 563.1 58.1 562.8 58.4 563.0 58.7 562.9 58.9 563.0 59.2 563.0 59.5 563.1 60.1 562.9 60.4 563.0 61.0 563.0 61.2 563.2 61.5 562.9 62.4 563.2 62.7 562.9 63.0 563.1 63.5 562.9 63.8 563.0 64.1 562.9 64.4 563.1 64.7 563.0 65.0 563.1 65.3 562.9 65.6 562.9 65.8 563.2 66.4 563.2 66.7 562.9 67.0 563.1 67.3 563.0 67.6 563.1 69.0 563.1 69.3 562.9 69.6 563.0 70.4 562.9 71.0 563.2 71.3 563.0 71.9 563.0 72.2 563.1 72.5 563.0 72.7 563.2 73.0 563.0 73.9 563.3 74.2 563.0 74.5 562.9 74.8 563.3 75.1 563.0 75.6 563.2 76.5 563.0 76.8 563.3 77.1 563.1 77.4 563.3 77.6 563.1 77.9 563.2 78.2 563.0 78.5 563.0 78.8 563.1 79.1 563.0 79.4 563.2 79.7 563.3 79.9 563.1 80.2 563.3 81.1 563.1 81.7 563.3 82.0 563.0 82.2 563.2 82.5 563.0 82.8 563.0 83.1 563.2 84.8 563.1 85.1 563.0 85.4 563.2 85.7 563.2 86.0 563.1 86.3 563.3 86.6 563.3 86.8 563.0 87.1 563.2 87.4 563.2 87.7 563.4 88.3 563.2 88.6 563.4 88.9 563.2 89.1 563.2 89.4 563.4 89.7 563.2 90.0 563.2 90.3 563.2 90.6 563.3 91.2 563.1 91.5 563.4 91.7 563.4 92.3 563.1 92.6 563.3 93.2 563.2 94.3 563.3 94.6 563.2 94.9 563.3 95.5 563.2 95.8 563.4 96.1 563.2 96.3 563.2 96.9 563.4 97.2 563.2 97.5 563.4 98.4 563.2 98.6 563.4 99.2 563.3 99.5 563.2 99.8 563.3 100.1 563.2 100.4 563.4 101.2 563.2 102.1 563.4 102.4 563.3 102.7 563.4 103.0 563.2 103.2 563.2 103.5 563.4 103.8 563.4 104.1 563.2 104.7 563.2 105.3 563.4 105.8 563.2 106.1 563.4 107.3 563.4 107.6 563.2 107.8 563.4 108.1 563.5 108.4 563.2 109.0 563.2 109.3 563.4 109.6 563.2 109.9 563.2 110.2 563.4 110.4 563.3 112.5 563.5 112.7 563.3 113.0 563.4 113.3 563.3 113.6 563.5 113.9 563.2 114.2 563.3 115.0 563.2 115.6 563.5 115.9 563.3 116.2 563.5 116.8 563.3 117.3 563.4 117.6 563.2 118.5 563.5 118.8 563.3 119.1 563.4 119.4 563.3 119.9 563.5 120.5 563.3 120.8 563.5 121.1 563.3 121.9 563.3 122.2 563.6 122.5 563.4 122.8 563.3 123.1 563.6 124.0 563.4 124.5 563.4 124.8 563.3 125.1 563.6 126.0 563.5 126.3 563.6 126.5 563.2 126.8 563.3 127.1 563.5 127.4 563.4 128.3 563.5 128.9 563.4 129.4 563.4 129.7 563.3 130.0 563.5 130.6 563.3 131.2 563.5 131.4 563.4 132.3 563.3 132.6 563.5 132.9 563.3 133.5 563.2 134.0 563.4 134.3 563.4 134.6 563.5 135.2 563.3 136.0 563.4 136.3 563.6 136.9 563.4 137.2 563.2 137.5 563.2 137.8 563.5 138.1 563.3 138.3 563.4 138.6 563.5 138.9 563.4 139.2 563.4 139.5 563.3 139.8 563.4 141.2 563.4 141.5 563.6 141.8 563.4 142.1 563.6 142.4 563.6 142.7 563.4 142.9 563.6 143.5 563.6 143.8 563.3 144.1 563.6 144.4 563.6 144.7 563.3 145.0 563.6 145.3 563.3 146.1 563.3 146.4 563.4 146.7 563.3 147.0 563.5 147.3 563.1 147.6 562.9 147.8 562.4 148.1 562.4 148.7 563.0 149.0 563.4 149.9 563.3 150.1 563.5 151.3 563.4 151.6 563.5 152.7 563.5 153.0 563.7 153.6 563.4 153.9 563.6 154.2 563.4 154.5 563.6 154.7 563.4 155.9 563.5 156.5 563.3 156.8 563.6 157.0 563.7 157.3 563.5 157.6 563.4 157.9 563.5 158.5 563.3 158.8 563.6 159.3 563.7 159.6 563.5 159.9 563.6 160.5 563.4 160.8 563.4 161.1 563.7 161.4 563.5 161.6 563.6 161.9 563.4 162.2 563.4 162.5 563.6 163.1 563.8 163.4 563.6 164.0 563.6 164.2 563.5 164.5 563.6 164.8 563.5 165.1 563.8 165.4 563.5 165.7 563.6 166.0 563.5 166.3 563.6 166.8 563.5 167.4 563.7 168.0 563.4 168.3 563.7 168.8 563.5 169.4 563.8 169.7 563.7 170.0 563.5 170.3 563.6 170.6 563.5 170.9 563.6 171.1 563.8 172.0 563.8 172.3 563.6 172.9 563.6 173.2 563.8 173.4 563.6 173.7 563.8 174.3 563.6 174.6 563.9 174.9 563.9 175.2 563.6 175.5 563.8 176.3 563.7 176.6 563.9 177.5 563.7 177.8 563.8 178.3 563.6 178.6 563.7 178.9 563.7 179.2 563.8 179.8 563.6 180.1 563.8 180.3 563.5 180.6 563.5 180.9 563.8 181.2 563.5 181.5 563.7 181.8 563.5 182.1 563.5 182.4 563.7 182.7 563.6 183.2 563.5 183.5 563.7 184.1 563.5 185.0 563.8 185.2 563.7 185.5 563.8 185.8 563.7 186.4 563.7 186.7 563.9 187.0 563.7 187.3 563.7 187.5 563.9 187.8 563.6 188.4 563.9 188.7 563.6 189.0 563.9 189.6 563.7 191.6 564.0 191.9 563.8 192.4 563.8 192.7 563.8 193.3 563.9 193.6 563.9 193.9 563.7 194.2 564.0 194.4 563.9 194.7 564.0 195.0 563.8 195.3 563.9 196.5 563.8 196.7 563.9 197.0 563.8 197.3 564.0 198.2 564.0 198.5 563.8 198.8 563.8 199.1 564.0 200.2 563.8 200.8 563.9 201.1 564.0 201.4 563.9 201.6 564.0 202.2 563.9 202.5 564.0 202.8 564.0 203.1 563.8 203.4 564.1 203.7 563.8 204.2 563.8 204.5 564.0 205.4 563.9 205.7 563.8 206.2 564.0 206.5 563.8 206.8 564.0 207.4 563.9 207.7 564.1 208.0 563.9 209.4 564.1 209.7 564.0 210.0 564.1 210.6 563.9 211.1 563.9 211.4 563.8 211.7 563.8 212.0 564.1 212.3 563.9 212.6 563.9 212.9 564.1 213.1 564.0 213.7 564.1 214.3 563.8 214.6 564.1 214.9 563.9 215.2 563.9 215.4 564.1 215.7 563.9 216.0 564.0 216.3 563.9 216.9 563.9 217.2 564.1 217.8 563.9 218.0 563.9 218.3 564.0 218.6 563.9 219.2 564.2 220.3 564.2 220.9 564.0 221.5 564.1 221.8 564.0 222.1 564.1 222.6 564.0 223.2 564.2 223.5 563.9 224.1 564.1 224.9 564.0 225.5 564.2 225.8 564.2 226.1 564.0 226.4 564.2 226.7 564.1 227.5 564.2 227.8 564.1 228.4 564.2 229.3 564.1 229.5 564.2 229.8 564.3 230.1 564.1 230.7 564.0 231.0 564.3 231.3 564.1 231.6 564.1 231.8 564.3 232.1 563.9 232.4 564.2 232.7 564.3 233.0 564.1 233.3 564.2 233.6 564.1 234.4 564.3 234.7 564.0 235.0 564.2 235.3 564.0 235.6 564.1 235.9 564.0 236.2 564.2 236.7 564.2 237.0 564.0 237.9 564.3 238.5 564.0 239.0 564.3 240.5 564.3 240.8 564.1 241.1 564.0 241.3 564.3 241.6 564.0 241.9 564.2 242.8 564.0 243.1 564.3 243.9 564.0 244.2 564.3 244.5 564.3 244.8 564.1 245.1 564.3 246.2 564.0 246.5 564.3 246.8 564.1" fill="none" stroke="#f9d7ba" stroke-width="0.7" stroke-linejoin="round"/>
<path d="M256.3 563.6 256.7 563.6 257.1 563.7 257.4 563.5 257.8 563.7 258.6 563.8 259.0 563.6 260.1 563.8 260.5 563.6 261.3 563.6 261.7 563.7 262.1 563.7 262.4 563.8 262.8 563.6 263.2 563.9 264.0 563.6 264.4 563.6 264.8 563.8 265.1 563.8 265.5 563.5 265.9 563.6 266.7 563.5 267.1 563.7 267.5 563.5 268.2 563.7 268.6 563.7 269.0 563.8 269.8 563.5 270.1 563.8 270.5 563.6 270.9 563.8 271.3 563.8 271.7 563.6 272.5 563.8 272.8 563.8 273.2 563.6 273.6 563.6 274.0 563.8 274.4 563.7 274.8 563.4 275.2 563.7 275.5 563.6 275.9 563.6 276.3 563.5 276.7 563.6 277.1 563.5 277.9 563.7 278.6 563.8 279.0 563.5 279.4 563.8 279.8 563.8 280.2 563.4 280.5 563.7 280.9 563.4 281.3 563.8 281.7 563.6 282.1 563.7 282.5 563.5 284.0 563.4 284.4 563.6 284.8 563.5 285.6 563.7 285.9 563.4 286.3 563.5 286.7 563.4 287.1 563.7 287.5 563.5 287.9 563.6 288.3 563.5 288.6 563.7 289.4 563.6 289.8 563.7 290.6 563.5 290.9 563.6 291.7 563.5 292.1 563.7 292.5 563.6 292.9 563.3 293.3 563.6 293.6 563.6 294.0 563.7 294.8 563.7 295.2 563.4 295.6 563.4 296.3 563.3 296.7 563.5 297.1 563.3 297.9 563.5 298.3 563.3 299.0 563.3 299.4 563.5 299.8 563.4 300.2 563.5 300.6 563.3 301.0 563.3 301.3 563.6 301.7 563.3 302.1 563.6 302.5 563.7 302.9 563.4 303.3 563.6 304.0 563.4 304.4 563.7 304.8 563.4 305.2 563.6 306.0 563.5 306.4 563.4 306.7 563.4 307.5 563.6 308.3 563.5 308.7 563.6 309.1 563.6 309.4 563.4 309.8 563.4 310.6 563.3 311.0 563.3 311.7 563.6 313.3 563.4 313.7 563.5 314.1 563.3 314.4 563.5 315.2 563.3 315.6 563.3 316.0 563.5 316.4 563.5 316.8 563.3 317.1 563.6 317.9 563.4 318.3 563.4 319.1 563.6 319.5 563.5 319.8 563.3 320.2 563.4 320.6 563.2 321.0 563.3 321.4 563.2 321.8 563.6 322.1 563.5 322.5 563.6 322.9 563.4 323.7 563.6 324.1 563.4 324.5 563.6 325.2 563.5 325.6 563.3 326.8 563.6 327.5 563.3 328.3 563.2 328.7 563.2 329.1 563.5 329.5 563.5 329.9 563.3 330.2 563.2 330.6 563.4 331.0 563.2 332.5 563.5 332.9 563.3 333.7 563.2 334.1 563.4 334.9 563.2 336.0 563.4 336.4 563.3 336.8 563.5 337.2 563.5 337.9 563.1 338.3 563.3 339.5 563.3 339.9 563.2 340.3 563.3 340.6 563.1 341.0 563.4 341.8 563.3 342.2 563.3 342.6 563.2 343.3 563.1 344.1 563.5 344.5 563.3 345.6 563.4 346.4 563.1 346.8 563.4 347.2 563.2 347.6 563.3 348.7 563.1 349.5 563.4 349.9 563.1 350.3 563.4 351.0 563.1 351.4 563.3 351.8 563.3 352.2 563.1 352.6 563.0 353.0 563.3 354.5 563.3 354.9 563.0 355.3 563.4 356.4 563.3 357.2 563.1 357.6 563.0 358.0 563.1 358.4 563.0 358.7 563.3 359.1 563.2 359.5 562.9 359.9 563.3 360.7 563.1 361.1 563.2 361.4 563.0 361.8 563.2 362.2 563.1 362.6 562.8 363.0 563.2 363.4 562.8 363.8 563.1 364.1 562.8 364.9 562.9 365.3 563.1 365.7 563.1 366.1 562.9 366.4 563.1 366.8 563.1 367.2 562.8 367.6 562.7 368.0 563.1 368.4 562.7 369.5 562.9 369.9 562.8 370.3 562.5 370.7 562.7 371.8 562.7 372.2 562.6 372.6 562.3 373.0 562.6 373.4 562.5 373.8 562.2 374.5 562.2 374.9 562.4 375.3 562.4 375.7 562.2 376.1 562.4 376.5 562.3 377.2 562.7 378.0 562.5 380.3 562.7 380.7 562.6 381.1 562.9 381.9 562.7 382.2 562.7 382.6 563.0 383.0 562.7 383.4 562.8 383.8 563.0 384.9 563.1 385.3 562.8 385.7 563.0 386.1 562.8 386.5 563.1 386.9 563.2 387.2 562.8 388.0 562.8 388.8 563.0 389.2 562.9 389.6 563.2 389.9 563.0 390.7 563.2 391.1 563.0 391.5 563.1 391.9 563.0 393.0 563.1 393.8 562.8 395.0 562.9 395.3 563.1 395.7 562.8 396.1 563.1 396.5 563.2 397.3 562.9 397.6 563.1 398.0 563.0 398.4 563.1 398.8 562.8 399.2 563.0 400.0 563.0 400.7 562.8 401.1 563.0 401.9 562.9 402.3 563.2 403.0 562.8 403.4 562.9 403.8 563.1 404.2 562.8 404.6 563.0 405.0 562.8 405.4 563.0 405.7 563.1 406.5 562.8 406.9 563.0 407.3 562.8 408.4 563.0 408.8 562.9 409.6 562.9 410.4 562.7 411.1 562.9 412.3 562.7 412.7 562.9 413.1 562.9 413.8 562.7 414.2 562.8 415.0 562.4 415.4 562.5 416.9 562.3 417.3 562.4 417.7 562.3 418.1 562.5 418.4 562.2 418.8 562.4 419.2 562.4 419.6 562.3 420.0 562.5 420.4 562.6 420.8 562.4 421.5 562.7 421.9 562.8 422.3 562.7 422.7 562.8 423.1 562.5 423.5 562.8 425.8 562.7 426.5 562.9 426.9 562.6 427.7 562.9 428.8 562.3 429.2 562.8 429.6 562.9 430.0 562.8 430.4 562.9 430.8 562.7 431.2 562.7 431.5 562.9 432.7 562.7 433.1 563.0 433.5 562.9 433.9 563.0 434.2 562.8 434.6 563.1 435.0 562.7 435.4 562.9 435.8 562.8 436.2 563.0 437.3 562.7 438.1 563.0 438.5 562.7 439.6 563.0 440.0 562.9 440.4 562.7 440.8 563.0 441.2 562.9 441.6 562.8 441.9 562.9 442.7 562.7 443.5 562.8 443.9 563.0 444.3 563.0 444.6 562.9 445.4 563.0 445.8 562.7 446.2 563.0 446.6 562.7 447.0 562.7 447.3 563.0 447.7 562.7 448.1 562.9 449.3 563.0 449.7 562.8 450.0 562.9 450.4 562.7 450.8 562.7 451.2 563.0 451.6 562.9 453.1 562.9 453.5 562.8 454.3 563.0 455.4 562.8 455.8 562.9 456.2 562.7 456.6 562.9 457.0 562.7 457.4 562.8 457.7 562.9 458.1 562.7 458.5 562.9 459.7 562.8 460.4 563.0 460.8 562.7 461.2 562.7 461.6 562.8 462.0 562.8 462.4 562.9 462.7 562.6 463.5 562.9 463.9 562.7 464.3 562.6 464.7 562.8 465.1 562.6 465.8 562.9 466.2 562.7 466.6 562.8 467.0 562.7 467.4 562.7 467.8 562.9 468.5 562.6 468.9 562.8 469.7 562.6 470.1 562.8 471.2 562.6 471.6 562.9 472.0 562.9 472.4 562.6 473.1 562.8 473.5 562.6 473.9 562.6 474.3 562.7 474.7 562.5 475.5 562.6 476.2 562.9 476.6 562.6 477.0 562.6 477.4 562.8 478.2 562.7 478.5 562.8 478.9 562.6 480.1 562.8 480.5 562.6 480.9 562.7 481.2 562.6 481.6 562.8 482.0 562.7 482.4 562.8 483.2 562.7 483.5 562.8 483.9 562.9 484.3 562.7 484.7 562.8 485.1 562.7 485.9 562.9 486.6 562.5 487.4 562.7" fill="none" stroke="#f9d7ba" stroke-width="0.7" stroke-linejoin="round"/>
<path d="M55.2 556.5 55.5 556.7 56.1 556.6 56.4 556.4 56.6 556.6 56.9 556.4 57.2 556.5 57.8 556.6 58.1 556.4 58.4 556.6 58.7 556.5 59.5 556.6 59.8 556.4 60.4 556.4 60.7 556.4 61.0 556.7 61.2 556.5 61.5 556.4 61.8 556.6 62.4 556.4 62.7 556.6 63.0 556.5 63.3 556.7 63.5 556.5 63.8 556.6 64.1 556.6 64.4 556.6 64.7 556.4 65.3 556.6 65.6 556.5 65.8 556.6 66.1 556.5 66.4 556.7 67.0 556.5 67.6 556.7 67.9 556.7 68.1 556.5 68.4 556.7 68.7 556.5 69.0 556.6 69.3 556.4 70.4 556.8 71.3 556.5 71.6 556.7 71.9 556.7 72.2 556.4 72.7 556.6 73.0 556.5 73.3 556.7 73.9 556.6 74.2 556.6 74.5 556.7 74.8 556.7 75.3 556.5 75.6 556.8 76.2 556.8 76.5 556.5 76.8 556.7 77.1 556.6 77.4 556.5 77.9 556.7 78.2 556.6 78.5 556.8 79.1 556.6 79.4 556.8 79.7 556.8 79.9 556.6 80.2 556.7 80.5 556.5 80.8 556.8 81.1 556.6 81.4 556.7 81.7 556.6 82.0 556.7 82.2 556.6 82.8 556.8 83.4 556.6 84.0 556.8 84.3 556.7 84.5 556.8 85.1 556.7 85.7 556.7 86.3 556.9 86.8 556.8 87.1 556.8 87.4 556.7 87.7 556.8 88.0 556.6 90.0 556.9 90.3 556.6 90.9 556.9 91.2 556.6 91.5 556.7 92.3 556.9 92.6 556.6 92.9 556.8 93.2 556.8 93.5 556.6 93.8 556.9 94.0 556.7 94.6 556.8 94.9 556.6 95.5 556.9 95.8 556.8 96.1 556.9 96.3 556.7 96.9 556.6 97.2 556.9 97.5 556.7 97.8 556.8 98.9 556.9 99.2 556.7 99.5 556.9 99.8 556.6 100.1 556.9 100.4 556.6 100.7 556.9 100.9 556.9 101.2 556.7 101.5 556.8 101.8 556.7 102.1 556.8 102.4 556.7 102.7 556.9 103.0 556.7 103.2 556.8 103.5 556.6 103.8 557.0 104.1 556.9 104.4 556.7 104.7 556.7 105.0 556.8 105.3 556.7 106.4 556.8 106.7 557.0 107.3 556.7 107.6 556.9 107.8 556.8 108.4 556.9 109.3 556.7 109.9 556.9 110.2 556.9 110.4 557.0 111.3 556.8 112.2 557.0 112.7 556.8 113.0 556.9 113.3 556.7 113.9 556.9 114.2 556.9 114.5 557.0 114.8 556.8 115.0 556.8 115.3 556.9 115.6 556.8 115.9 556.9 116.8 557.0 117.1 556.8 117.6 556.8 117.9 557.0 118.2 556.8 118.8 556.9 119.6 557.0 120.2 556.8 120.8 556.7 121.1 557.0 121.4 556.7 122.2 556.6 122.5 557.0 122.8 556.8 123.1 556.7 123.4 557.0 124.0 556.5 124.2 556.9 124.5 556.7 124.8 556.7 125.4 556.9 126.0 556.5 126.3 556.8 126.5 556.9 126.8 556.8 127.1 556.6 127.4 556.7 128.0 556.4 128.3 556.8 128.6 556.8 128.9 556.6 129.1 556.7 129.4 556.5 129.7 556.1 130.0 556.7 130.3 556.8 130.6 556.6 130.9 556.8 131.2 556.4 131.4 556.1 131.7 556.3 132.0 556.7 132.9 556.7 133.5 556.0 134.0 556.5 134.3 556.6 134.6 556.6 134.9 556.7 135.2 556.3 135.5 556.1 135.8 556.6 136.0 556.5 136.9 556.5 137.2 556.2 137.5 556.3 137.8 556.8 138.1 556.6 138.3 556.8 138.6 556.8 138.9 556.3 139.2 556.3 139.5 556.4 139.8 556.8 140.1 556.7 140.4 556.9 140.6 556.6 141.2 556.4 142.1 556.8 142.4 556.9 142.7 556.6 142.9 556.7 143.2 556.4 143.5 556.7 143.8 556.8 144.4 556.8 145.0 556.6 145.8 556.6 146.4 556.3 146.7 556.3 147.3 555.5 147.6 554.6 147.8 552.6 148.1 551.7 148.4 553.9 148.7 555.3 149.0 555.9 149.3 556.0 149.6 556.4 150.4 556.6 150.7 556.4 151.6 556.7 151.9 556.7 152.2 556.6 152.4 556.7 152.7 556.3 153.0 556.8 153.3 556.7 153.6 556.9 153.9 556.7 154.2 556.8 154.5 556.6 154.7 556.5 155.3 556.7 155.9 556.6 156.2 556.7 156.5 556.3 156.8 556.7 157.0 556.7 157.3 556.9 157.9 556.6 158.2 556.2 158.5 556.1 159.1 556.8 159.3 557.0 159.6 556.7 159.9 556.8 160.2 556.3 160.5 556.2 160.8 556.8 161.1 556.8 161.4 557.1 161.6 556.9 161.9 556.5 162.2 556.3 162.5 556.5 162.8 556.7 163.1 557.0 163.7 556.7 164.2 556.2 164.8 557.1 165.1 557.1 165.4 556.9 165.7 556.7 166.3 556.6 166.5 557.0 166.8 556.9 167.1 557.0 167.4 557.0 167.7 556.8 168.3 556.8 168.8 556.9 169.1 557.1 169.7 557.0 170.0 556.7 170.3 557.0 171.1 557.1 171.4 557.2 171.7 557.2 172.0 557.1 172.3 557.1 172.9 557.3 173.2 557.0 174.0 557.2 174.3 557.0 174.9 557.2 175.2 557.3 175.7 557.1 176.0 557.2 176.3 557.0 176.9 557.1 178.6 557.0 178.9 556.9 179.2 557.1 179.5 556.9 179.8 557.0 180.1 556.8 180.3 557.0 180.6 556.8 181.2 556.7 181.5 556.8 182.1 556.8 182.4 556.6 182.7 556.6 182.9 556.8 183.5 556.8 183.8 556.6 184.1 556.8 184.4 556.8 184.7 556.9 185.2 556.8 185.5 556.9 185.8 557.2 186.1 557.0 186.4 557.1 186.7 557.2 187.0 557.0 187.3 557.2 187.5 557.2 187.8 557.1 188.4 557.2 188.7 557.1 189.6 557.4 189.8 557.2 190.1 557.3 190.4 557.2 191.0 557.4 191.9 557.4 192.1 557.2 192.7 557.4 193.0 557.2 193.3 557.3 193.6 557.5 193.9 557.2 194.2 557.4 194.4 557.2 194.7 557.5 195.3 557.4 195.6 557.2 196.2 557.3 196.5 557.5 197.0 557.3 197.3 557.5 197.6 557.2 198.8 557.3 199.1 557.2 199.3 557.5 200.2 557.5 200.5 557.3 200.8 557.5 201.1 557.3 201.4 557.4 201.6 557.3 202.5 557.3 202.8 557.6 204.2 557.3 204.8 557.3 205.4 557.5 206.2 557.3 206.5 557.5 207.1 557.4 207.4 557.5 207.7 557.3 208.0 557.6 208.3 557.4 208.8 557.6 209.1 557.4 209.4 557.5 209.7 557.3 210.3 557.4 210.8 557.3 211.1 557.6 211.4 557.4 212.0 557.3 212.9 557.6 213.1 557.4 213.4 557.6 213.7 557.4 214.0 557.5 214.3 557.4 214.6 557.5 214.9 557.6 215.2 557.4 215.7 557.5 216.9 557.5 217.2 557.6 217.5 557.3 218.0 557.4 218.3 557.6 218.6 557.6 218.9 557.4 219.5 557.5 219.8 557.6 220.1 557.4 220.6 557.6 220.9 557.5 222.1 557.4 222.4 557.7 222.9 557.4 223.5 557.5 223.8 557.4 224.1 557.7 224.4 557.5 225.2 557.6 225.5 557.5 225.8 557.7 226.1 557.6 226.4 557.7 226.7 557.4 227.2 557.6 227.5 557.5 227.8 557.6 228.1 557.6 228.4 557.7 228.7 557.5 229.3 557.5 229.5 557.7 229.8 557.5 230.1 557.8 230.4 557.6 230.7 557.6 231.0 557.7 231.6 557.5 232.1 557.7 232.4 557.5 232.7 557.7 233.0 557.5 233.6 557.8 233.9 557.4 234.1 557.8 234.7 557.5 235.0 557.8 235.6 557.5 236.2 557.7 236.7 557.5 237.6 557.7 237.9 557.7 238.2 557.5 238.5 557.5 238.8 557.8 239.3 557.7 239.6 557.5 239.9 557.8 240.2 557.8 240.5 557.6 240.8 557.8 241.1 557.5 241.3 557.7 241.6 557.5 241.9 557.6 242.2 557.8 242.5 557.6 243.4 557.8 243.6 557.6 244.2 557.7 244.5 557.6 244.8 557.8 245.1 557.7 245.4 557.8 245.9 557.6 246.5 557.8 246.8 557.8" fill="none" stroke="#f4b784" stroke-width="0.7" stroke-linejoin="round"/>
<path d="M256.3 556.9 256.7 557.1 257.1 556.8 257.4 557.2 257.8 556.8 258.2 556.9 258.6 556.9 259.4 557.1 259.7 557.1 260.1 556.9 260.5 557.2 260.9 557.1 261.3 556.9 262.4 556.8 262.8 556.9 263.2 556.8 264.4 557.0 264.8 557.1 265.9 557.0 266.3 557.1 266.7 556.8 267.1 556.9 267.8 556.8 268.2 557.0 268.6 556.8 269.0 556.8 269.4 557.0 269.8 557.1 270.1 556.8 270.9 556.8 271.3 557.0 271.7 556.9 272.1 557.1 273.2 556.8 273.6 557.1 274.0 556.7 274.4 557.1 274.8 556.7 275.2 557.0 275.5 556.8 276.3 556.7 276.7 556.9 277.1 556.8 277.5 557.0 277.9 556.8 278.2 557.0 278.6 556.7 279.4 557.1 279.8 556.7 280.2 557.0 280.5 557.1 280.9 557.0 281.3 557.1 282.5 556.7 282.9 556.8 284.0 556.8 285.2 557.0 285.6 556.8 285.9 557.0 286.3 556.8 286.7 556.9 287.9 556.8 288.3 557.0 288.6 556.9 289.0 556.8 289.4 557.0 290.2 556.6 290.6 556.9 290.9 556.6 291.3 556.8 291.7 556.7 292.1 556.8 292.9 556.7 293.3 556.9 294.0 556.8 294.4 556.8 295.2 556.6 296.0 556.7 296.3 556.9 296.7 556.7 297.1 556.8 297.5 556.6 297.9 557.0 298.3 556.9 298.7 556.6 299.0 556.8 299.4 556.7 300.6 556.8 301.3 556.6 301.7 556.8 302.1 556.7 302.5 556.9 302.9 556.7 304.0 556.6 304.4 556.9 304.8 556.6 305.6 556.9 306.0 556.8 306.4 556.9 306.7 556.9 307.1 556.6 307.9 556.6 308.3 556.9 308.7 556.9 309.8 556.7 310.2 556.8 310.6 556.6 311.4 556.8 311.7 556.6 312.1 556.9 312.5 556.7 313.3 556.9 313.7 556.7 314.4 556.7 314.8 556.8 315.2 556.5 315.6 556.6 316.0 556.8 316.4 556.9 316.8 556.5 317.5 556.9 317.9 556.8 318.3 556.6 318.7 556.8 319.5 556.6 319.8 556.7 320.6 556.5 321.8 556.6 322.1 556.7 322.5 556.6 323.7 556.7 324.1 556.6 324.5 556.8 325.2 556.5 325.6 556.8 326.0 556.7 326.4 556.5 326.8 556.8 327.2 556.5 327.9 556.8 328.3 556.6 328.7 556.8 329.1 556.5 329.5 556.7 329.9 556.5 330.2 556.5 330.6 556.8 331.0 556.7 331.4 556.8 331.8 556.5 332.2 556.8 332.9 556.8 333.3 556.5 333.7 556.7 334.9 556.6 335.2 556.6 335.6 556.4 336.0 556.6 336.8 556.4 337.2 556.7 337.6 556.7 337.9 556.4 338.3 556.6 338.7 556.4 339.1 556.4 339.5 556.6 340.3 556.7 340.6 556.4 341.0 556.6 342.2 556.6 342.6 556.4 342.9 556.7 343.3 556.5 345.3 556.6 345.6 556.4 346.0 556.3 346.8 556.6 347.2 556.3 347.6 556.6 348.0 556.6 348.7 556.3 349.5 556.6 349.9 556.2 350.3 556.5 350.7 556.5 351.0 556.2 351.8 556.3 352.2 556.5 352.6 556.2 353.4 556.5 353.7 556.2 354.1 556.1 354.5 556.5 355.3 556.1 355.7 556.3 356.0 556.3 356.4 556.1 356.8 556.2 357.2 556.0 358.4 556.0 358.7 556.2 359.1 556.0 360.3 555.9 361.1 555.9 361.4 555.6 362.2 555.8 362.6 555.5 363.0 555.6 363.4 555.5 364.1 555.7 364.5 555.6 364.9 555.4 365.3 555.6 365.7 555.3 366.1 555.5 366.4 555.2 366.8 555.5 367.2 555.3 367.6 555.4 368.0 555.3 368.4 555.0 368.8 555.0 369.1 554.8 369.5 554.8 370.3 554.5 370.7 554.2 371.1 554.3 371.8 553.7 372.6 553.7 373.0 553.2 373.4 553.5 374.2 553.4 374.9 553.0 375.3 553.2 375.7 553.3 376.1 553.2 376.5 553.6 376.8 553.7 377.2 553.6 377.6 554.0 378.0 554.0 378.4 554.3 379.2 554.3 379.9 554.8 380.7 554.8 381.1 555.2 382.2 555.3 382.6 555.4 383.0 555.3 383.4 555.6 383.8 555.4 384.2 555.6 385.7 555.8 386.1 555.6 386.5 555.8 386.9 555.8 387.2 555.7 388.0 555.8 388.4 556.0 389.2 555.9 389.6 556.1 390.7 556.1 391.1 555.9 392.3 556.0 393.0 556.0 393.4 556.2 393.8 555.9 394.6 556.1 395.0 555.9 396.1 556.3 396.5 556.1 397.3 556.1 397.6 556.2 398.0 556.0 398.4 556.2 398.8 556.0 399.6 556.1 400.0 555.9 400.7 556.2 401.1 556.1 401.5 556.2 402.3 555.9 402.7 555.8 403.4 556.1 405.0 555.9 405.4 556.1 405.7 555.9 406.1 555.9 406.9 555.7 407.3 555.9 407.7 555.8 408.0 555.9 408.8 555.7 409.2 555.9 409.6 555.6 410.4 555.7 410.7 555.6 411.1 555.3 411.5 555.4 412.3 555.3 412.7 555.1 414.2 554.9 415.0 554.5 415.4 554.6 415.8 554.2 416.1 554.2 416.5 553.9 416.9 553.8 417.3 554.1 417.7 553.8 418.4 554.0 418.8 553.7 420.0 554.1 420.4 554.1 420.8 554.4 422.3 554.7 422.7 555.0 423.1 555.1 423.8 555.2 424.2 555.3 424.6 555.2 425.8 555.5 426.2 555.4 426.5 555.7 426.9 555.4 427.3 555.7 427.7 555.3 428.1 555.3 428.5 555.0 428.8 554.5 429.2 554.9 429.6 555.5 430.0 555.6 430.4 555.9 430.8 555.7 431.2 555.9 431.5 555.9 431.9 555.8 433.1 556.0 433.5 556.0 433.9 556.2 434.2 556.1 434.6 555.9 435.0 556.1 435.4 556.2 435.8 555.9 436.2 556.1 437.3 555.9 437.7 556.1 438.1 555.9 438.5 556.2 438.9 555.9 439.2 556.1 439.6 556.0 440.0 556.1 440.4 556.0 440.8 556.1 441.2 556.0 441.6 556.1 441.9 555.9 442.3 556.0 442.7 556.2 443.1 556.0 443.5 555.9 443.9 556.2 444.3 556.2 444.6 555.9 445.0 555.9 445.4 556.2 445.8 556.0 446.2 555.9 446.6 556.2 447.0 556.0 447.3 556.2 447.7 556.0 448.9 556.2 449.3 556.0 449.7 556.0 450.4 556.3 451.2 556.2 451.6 555.9 452.0 556.0 452.7 556.0 453.1 556.2 453.5 556.1 453.9 555.9 455.8 556.0 456.2 555.9 457.0 556.3 457.4 556.1 457.7 556.3 458.5 556.0 459.7 556.2 461.2 555.9 461.6 556.2 462.0 556.2 462.4 556.2 462.7 555.9 463.1 556.0 463.9 555.9 464.3 556.3 464.7 555.9 465.1 556.1 465.4 556.0 465.8 556.1 466.2 555.9 466.6 556.1 467.4 556.1 467.8 555.9 468.5 556.2 469.3 556.0 469.7 556.1 470.5 555.9 470.8 556.0 471.2 555.9 471.6 556.1 472.0 555.9 472.4 555.8 473.1 556.2 473.5 556.2 473.9 555.9 475.5 555.9 475.8 556.1 476.6 555.7 477.0 556.0 477.8 555.7 478.9 555.8 479.3 555.6 480.1 555.5 480.5 555.8 481.2 555.7 481.6 555.9 482.0 555.7 483.2 556.1 483.5 555.8 483.9 555.8 484.3 556.1 485.1 556.0 485.5 556.1 485.9 555.9 486.2 556.1 486.6 555.9 487.4 556.0" fill="none" stroke="#f4b784" stroke-width="0.7" stroke-linejoin="round"/>
<path d="M55.2 550.6 55.5 550.7 56.1 550.6 56.6 550.8 56.9 550.5 57.8 550.7 58.1 550.7 58.7 550.9 59.2 550.6 59.5 550.9 59.8 550.6 60.1 550.8 60.4 550.6 61.0 550.8 61.2 550.8 61.5 550.6 62.7 550.7 63.5 550.6 63.8 550.8 64.1 550.6 64.4 550.6 65.0 550.9 65.6 550.7 65.8 550.8 66.1 550.6 66.7 550.7 67.0 550.9 67.9 550.6 68.1 550.6 68.4 550.9 69.0 550.6 69.3 550.9 69.9 550.9 70.2 550.7 70.4 550.9 71.0 550.7 71.3 550.7 71.6 551.0 71.9 550.7 73.0 550.7 73.3 550.8 73.6 550.7 74.2 551.0 74.5 550.9 74.8 550.7 75.1 550.9 75.6 550.7 76.2 550.7 76.5 550.8 76.8 550.8 77.1 551.0 77.6 551.0 77.9 550.8 78.2 550.8 78.5 551.0 78.8 550.8 79.1 551.0 79.4 550.9 79.7 551.0 79.9 550.9 80.2 551.0 80.5 550.7 80.8 550.9 81.1 550.7 81.7 550.9 82.0 550.7 82.2 550.9 83.1 550.7 83.4 550.8 83.7 551.0 84.3 550.7 84.5 550.8 85.1 551.0 85.4 551.0 85.7 550.8 86.0 551.0 86.3 550.8 86.6 551.0 86.8 550.8 87.1 550.8 87.4 551.0 88.0 550.9 88.3 551.0 89.1 550.7 89.4 551.0 89.7 551.0 90.3 550.9 90.6 550.9 90.9 550.8 91.2 551.0 91.5 550.9 92.0 551.0 92.9 551.0 93.5 550.8 93.8 550.8 94.0 551.0 94.3 551.0 94.6 550.8 94.9 551.1 95.5 551.1 95.8 550.8 96.1 550.9 96.6 551.1 96.9 550.8 97.2 550.8 97.5 550.9 97.8 550.8 98.6 551.1 99.5 551.0 100.1 551.1 100.4 550.8 100.9 550.9 101.2 551.0 102.1 550.9 102.4 551.1 103.2 550.9 103.8 551.2 104.4 550.9 104.7 551.1 105.0 551.0 105.3 551.1 105.8 551.0 106.1 551.1 106.7 551.0 107.0 551.0 107.6 550.9 107.8 551.1 108.1 550.9 109.3 551.0 109.9 551.0 110.2 551.1 110.7 551.0 111.0 551.0 111.3 550.9 111.6 551.1 112.5 551.0 112.7 551.2 113.0 551.0 113.3 551.2 113.6 551.0 114.8 550.9 115.0 551.1 115.3 550.9 115.6 551.1 115.9 551.1 116.2 551.2 116.5 550.9 116.8 551.2 118.5 551.0 118.8 551.1 119.6 550.9 119.9 551.0 120.8 551.0 121.4 551.1 121.7 550.9 121.9 550.8 122.2 551.0 122.5 551.0 122.8 551.2 123.1 550.9 123.7 550.6 124.0 550.9 124.5 550.9 124.8 551.1 125.1 550.9 125.4 550.9 125.7 550.6 126.3 551.0 126.5 550.8 126.8 550.9 127.1 550.8 127.4 550.4 127.7 550.3 128.6 550.8 128.9 550.9 129.1 550.8 129.4 550.3 129.7 550.1 130.0 550.7 130.9 550.9 131.2 550.6 131.4 549.8 131.7 550.0 132.0 550.6 132.3 550.7 132.9 550.6 133.2 550.2 133.5 549.5 133.7 550.2 134.0 550.7 134.3 550.9 134.6 550.8 134.9 550.5 135.2 549.9 135.5 549.7 135.8 550.4 136.0 550.9 136.6 550.8 136.9 550.4 137.2 549.7 137.5 550.2 137.8 550.4 138.1 550.9 138.3 550.6 138.9 550.5 139.2 550.0 139.5 550.5 140.1 550.7 140.6 550.6 140.9 550.4 141.2 550.1 141.5 550.6 141.8 550.8 142.1 550.8 142.4 550.7 142.7 550.7 142.9 550.3 143.8 550.7 144.7 550.6 145.0 550.5 145.3 550.6 145.8 550.4 146.7 549.5 147.0 548.8 147.3 547.5 147.6 544.8 147.8 539.9 148.1 538.3 148.4 543.5 148.7 547.0 149.0 548.5 149.3 549.5 149.6 549.8 149.9 549.9 150.1 550.2 150.4 550.3 150.7 550.0 151.0 550.5 151.3 550.4 151.6 550.6 151.9 550.5 152.2 550.6 152.4 550.4 152.7 550.4 153.0 550.8 153.3 550.6 153.6 550.9 153.9 550.9 154.2 550.5 154.5 550.2 155.6 551.0 155.9 550.9 156.5 549.9 156.8 550.6 157.0 550.9 157.3 550.9 157.6 551.0 158.2 550.1 158.5 550.0 158.8 550.6 159.3 551.1 159.6 550.9 159.9 550.5 160.2 549.8 160.5 550.0 160.8 550.8 161.1 550.7 161.4 550.9 161.6 550.8 161.9 550.6 162.2 549.8 162.5 550.6 163.1 551.1 163.4 551.1 163.7 550.9 164.0 550.4 164.2 550.1 164.5 550.7 164.8 551.1 165.7 550.7 166.0 550.1 166.3 550.6 166.8 551.2 167.1 551.0 167.4 551.1 168.0 550.4 168.3 551.0 168.6 551.2 168.8 551.1 169.4 551.1 170.3 551.0 170.9 551.3 171.4 551.2 171.7 551.5 172.0 551.2 172.9 551.2 173.2 551.3 173.4 551.3 173.7 551.4 174.0 551.2 174.9 551.4 175.5 551.3 175.7 551.1 176.0 551.3 176.3 551.1 176.6 551.3 177.5 551.3 177.8 551.1 178.0 551.2 178.3 551.2 178.6 551.0 178.9 551.1 179.2 550.9 179.8 550.8 180.1 550.9 180.6 550.8 180.9 550.6 181.8 550.6 182.1 550.7 182.4 550.4 183.2 550.6 183.8 550.5 184.1 550.7 185.0 550.8 185.2 551.1 186.1 551.0 186.7 551.3 187.3 551.3 187.5 551.1 187.8 551.3 188.1 551.1 188.4 551.4 189.0 551.5 189.3 551.4 190.4 551.4 190.7 551.6 191.0 551.3 191.3 551.5 191.9 551.6 192.1 551.4 192.4 551.4 193.3 551.6 193.6 551.5 193.9 551.4 194.2 551.6 194.4 551.6 194.7 551.4 195.0 551.4 195.3 551.6 195.6 551.3 196.2 551.4 196.5 551.6 196.7 551.4 197.0 551.6 197.6 551.4 197.9 551.4 198.2 551.7 199.1 551.7 199.3 551.4 200.2 551.6 201.1 551.5 201.4 551.6 201.6 551.5 202.5 551.5 202.8 551.7 203.4 551.5 203.7 551.7 203.9 551.6 204.2 551.7 204.5 551.5 204.8 551.7 205.1 551.7 205.4 551.5 205.7 551.8 206.0 551.8 206.2 551.6 206.5 551.6 206.8 551.8 208.0 551.5 208.3 551.5 208.5 551.8 209.1 551.7 209.4 551.8 209.7 551.6 210.0 551.7 210.3 551.6 210.8 551.7 211.4 551.7 212.0 551.8 212.3 551.7 212.9 551.8 213.1 551.6 214.0 551.8 214.3 551.6 214.9 551.8 215.2 551.6 215.4 551.5 215.7 551.8 216.3 551.6 217.5 551.9 217.8 551.6 218.0 551.6 218.3 551.8 218.6 551.7 218.9 551.8 219.2 551.6 219.5 551.8 219.8 551.7 220.3 551.9 220.6 551.7 220.9 551.7 221.2 551.9 221.8 551.8 222.4 551.6 222.6 551.8 222.9 551.6 223.5 551.8 224.1 551.6 224.4 551.8 224.9 551.7 225.2 551.9 226.4 551.7 226.7 551.8 227.2 551.8 227.5 551.9 227.8 551.7 228.1 551.6 229.0 551.8 229.8 551.9 230.1 551.6 230.4 551.8 230.7 551.9 231.0 551.7 231.3 552.0 232.1 551.7 232.7 552.0 233.0 551.6 233.3 552.0 234.1 551.6 234.4 551.9 235.3 551.9 235.6 551.9 235.9 551.7 236.2 551.8 236.5 551.7 236.7 551.9 237.3 551.7 237.6 551.9 237.9 551.7 238.2 551.9 238.8 551.7 239.0 551.9 239.3 551.7 239.6 551.9 239.9 551.9 240.2 551.7 240.8 552.0 241.3 551.8 241.9 552.0 242.2 551.8 242.5 551.9 242.8 551.7 243.1 551.9 243.4 552.0 244.2 551.7 244.8 552.0 245.1 551.9 245.4 552.0 245.7 551.9 245.9 552.1 246.2 552.1 246.5 551.7 246.8 551.8" fill="none" stroke="#ee9a55" stroke-width="0.7" stroke-linejoin="round"/>
<path d="M256.3 550.8 256.7 550.6 257.1 550.9 257.4 550.5 257.8 550.6 258.2 550.6 259.0 550.7 259.4 550.5 260.1 550.8 260.5 550.8 260.9 550.5 261.3 550.8 261.7 550.8 262.1 550.6 262.4 550.8 263.2 550.5 263.6 550.8 264.0 550.7 264.4 550.5 265.1 550.5 265.5 550.8 265.9 550.5 266.7 550.8 267.1 550.4 267.5 550.8 267.8 550.4 268.2 550.8 268.6 550.8 269.4 550.6 270.1 550.5 270.5 550.8 270.9 550.5 271.3 550.7 271.7 550.4 272.1 550.6 272.5 550.5 272.8 550.8 273.2 550.4 273.6 550.7 274.4 550.6 274.8 550.5 275.2 550.7 275.9 550.6 276.7 550.7 277.5 550.5 277.9 550.5 278.2 550.7 279.0 550.4 279.4 550.5 279.8 550.7 280.2 550.8 280.5 550.4 281.3 550.7 281.7 550.5 282.9 550.6 283.2 550.5 284.4 550.6 285.2 550.4 285.6 550.6 285.9 550.7 286.3 550.6 286.7 550.4 287.5 550.7 287.9 550.4 288.6 550.7 289.0 550.4 289.4 550.5 289.8 550.4 290.9 550.4 291.3 550.6 291.7 550.4 292.1 550.5 292.5 550.5 292.9 550.6 293.3 550.5 293.6 550.7 294.0 550.4 294.4 550.6 295.2 550.4 296.0 550.4 296.7 550.7 297.1 550.3 297.5 550.6 297.9 550.3 298.3 550.5 299.8 550.4 300.6 550.6 301.0 550.5 301.3 550.6 301.7 550.3 302.1 550.6 302.9 550.4 303.3 550.5 303.7 550.3 304.0 550.3 304.4 550.5 305.2 550.4 305.6 550.4 306.0 550.4 306.4 550.5 307.5 550.3 307.9 550.5 308.3 550.3 308.7 550.5 309.4 550.5 309.8 550.3 310.2 550.6 311.4 550.3 311.7 550.3 312.1 550.6 312.9 550.3 313.3 550.5 313.7 550.6 314.1 550.3 314.4 550.6 315.2 550.5 315.6 550.3 316.0 550.4 316.8 550.4 317.1 550.2 317.5 550.6 318.7 550.3 319.1 550.5 319.8 550.3 320.2 550.5 320.6 550.4 321.0 550.5 321.4 550.2 321.8 550.5 322.1 550.5 322.5 550.3 322.9 550.5 323.3 550.3 323.7 550.4 324.1 550.1 325.2 550.5 326.0 550.2 327.2 550.3 327.5 550.1 327.9 550.3 328.7 550.1 329.5 550.3 329.9 550.2 330.2 550.2 330.6 550.4 331.4 550.2 331.8 550.3 332.5 550.3 332.9 550.4 333.3 550.4 333.7 550.1 334.1 550.4 334.5 550.1 334.9 550.4 335.6 550.2 336.0 550.3 336.4 550.1 336.8 550.0 337.2 550.3 337.6 550.4 337.9 550.0 338.7 550.2 339.1 550.4 339.5 550.4 339.9 550.1 341.4 550.3 342.6 550.1 343.7 550.3 344.5 550.0 344.9 550.2 345.3 550.0 346.4 550.2 346.8 550.0 347.2 550.2 348.0 550.2 348.3 549.9 349.1 550.2 349.9 550.0 350.7 550.1 351.0 549.8 351.8 550.1 353.0 550.1 353.4 549.9 353.7 550.0 354.5 549.7 354.9 549.9 356.0 549.8 356.4 549.9 356.8 549.8 357.6 549.8 358.0 549.5 359.1 549.6 359.5 549.3 359.9 549.4 360.3 549.1 361.1 549.2 361.4 548.9 362.2 549.0 362.6 548.7 363.8 549.0 364.1 548.7 365.3 548.9 365.7 548.5 366.1 548.7 366.4 548.3 367.2 548.2 367.6 548.3 368.0 547.9 368.4 547.9 369.1 547.4 369.5 547.5 369.9 547.3 370.3 546.9 370.7 546.9 371.5 546.5 371.8 546.1 372.2 546.0 372.6 545.5 373.0 545.6 373.8 545.0 374.5 544.8 375.7 544.9 376.8 545.7 377.2 545.9 377.6 546.2 379.2 547.1 379.5 547.4 379.9 547.2 380.3 547.7 381.1 548.0 382.2 548.1 382.6 548.4 383.0 548.4 383.4 548.7 384.2 548.9 384.6 548.7 384.9 549.1 385.3 549.1 385.7 548.9 386.1 549.2 386.5 549.3 387.6 549.3 388.0 549.4 389.2 549.5 389.6 549.4 390.3 549.6 390.7 549.3 391.1 549.3 391.5 549.5 391.9 549.5 392.3 549.7 392.6 549.7 393.4 549.4 393.8 549.7 394.6 549.5 395.0 549.8 395.3 549.6 395.7 549.7 396.1 549.5 397.3 549.5 397.6 549.8 398.0 549.5 399.2 549.7 399.6 549.6 400.3 549.6 400.7 549.4 401.1 549.7 401.5 549.4 401.9 549.7 402.3 549.5 403.0 549.6 403.4 549.5 403.8 549.6 404.6 549.5 405.0 549.5 405.4 549.3 406.5 549.2 406.9 549.4 407.7 549.4 408.0 549.0 408.4 549.1 408.8 548.9 409.2 549.1 410.4 548.7 410.7 548.8 411.9 548.5 412.3 548.2 412.7 548.0 413.4 548.1 413.8 547.6 414.2 547.6 414.6 547.3 415.4 547.2 415.8 546.8 416.1 546.8 416.5 546.3 416.9 546.5 417.3 546.3 417.7 546.4 418.4 546.2 418.8 546.4 420.0 546.9 420.4 546.8 420.8 547.1 421.1 547.1 421.9 547.6 422.3 547.6 422.7 547.7 423.1 548.1 423.5 548.1 423.8 548.2 424.2 548.5 424.6 548.4 425.0 548.8 425.4 548.6 425.8 548.6 426.2 548.7 427.7 548.9 428.1 548.6 428.5 548.0 428.8 546.9 429.2 547.8 429.6 548.5 430.0 549.1 430.4 549.0 430.8 549.1 431.2 549.5 431.5 549.4 431.9 549.6 432.3 549.6 433.1 549.4 433.5 549.6 434.6 549.5 435.0 549.7 435.8 549.8 436.2 549.7 436.6 549.4 436.9 549.8 437.3 549.5 437.7 549.6 438.5 549.5 438.9 549.8 439.6 549.5 440.0 549.6 440.4 549.5 440.8 549.9 441.2 549.6 441.6 549.7 441.9 549.6 442.7 549.8 443.1 549.7 443.5 549.9 443.9 549.5 445.4 549.6 446.2 549.8 447.0 549.5 447.7 549.6 448.1 549.9 448.9 549.8 449.7 549.6 451.2 549.9 451.6 549.8 452.0 549.6 453.1 549.7 453.9 549.9 455.0 549.9 455.4 549.6 456.2 549.9 457.7 549.9 458.1 549.8 458.9 549.8 459.3 549.7 459.7 549.9 460.1 549.9 460.4 549.6 460.8 549.8 461.2 549.7 461.6 549.8 462.0 549.7 462.4 549.9 462.7 549.8 463.1 549.6 463.5 549.8 463.9 549.7 464.3 549.8 464.7 549.9 465.4 549.7 465.8 549.9 466.2 549.7 467.0 549.8 467.8 549.6 468.1 549.7 468.5 549.8 468.9 549.6 469.7 549.7 470.1 549.7 470.5 549.8 470.8 549.6 471.2 549.7 471.6 549.5 472.0 549.8 472.4 549.8 472.8 549.5 473.1 549.6 474.3 549.5 474.7 549.7 475.1 549.5 476.6 549.7 477.8 549.5 478.5 549.1 478.9 549.2 479.3 549.1 479.7 549.4 480.1 549.1 480.5 549.2 480.9 549.2 481.2 549.4 481.6 549.3 482.0 549.4 482.4 549.4 482.8 549.5 483.2 549.4 483.5 549.4 483.9 549.6 484.7 549.5 485.1 549.6 485.5 549.4 485.9 549.4 486.2 549.6 486.6 549.5 487.0 549.8 487.4 549.5" fill="none" stroke="#ee9a55" stroke-width="0.7" stroke-linejoin="round"/>
<path d="M55.2 543.8 55.5 544.0 55.8 544.0 56.1 543.7 57.2 543.9 57.8 543.7 58.4 544.0 58.9 544.0 59.2 543.7 59.8 543.7 60.1 543.9 60.7 544.0 61.8 543.9 62.4 543.7 62.7 543.9 63.0 543.7 63.3 543.9 63.5 543.9 63.8 543.7 64.1 544.0 64.4 544.0 64.7 543.7 65.0 543.9 65.3 543.9 65.8 543.7 66.1 543.9 66.4 543.8 66.7 544.0 67.0 543.7 67.3 543.9 68.1 544.0 68.4 543.9 68.7 544.0 69.3 543.7 69.6 544.0 69.9 543.8 70.7 543.8 71.0 543.9 71.3 543.8 71.6 544.0 71.9 543.8 72.5 544.0 72.7 544.0 73.0 543.8 73.9 543.9 74.2 543.8 74.8 544.0 75.1 543.8 76.2 543.9 76.5 544.0 76.8 543.8 77.4 544.1 77.6 543.8 78.2 544.1 78.5 543.8 78.8 544.0 79.1 544.0 79.4 544.1 79.7 543.9 80.8 543.8 81.4 544.0 81.7 543.8 82.0 544.1 82.5 543.9 82.8 544.0 83.1 543.9 83.4 544.1 83.7 544.1 84.0 544.1 84.3 544.0 84.5 544.1 84.8 543.9 85.1 544.1 85.4 544.1 85.7 543.9 86.0 544.1 86.3 543.9 86.8 544.1 87.4 543.8 87.7 544.1 88.3 544.0 88.6 543.8 88.9 543.8 89.1 544.2 89.7 543.9 90.0 544.0 90.6 544.0 90.9 544.2 91.2 544.2 91.5 543.9 91.7 544.1 92.9 543.9 93.2 544.2 93.5 544.0 93.8 544.2 94.3 543.9 94.9 544.1 95.2 543.9 95.5 544.0 95.8 543.9 96.3 544.1 96.6 544.0 97.2 544.2 97.5 544.2 97.8 543.9 98.4 544.2 98.6 544.0 98.9 544.0 99.2 544.2 99.5 543.9 99.8 544.2 100.4 544.0 100.9 544.1 101.8 543.9 102.7 544.0 103.2 544.1 103.5 544.0 103.8 543.9 104.1 544.2 104.4 544.0 105.0 544.3 105.5 544.0 105.8 544.1 106.7 544.0 107.0 544.2 107.3 544.0 107.6 544.3 107.8 544.1 108.1 544.3 108.7 544.0 109.3 544.0 109.6 544.1 110.2 544.2 110.7 544.0 111.0 544.2 111.3 544.0 111.6 544.2 111.9 544.0 112.2 544.3 112.5 544.0 112.7 544.3 113.0 544.3 113.6 544.1 114.2 544.2 114.5 544.1 114.8 544.3 116.2 544.3 116.8 544.1 117.1 544.2 117.3 544.1 117.6 544.2 117.9 544.0 118.2 544.3 118.5 544.1 118.8 544.0 119.1 544.1 119.6 544.0 119.9 544.2 120.2 544.3 120.8 544.1 121.7 544.1 122.2 544.0 122.5 544.3 122.8 544.1 123.1 544.3 123.4 544.0 123.7 544.1 124.0 543.8 124.2 544.1 124.8 544.1 125.1 543.9 125.4 544.0 125.7 543.8 126.0 543.9 126.3 544.1 126.5 543.9 126.8 544.2 127.1 544.2 127.4 544.0 127.7 543.5 128.3 544.0 128.6 543.9 128.9 544.1 129.4 543.5 129.7 543.5 130.0 544.0 130.6 544.1 130.9 544.0 131.4 543.4 131.7 543.5 132.0 543.9 132.3 544.1 133.2 543.7 133.5 543.2 133.7 543.5 134.0 544.1 134.3 543.9 134.9 543.9 135.2 543.6 135.5 543.1 135.8 543.9 136.0 543.9 136.3 544.0 136.9 543.9 137.2 543.2 137.8 543.8 138.1 543.8 138.6 544.1 138.9 543.8 139.2 543.4 140.1 544.1 140.6 544.0 140.9 543.7 141.2 543.7 141.5 543.7 141.8 544.0 142.1 544.1 142.4 544.0 142.7 544.0 143.2 543.8 143.5 543.8 143.8 544.0 144.4 544.0 144.7 543.9 145.0 544.0 145.5 543.8 145.8 543.9 146.4 543.5 146.7 543.5 147.0 543.1 147.3 542.7 147.6 541.4 147.8 539.2 148.1 538.5 148.4 541.0 148.7 542.4 149.0 543.0 149.3 543.2 149.6 543.5 149.9 543.5 150.1 543.7 150.4 543.5 150.7 543.8 151.0 543.7 151.3 544.0 151.6 544.0 152.2 544.0 152.4 543.6 152.7 543.6 153.3 544.1 153.6 544.2 154.2 544.0 154.5 543.7 155.0 544.1 155.6 544.2 155.9 544.1 156.2 543.6 156.5 543.3 156.8 543.8 157.3 544.0 157.6 544.3 157.9 544.1 158.2 543.6 158.5 543.4 158.8 543.7 159.1 544.3 159.6 544.0 159.9 544.0 160.2 543.2 160.5 543.4 160.8 544.1 161.1 544.1 161.4 544.2 161.9 543.9 162.2 543.2 162.5 543.9 162.8 544.3 163.4 544.2 163.7 544.1 164.0 543.8 164.2 543.3 164.5 544.0 165.1 544.3 165.4 544.1 165.7 544.2 166.0 543.5 166.3 543.9 166.5 544.0 166.8 544.3 167.1 544.3 167.4 544.4 167.7 544.0 168.0 543.9 168.3 544.0 168.6 544.2 169.7 544.3 170.0 544.0 170.3 544.4 170.6 544.3 170.9 544.3 171.1 544.5 171.4 544.6 171.7 544.3 172.0 544.5 172.9 544.3 173.2 544.4 173.7 544.3 174.3 544.5 174.6 544.3 174.9 544.5 175.2 544.3 175.5 544.5 175.7 544.4 176.0 544.6 176.3 544.5 176.6 544.2 176.9 544.4 177.2 544.3 177.5 544.4 177.8 544.3 178.3 544.4 178.9 544.2 179.2 544.4 179.5 544.1 179.8 544.3 180.3 544.0 180.6 544.0 180.9 544.2 181.2 544.1 181.5 543.9 182.1 544.0 182.4 544.0 182.7 543.8 182.9 544.0 183.2 544.0 183.5 543.8 183.8 544.0 184.1 543.9 184.4 544.2 185.0 544.3 185.2 544.1 185.5 544.2 186.4 544.2 186.7 544.5 187.0 544.4 187.3 544.6 187.5 544.3 187.8 544.5 188.1 544.5 188.7 544.3 189.3 544.5 189.6 544.4 189.8 544.4 190.1 544.6 190.7 544.4 191.3 544.4 191.9 544.7 192.1 544.4 192.4 544.7 192.7 544.6 193.0 544.6 193.3 544.5 193.6 544.7 193.9 544.7 194.2 544.5 194.4 544.5 194.7 544.4 195.0 544.8 195.3 544.8 195.6 544.6 195.9 544.6 196.2 544.5 196.7 544.8 197.0 544.7 197.3 544.7 197.6 544.6 198.2 544.5 198.5 544.8 198.8 544.6 199.1 544.8 199.3 544.5 199.6 544.8 199.9 544.6 200.2 544.6 200.5 544.8 200.8 544.7 201.1 544.8 201.6 544.8 201.9 544.8 202.8 544.6 203.1 544.8 203.7 544.6 203.9 544.8 204.5 544.8 204.8 544.6 205.1 544.8 205.4 544.6 205.7 544.8 206.8 544.9 207.4 544.6 207.7 544.7 208.0 544.6 208.3 544.8 208.8 544.8 209.1 544.8 209.4 544.9 209.7 544.6 210.3 544.9 210.6 544.8 211.1 544.9 212.0 544.6 212.9 544.9 213.1 544.8 214.6 544.9 214.9 544.6 215.4 544.7 215.7 544.6 216.0 544.8 216.3 544.7 216.6 544.8 217.2 544.7 218.3 544.9 218.6 544.7 218.9 544.7 219.2 544.9 219.8 545.0 221.2 544.9 221.5 544.9 221.8 544.7 222.1 545.0 222.4 545.0 222.6 544.7 222.9 544.9 223.2 544.8 223.8 545.0 224.1 545.0 224.4 544.7 224.7 545.0 224.9 544.9 225.2 544.9 225.5 544.8 225.8 544.9 226.1 544.8 226.4 545.0 227.0 544.7 227.2 544.9 227.5 544.7 227.8 545.0 228.1 544.7 228.4 544.9 228.7 544.7 229.3 545.0 229.5 544.8 229.8 545.0 230.4 544.8 230.7 545.0 231.0 545.0 231.3 544.8 231.6 545.0 231.8 544.8 232.4 545.0 232.7 544.8 233.0 545.0 233.3 545.0 233.6 544.8 233.9 544.7 234.1 545.0 234.4 544.8 234.7 545.1 235.0 544.8 235.6 545.0 236.2 545.0 236.5 544.9 237.0 545.0 237.3 544.9 237.9 545.1 238.5 544.8 238.8 545.0 239.0 545.0 239.3 544.8 239.6 545.1 239.9 544.8 240.2 545.0 240.5 545.1 240.8 544.9 241.1 544.8 242.2 545.1 242.5 544.9 242.8 544.9 243.1 545.0 243.6 544.9 244.2 544.9 244.5 544.8 244.8 545.1 245.1 544.8 245.7 545.1 245.9 544.9 246.2 545.1 246.8 544.9" fill="none" stroke="#b9d6f2" stroke-width="0.7" stroke-linejoin="round"/>
<path d="M256.3 543.9 256.7 543.9 257.4 543.8 258.2 544.2 258.6 543.8 259.0 544.2 259.4 544.0 259.7 544.1 260.5 543.9 260.9 544.2 261.3 544.0 261.7 544.0 262.4 543.8 262.8 543.9 263.2 544.1 264.0 544.0 264.4 544.1 264.8 543.8 265.1 544.0 265.9 544.1 266.7 543.8 267.1 544.1 267.5 543.9 268.2 544.1 269.0 543.9 269.4 543.9 269.8 543.7 270.1 543.8 270.5 543.8 271.3 543.8 272.5 543.8 272.8 544.0 273.2 544.0 273.6 543.8 274.0 544.1 274.8 543.8 275.2 544.0 275.5 543.9 275.9 544.0 276.7 543.8 277.1 544.1 277.9 543.7 278.2 543.9 278.6 543.7 279.0 544.0 279.4 543.9 279.8 544.0 280.2 543.7 280.5 543.9 280.9 543.7 281.7 544.0 282.1 543.7 282.5 544.0 282.9 543.7 283.2 543.8 283.6 544.0 284.0 543.8 284.4 543.9 284.8 543.9 285.2 543.7 285.6 543.9 285.9 543.8 286.3 544.0 286.7 544.0 287.1 543.9 287.5 543.9 287.9 543.7 288.3 543.8 288.6 543.7 289.0 543.8 289.4 543.7 289.8 543.9 290.2 544.0 290.6 543.7 290.9 543.8 291.3 543.9 292.1 543.8 292.5 543.7 293.3 543.8 293.6 543.8 294.8 543.9 295.2 543.7 295.6 544.0 296.0 543.8 296.3 544.0 296.7 543.9 297.1 543.7 297.5 543.7 297.9 543.8 298.3 543.6 299.0 543.8 299.4 543.7 299.8 544.0 300.2 543.9 300.6 543.7 301.0 543.8 301.3 543.6 301.7 543.9 302.5 543.9 302.9 543.6 304.0 543.9 304.4 543.7 304.8 544.0 305.2 543.6 305.6 543.9 306.0 543.7 306.4 543.6 306.7 543.8 307.5 543.7 308.3 543.8 308.7 543.6 309.1 543.8 309.4 543.7 309.8 543.9 310.6 543.5 311.0 543.8 311.4 543.6 311.7 543.8 312.5 543.8 312.9 543.6 313.7 543.9 314.1 543.7 315.6 543.8 316.0 543.6 316.4 543.8 317.5 543.9 317.9 543.8 318.3 543.6 318.7 543.7 319.8 543.8 320.6 543.5 321.0 543.8 321.8 543.5 322.1 543.6 322.5 543.5 322.9 543.8 323.3 543.5 323.7 543.8 324.8 543.8 325.2 543.5 325.6 543.7 326.0 543.7 326.4 543.5 326.8 543.7 327.2 543.5 327.5 543.8 327.9 543.4 328.7 543.6 329.1 543.4 329.9 543.4 330.2 543.7 331.8 543.6 332.2 543.5 332.5 543.7 332.9 543.6 333.3 543.7 333.7 543.6 334.1 543.8 334.5 543.6 335.2 543.5 335.6 543.4 336.4 543.7 336.8 543.4 337.2 543.6 337.6 543.7 338.3 543.5 338.7 543.6 339.5 543.7 339.9 543.5 340.3 543.6 340.6 543.4 341.0 543.7 341.4 543.5 341.8 543.7 342.6 543.7 342.9 543.4 343.3 543.4 343.7 543.5 344.1 543.4 344.9 543.3 346.0 543.5 346.4 543.3 346.8 543.5 347.2 543.5 347.6 543.2 348.3 543.4 348.7 543.3 349.1 543.6 349.5 543.3 350.7 543.5 351.4 543.2 351.8 543.3 352.2 543.5 352.6 543.3 353.7 543.5 354.1 543.2 354.5 543.4 355.3 543.2 355.7 543.1 356.0 543.3 357.6 543.0 358.0 543.2 358.4 542.9 358.7 543.2 359.9 542.7 360.3 542.9 360.7 542.7 361.1 542.6 361.4 542.9 361.8 542.5 362.2 542.4 362.6 542.7 363.4 542.5 363.8 542.3 364.1 542.3 364.5 542.6 364.9 542.5 365.7 542.5 366.1 542.4 366.4 542.1 366.8 542.0 367.2 542.2 367.6 542.0 368.4 541.9 368.8 541.6 369.1 541.8 369.5 541.6 369.9 541.5 370.3 541.0 371.5 540.9 371.8 540.4 373.0 539.9 373.8 539.8 374.2 539.6 374.5 539.8 374.9 539.6 375.3 539.8 376.1 539.8 376.5 540.2 377.2 540.2 377.6 540.6 378.0 540.5 378.8 541.1 379.2 541.2 379.5 541.4 380.3 541.5 381.1 542.0 381.5 541.8 381.9 542.2 382.6 542.1 383.4 542.5 383.8 542.4 384.2 542.6 385.3 542.7 386.1 542.6 386.5 542.7 386.9 542.6 387.2 542.9 388.8 542.8 389.2 543.0 390.3 543.0 390.7 543.1 391.1 542.9 391.5 543.2 391.9 543.0 392.3 543.1 393.8 542.9 395.0 543.2 395.3 543.2 395.7 542.9 396.1 543.1 398.0 543.1 398.8 543.0 399.2 543.2 400.0 543.2 401.1 542.9 401.5 543.0 402.3 542.9 403.0 542.9 403.4 543.1 403.8 542.9 404.2 542.8 404.6 543.0 405.0 542.8 405.4 543.0 405.7 543.0 406.5 542.8 407.3 542.9 407.7 542.6 408.8 542.8 409.2 542.5 409.6 542.4 410.4 542.4 410.7 542.2 411.5 542.4 411.9 542.2 412.7 542.0 413.1 542.0 413.4 541.7 413.8 541.6 414.2 541.6 414.6 541.4 415.0 541.3 415.4 541.1 415.8 541.0 416.1 540.7 416.9 540.9 417.3 540.8 417.7 540.5 418.1 540.7 418.4 540.4 419.6 540.8 420.0 540.7 420.8 541.2 421.9 541.5 422.3 541.6 423.5 542.1 423.8 542.1 424.2 542.2 425.4 542.4 425.8 542.2 426.5 542.5 427.7 542.4 428.1 541.7 428.5 540.8 428.8 539.4 429.2 540.8 429.6 542.0 430.0 542.1 430.4 542.7 431.9 543.0 432.3 542.7 432.7 543.0 433.1 542.9 433.5 543.1 433.9 543.0 434.2 543.1 434.6 543.0 435.0 543.0 435.8 542.8 436.2 543.1 437.3 542.8 437.7 543.2 438.1 543.0 438.5 543.1 439.6 543.0 440.0 543.1 440.4 542.9 441.2 543.2 441.9 543.2 442.3 542.9 442.7 542.9 443.1 543.2 443.5 543.0 443.9 543.2 444.3 543.2 444.6 543.0 447.0 543.2 447.3 542.9 447.7 543.2 448.1 543.0 448.5 543.2 448.9 543.1 449.3 543.3 449.7 543.2 450.0 543.0 450.4 543.3 451.2 543.0 451.6 543.0 452.0 543.2 452.3 543.1 452.7 543.1 453.1 543.0 453.5 542.9 453.9 543.0 454.3 543.0 454.7 543.1 455.0 542.9 455.4 543.0 455.8 542.9 456.2 543.2 456.6 543.0 457.7 542.9 458.1 543.2 458.5 543.2 458.9 543.0 459.3 543.2 459.7 542.9 460.1 542.9 460.4 543.1 460.8 542.9 461.2 543.0 461.6 542.9 462.4 543.2 462.7 542.9 463.1 543.1 463.5 543.2 463.9 542.9 464.3 543.0 464.7 542.9 465.1 543.2 465.4 542.9 466.2 543.0 466.6 543.2 467.0 542.9 467.8 543.2 468.1 543.1 468.5 542.8 468.9 543.1 469.7 542.9 470.5 543.1 472.4 542.9 472.8 543.1 473.1 542.8 474.3 543.1 475.1 542.8 475.5 543.0 475.8 543.0 476.2 542.8 477.0 542.7 477.4 542.9 477.8 542.7 478.2 542.9 478.5 542.9 478.9 542.6 479.3 542.8 479.7 542.5 480.1 542.7 480.5 542.7 480.9 542.6 481.2 542.9 481.6 542.6 482.0 542.9 482.4 543.0 482.8 542.9 483.2 543.0 484.3 542.9 484.7 543.0 485.1 542.7 485.5 543.1 486.2 543.0 486.6 543.1 487.0 542.8 487.4 543.1" fill="none" stroke="#b9d6f2" stroke-width="0.7" stroke-linejoin="round"/>
<path d="M55.2 536.9 55.5 536.7 56.1 536.8 56.4 536.7 56.9 536.9 57.2 536.7 57.5 536.8 58.1 536.7 58.4 536.5 58.7 536.7 59.2 536.8 59.5 536.7 59.8 536.8 60.1 536.6 60.7 536.6 61.0 536.8 61.2 536.7 61.5 536.8 62.1 536.6 62.4 536.9 62.7 536.9 63.0 536.6 63.3 536.7 64.1 536.6 64.4 536.9 65.0 536.8 65.3 536.6 65.6 536.7 65.8 536.9 66.1 536.9 66.4 536.7 66.7 536.6 67.0 536.9 67.3 536.8 67.6 536.9 67.9 536.8 68.1 536.9 68.4 536.8 69.0 536.9 69.3 536.6 69.6 536.9 69.9 536.6 70.4 536.8 71.3 536.9 71.6 536.8 71.9 536.9 72.2 536.8 72.7 536.9 73.0 536.6 73.3 536.9 74.2 536.7 75.1 536.8 75.3 536.7 75.6 537.0 76.2 536.7 76.5 536.8 77.4 536.7 77.6 536.9 78.2 536.7 78.8 536.9 79.1 536.7 79.4 536.9 79.7 536.8 79.9 537.0 80.2 536.8 80.5 536.8 80.8 536.7 81.1 537.0 81.4 537.0 82.2 536.8 82.5 536.9 82.8 536.8 83.1 536.7 83.4 537.0 83.7 536.7 84.0 537.0 84.3 537.0 84.5 537.0 84.8 536.8 85.1 536.7 85.4 537.0 86.0 536.7 86.6 537.0 87.1 536.7 87.4 536.8 87.7 536.9 88.0 536.9 88.3 537.1 88.9 536.8 89.1 537.1 89.7 536.9 90.0 537.1 90.3 537.0 90.6 536.8 90.9 537.0 91.5 536.8 91.7 536.9 92.0 536.9 92.3 537.1 92.6 536.9 93.5 536.9 93.8 537.1 94.0 536.9 94.3 537.0 94.6 536.9 94.9 537.0 95.2 536.8 95.5 537.0 95.8 536.8 96.3 537.0 97.2 536.9 97.8 537.0 98.1 536.8 98.4 536.8 98.6 537.0 99.2 536.9 99.8 537.0 100.4 536.9 100.7 537.1 100.9 537.0 101.2 537.1 101.5 537.0 101.8 537.1 102.1 537.0 102.4 537.1 102.7 537.0 103.0 536.8 103.2 537.1 103.8 536.9 104.1 537.1 105.0 537.0 105.3 537.1 105.8 537.2 106.7 537.0 107.0 537.1 107.6 536.9 107.8 537.1 108.1 536.9 108.7 536.9 109.9 537.1 110.2 536.9 110.4 537.1 110.7 537.1 111.0 537.2 111.6 536.9 111.9 537.0 112.2 537.2 112.5 536.9 112.7 537.2 113.3 537.1 113.6 537.2 113.9 536.9 114.2 537.0 114.5 536.9 115.3 537.1 116.2 536.9 116.5 537.2 117.1 537.0 117.3 537.2 117.6 537.0 117.9 537.1 118.5 537.2 118.8 536.9 119.1 537.2 119.6 537.0 119.9 537.0 120.2 537.1 121.7 537.1 121.9 536.8 122.2 537.0 122.5 536.9 122.8 537.1 123.1 536.9 123.4 537.1 124.0 536.6 124.2 537.0 124.5 536.9 125.1 537.1 125.7 536.6 126.0 536.8 126.3 536.8 126.5 536.9 126.8 536.8 127.1 537.0 127.4 536.7 127.7 536.2 128.0 536.7 128.3 537.0 128.9 536.9 129.1 536.7 129.4 536.3 129.7 536.1 130.0 536.6 130.6 536.9 130.9 536.8 131.2 536.4 131.4 535.7 131.7 536.0 132.0 536.5 132.3 536.8 132.9 536.6 133.2 536.3 133.5 535.5 133.7 536.3 134.0 536.7 134.3 536.9 134.6 536.7 134.9 536.7 135.2 536.0 135.5 535.7 135.8 536.4 136.3 536.7 136.6 536.7 136.9 536.6 137.2 535.8 137.5 536.1 137.8 536.7 138.1 536.7 138.3 536.9 138.6 536.7 138.9 536.3 139.2 536.1 139.5 536.5 140.4 536.8 140.9 536.4 141.5 536.5 141.8 536.7 142.1 536.7 142.4 536.9 142.7 536.7 142.9 536.3 143.2 536.4 143.5 536.6 143.8 536.9 144.1 536.7 144.7 536.8 145.0 536.7 145.3 536.8 146.4 536.3 147.0 535.6 147.3 535.0 147.6 533.5 147.8 530.4 148.1 529.6 148.4 532.5 148.7 534.4 149.0 535.5 149.3 535.8 149.6 536.2 149.9 536.3 150.1 536.3 150.4 536.4 150.7 536.3 151.0 536.3 151.3 536.8 151.6 536.7 151.9 536.8 152.7 536.3 153.0 536.8 153.3 536.7 153.9 536.7 154.2 536.6 154.5 536.2 154.7 536.6 155.3 536.9 155.6 537.0 156.2 536.5 156.5 535.9 156.8 536.6 157.0 536.9 157.6 537.0 157.9 536.9 158.2 536.1 158.5 536.0 158.8 536.7 159.6 536.8 159.9 536.5 160.2 535.9 160.5 536.0 160.8 536.6 161.4 536.9 161.6 536.9 162.2 535.8 162.8 537.0 163.1 537.1 163.7 537.0 164.0 536.4 164.2 536.0 164.5 536.7 165.4 537.0 165.7 536.8 166.0 536.3 166.3 536.5 166.5 537.0 166.8 537.0 167.4 537.2 167.7 536.9 168.0 536.4 168.3 537.0 168.6 536.9 169.1 537.2 169.4 537.2 170.0 536.9 171.1 537.3 171.7 537.4 172.3 537.2 172.6 537.5 172.9 537.2 173.2 537.5 173.4 537.3 173.7 537.4 174.0 537.3 174.3 537.4 174.6 537.3 174.9 537.5 175.2 537.1 176.0 537.2 176.3 537.4 176.6 537.2 177.2 537.1 177.5 537.2 177.8 537.1 178.3 537.3 178.6 537.2 178.9 536.9 179.2 537.1 179.8 537.1 180.1 536.8 180.9 536.9 181.2 536.6 181.5 536.8 181.8 536.5 182.7 536.7 182.9 536.5 183.2 536.4 183.5 536.6 183.8 536.5 184.1 536.8 184.7 536.8 185.0 537.0 185.2 536.8 185.8 537.2 186.1 537.0 186.4 537.2 187.0 537.1 187.3 537.3 187.5 537.3 187.8 537.1 188.1 537.4 188.4 537.1 188.7 537.5 189.0 537.5 189.3 537.2 189.8 537.4 190.1 537.3 190.4 537.5 190.7 537.3 191.0 537.5 191.3 537.3 191.6 537.4 192.1 537.3 192.4 537.4 192.7 537.6 193.3 537.3 193.9 537.6 194.2 537.5 194.7 537.7 195.0 537.5 195.3 537.7 195.6 537.6 195.9 537.6 196.2 537.4 196.5 537.6 197.0 537.5 197.3 537.7 197.6 537.6 197.9 537.7 198.8 537.4 199.3 537.5 199.6 537.7 199.9 537.6 201.1 537.5 201.4 537.8 201.6 537.6 201.9 537.7 202.2 537.5 202.5 537.4 202.8 537.5 203.7 537.5 203.9 537.7 204.2 537.6 205.1 537.6 205.4 537.8 205.7 537.7 206.0 537.8 206.2 537.5 206.5 537.5 206.8 537.8 207.1 537.6 207.4 537.5 209.1 537.8 210.6 537.7 210.8 537.5 211.1 537.8 211.7 537.6 212.3 537.8 212.6 537.6 212.9 537.7 213.1 537.6 213.4 537.7 214.3 537.6 214.6 537.8 214.9 537.8 215.2 537.6 215.4 537.8 215.7 537.5 216.6 537.8 216.9 537.8 217.2 537.9 217.5 537.7 218.0 537.6 218.3 537.8 218.6 537.6 219.5 537.7 219.8 537.6 220.3 537.9 220.6 537.6 220.9 537.9 221.5 537.8 221.8 537.6 222.4 537.7 222.6 537.6 223.8 537.8 224.1 537.6 224.4 537.7 224.7 537.6 224.9 537.8 225.2 537.6 225.5 537.9 225.8 537.8 226.1 537.6 226.4 537.7 226.7 537.9 227.2 537.9 227.5 537.7 228.4 537.8 228.7 537.9 229.3 537.6 230.4 537.8 230.7 538.0 231.3 537.9 231.6 538.0 231.8 537.9 232.7 537.8 233.0 537.7 233.3 537.8 233.6 537.7 234.1 537.9 234.7 537.8 235.0 537.9 235.6 537.7 236.2 537.8 236.5 537.7 236.7 538.0 237.0 537.8 237.6 537.9 237.9 537.9 238.2 538.0 238.5 537.8 238.8 538.0 239.0 537.9 239.3 538.0 239.6 537.7 239.9 537.9 240.2 537.8 240.5 538.0 241.1 537.9 241.3 538.0 241.6 537.7 241.9 537.8 242.2 538.0 242.5 537.9 242.8 538.0 243.4 537.8 243.6 538.0 243.9 537.8 244.2 537.9 244.8 537.7 245.1 538.0 245.4 537.8 245.7 537.7 246.2 538.0 246.5 537.8 246.8 537.9" fill="none" stroke="#8cbbe8" stroke-width="0.7" stroke-linejoin="round"/>
<path d="M256.3 536.8 256.7 536.4 257.1 536.7 257.4 536.5 257.8 536.7 258.6 536.6 259.0 536.7 259.7 536.4 260.1 536.6 260.9 536.4 261.3 536.7 261.7 536.4 262.1 536.4 262.8 536.7 264.0 536.5 264.4 536.7 264.8 536.4 265.1 536.4 265.5 536.7 265.9 536.4 266.3 536.6 268.2 536.5 269.0 536.6 269.4 536.6 269.8 536.6 270.1 536.5 271.7 536.5 272.1 536.6 272.5 536.5 272.8 536.7 273.2 536.4 273.6 536.3 274.8 536.6 275.5 536.4 275.9 536.5 276.3 536.5 276.7 536.7 277.9 536.3 278.2 536.6 278.6 536.5 279.4 536.6 280.2 536.4 280.5 536.5 282.9 536.3 283.6 536.4 284.0 536.3 284.4 536.5 284.8 536.4 285.2 536.6 285.6 536.4 285.9 536.4 286.3 536.3 286.7 536.6 287.1 536.5 287.5 536.3 288.3 536.4 288.6 536.5 289.0 536.3 289.4 536.4 289.8 536.3 290.9 536.4 291.3 536.4 291.7 536.6 292.1 536.3 292.5 536.2 292.9 536.4 294.0 536.3 294.4 536.5 294.8 536.3 295.2 536.3 295.6 536.5 296.0 536.4 296.3 536.6 298.3 536.2 299.0 536.5 299.8 536.5 300.2 536.4 300.6 536.4 301.0 536.3 301.3 536.4 302.1 536.3 302.5 536.4 303.3 536.3 303.7 536.5 304.0 536.3 304.4 536.5 305.6 536.4 306.0 536.4 306.4 536.2 306.7 536.4 307.1 536.2 307.5 536.2 307.9 536.5 308.3 536.4 308.7 536.2 309.4 536.3 309.8 536.2 310.2 536.5 310.6 536.4 311.0 536.1 311.4 536.4 311.7 536.3 312.5 536.5 312.9 536.2 313.3 536.2 314.1 536.5 314.4 536.2 314.8 536.4 315.2 536.2 315.6 536.4 316.0 536.1 316.4 536.4 316.8 536.4 317.1 536.4 317.9 536.2 318.3 536.4 319.1 536.1 319.5 536.3 319.8 536.2 320.2 536.2 320.6 536.3 321.0 536.1 322.5 536.4 322.9 536.1 324.1 536.3 324.5 536.4 325.2 536.4 325.6 536.1 326.0 536.0 326.4 536.3 327.2 536.2 327.5 536.0 327.9 536.0 328.3 536.4 328.7 536.0 329.5 536.3 329.9 536.1 330.2 536.4 330.6 536.1 331.0 536.0 331.4 536.3 331.8 536.3 332.2 536.0 332.9 536.1 333.3 536.0 333.7 536.3 334.5 536.0 334.9 536.3 335.2 536.2 335.6 536.3 336.4 535.9 336.8 536.1 337.2 536.0 337.6 536.3 338.3 535.9 338.7 535.9 339.1 536.2 339.9 536.2 340.3 535.9 340.6 536.2 341.8 536.1 342.2 536.0 342.6 536.1 342.9 535.9 343.3 536.1 343.7 535.9 344.1 536.1 344.5 536.0 345.6 536.1 346.0 535.9 346.4 536.1 346.8 535.8 347.6 536.1 348.0 535.8 349.1 536.0 349.5 535.8 349.9 536.0 350.3 535.8 350.7 535.8 351.0 536.1 351.4 535.9 351.8 535.7 352.2 535.7 352.6 536.0 353.4 535.7 353.7 536.0 354.1 535.9 354.5 535.7 354.9 535.8 355.3 535.7 355.7 535.7 356.8 535.5 357.2 535.7 358.0 535.3 358.4 535.3 358.7 535.6 359.1 535.4 359.5 535.5 359.9 535.1 360.3 535.3 360.7 535.0 361.1 535.1 361.4 534.8 361.8 535.1 362.2 534.8 363.4 534.8 363.8 534.6 364.1 534.9 364.5 534.6 366.1 534.6 367.2 534.4 367.6 534.1 368.0 534.2 368.4 534.1 368.8 533.7 369.1 533.4 369.5 533.3 369.9 533.4 370.7 533.0 371.1 532.6 371.5 532.3 372.2 532.1 372.6 531.5 373.0 531.4 373.4 531.5 373.8 531.0 374.2 530.9 374.5 531.1 374.9 531.0 375.3 531.3 375.7 531.2 376.1 531.4 376.5 531.3 376.8 531.6 377.2 532.0 377.6 532.0 378.0 532.5 378.4 532.8 379.2 532.9 379.5 533.1 379.9 533.5 381.1 533.9 381.5 534.0 382.2 534.4 383.0 534.5 383.4 534.7 384.9 535.1 385.3 534.9 385.7 534.9 386.1 535.1 386.5 534.9 386.9 535.2 388.4 535.1 388.8 535.5 389.9 535.5 391.5 535.3 393.4 535.6 393.8 535.5 394.2 535.6 394.6 535.4 395.0 535.6 395.3 535.3 395.7 535.6 396.1 535.4 396.5 535.6 397.6 535.5 398.0 535.3 398.4 535.6 399.2 535.7 399.6 535.4 400.0 535.7 400.3 535.3 400.7 535.6 401.1 535.3 401.5 535.5 401.9 535.3 402.3 535.5 403.0 535.6 403.4 535.5 403.8 535.4 404.2 535.2 404.6 535.4 405.0 535.2 405.4 535.3 406.1 535.2 406.5 535.4 406.9 535.2 407.3 535.1 408.0 535.2 408.8 535.0 409.2 534.8 410.0 534.9 411.1 534.4 411.5 534.6 411.9 534.4 412.3 534.5 413.1 534.0 413.8 533.9 414.2 533.4 414.6 533.5 415.0 533.1 415.4 533.2 416.1 532.8 416.5 532.4 416.9 532.6 417.7 532.2 418.1 532.2 418.4 532.1 419.2 532.6 419.6 532.4 420.0 532.7 420.4 532.8 420.8 533.1 421.1 533.0 421.5 533.3 421.9 533.6 422.3 533.8 422.7 534.0 423.1 533.8 423.5 534.3 423.8 534.3 424.2 534.5 425.0 534.5 425.4 534.7 426.2 534.6 426.5 534.8 426.9 534.5 427.3 534.7 427.7 534.4 428.1 533.7 428.5 532.6 428.8 531.2 429.6 534.2 430.0 534.8 430.4 534.8 431.2 535.3 431.9 535.3 432.3 535.5 432.7 535.4 433.1 535.6 433.5 535.2 433.9 535.4 434.6 535.3 435.4 535.5 435.8 535.4 436.6 535.6 436.9 535.4 437.3 535.7 437.7 535.5 438.1 535.7 438.5 535.6 438.9 535.7 439.2 535.6 439.6 535.6 440.0 535.5 440.8 535.8 441.2 535.6 441.6 535.6 441.9 535.5 442.3 535.6 442.7 535.8 443.1 535.6 443.5 535.8 443.9 535.5 444.3 535.6 445.4 535.8 446.2 535.7 446.6 535.8 447.0 535.4 447.3 535.7 447.7 535.6 448.1 535.7 448.5 535.5 448.9 535.8 449.3 535.5 449.7 535.8 450.4 535.7 451.2 535.8 451.6 535.5 452.0 535.8 452.3 535.7 452.7 535.8 453.9 535.6 454.3 535.8 454.7 535.7 455.0 535.7 455.4 535.5 455.8 535.5 456.2 535.6 456.6 535.6 457.0 535.8 457.7 535.5 458.9 535.5 459.3 535.5 460.1 535.8 460.4 535.6 460.8 535.7 461.2 535.5 461.6 535.8 462.0 535.5 462.7 535.6 463.1 535.7 463.9 535.6 464.3 535.4 464.7 535.5 465.4 535.4 465.8 535.6 467.8 535.7 468.1 535.8 468.5 535.4 468.9 535.7 469.3 535.5 469.7 535.7 470.5 535.8 470.8 535.6 471.2 535.7 472.4 535.4 472.8 535.7 473.1 535.5 474.7 535.4 475.5 535.7 475.8 535.6 476.2 535.3 476.6 535.5 477.4 535.3 478.2 535.4 478.5 535.3 478.9 535.0 479.3 535.1 479.7 535.0 480.1 535.1 480.5 535.2 482.0 535.3 482.4 535.5 483.2 535.3 483.5 535.5 484.3 535.4 485.1 535.5 485.5 535.7 485.9 535.4 486.2 535.4 486.6 535.7 487.0 535.7 487.4 535.4" fill="none" stroke="#8cbbe8" stroke-width="0.7" stroke-linejoin="round"/>
<path d="M55.2 527.3 55.5 527.2 55.8 527.5 56.1 527.2 56.6 527.4 56.9 527.2 57.5 527.4 57.8 527.1 58.1 527.5 58.7 527.2 58.9 527.2 59.2 527.4 59.5 527.2 59.8 527.5 60.4 527.2 60.7 527.5 61.5 527.3 62.1 527.4 63.0 527.3 63.3 527.5 63.5 527.5 63.8 527.3 64.7 527.3 65.0 527.5 65.3 527.5 65.6 527.2 66.1 527.4 66.4 527.3 66.7 527.5 67.0 527.2 67.6 527.5 67.9 527.3 68.7 527.5 69.3 527.4 69.6 527.4 69.9 527.2 70.2 527.4 70.7 527.3 71.3 527.3 71.6 527.3 71.9 527.3 72.5 527.3 72.7 527.5 73.3 527.3 74.2 527.6 74.8 527.3 75.1 527.3 76.2 527.5 76.5 527.3 76.8 527.6 77.1 527.5 77.6 527.5 77.9 527.3 78.2 527.6 78.5 527.4 78.8 527.4 79.1 527.6 80.2 527.5 80.8 527.3 81.4 527.5 81.7 527.4 82.0 527.5 82.2 527.4 82.5 527.5 84.0 527.4 85.1 527.5 85.4 527.6 85.7 527.4 86.0 527.4 86.3 527.6 86.6 527.3 86.8 527.4 87.1 527.4 87.4 527.5 87.7 527.3 88.0 527.6 88.6 527.5 88.9 527.6 89.4 527.3 89.7 527.7 90.0 527.4 90.3 527.6 90.9 527.4 91.2 527.5 91.5 527.4 91.7 527.4 92.0 527.7 92.6 527.4 93.2 527.5 93.5 527.7 94.6 527.5 94.9 527.6 95.2 527.5 95.8 527.6 96.1 527.4 96.3 527.6 96.6 527.5 96.9 527.6 97.2 527.5 97.8 527.6 98.1 527.4 98.4 527.6 98.6 527.5 99.2 527.7 100.4 527.7 100.7 527.5 101.2 527.5 101.8 527.7 102.1 527.5 102.7 527.5 103.2 527.7 103.5 527.4 103.8 527.7 104.1 527.6 104.4 527.7 104.7 527.7 105.0 527.4 105.8 527.7 106.4 527.5 106.7 527.5 107.0 527.8 107.6 527.6 107.8 527.8 108.4 527.6 108.7 527.7 109.3 527.5 109.6 527.7 110.2 527.5 110.4 527.7 111.3 527.5 111.6 527.6 111.9 527.5 112.2 527.6 112.5 527.8 112.7 527.5 114.5 527.7 114.8 527.5 115.0 527.8 115.6 527.7 115.9 527.8 116.5 527.7 116.8 527.5 117.6 527.8 117.9 527.7 118.2 527.4 118.5 527.7 118.8 527.5 119.4 527.8 119.6 527.5 120.2 527.7 120.5 527.5 121.1 527.8 122.5 527.5 123.1 527.7 123.4 527.4 123.7 527.3 124.8 527.4 125.4 527.4 126.0 527.0 126.3 527.4 127.1 527.3 127.4 527.2 127.7 526.5 128.0 527.2 128.9 527.5 129.1 527.3 129.4 526.6 129.7 526.5 130.3 527.4 130.6 527.5 130.9 527.1 131.2 527.0 131.4 526.3 131.7 526.4 132.0 527.1 132.3 527.3 132.6 527.2 132.9 527.2 133.2 526.6 133.5 525.7 133.7 526.7 134.0 527.1 134.3 527.4 134.6 527.1 134.9 527.2 135.2 526.4 135.5 525.9 135.8 527.0 136.3 527.4 136.6 527.2 136.9 526.9 137.2 526.0 137.5 526.3 137.8 527.2 138.1 527.4 138.6 527.4 138.9 526.9 139.2 526.1 139.5 526.9 140.1 527.5 140.4 527.2 140.6 527.2 141.2 526.4 141.5 527.1 142.1 527.4 142.7 526.9 143.2 526.7 143.5 527.2 143.8 527.3 144.1 527.2 144.7 527.2 145.5 526.9 145.8 526.6 146.1 526.6 146.4 526.1 147.0 524.9 147.3 523.6 147.6 520.3 147.8 514.2 148.1 512.2 148.4 518.4 148.7 522.6 149.0 524.6 149.3 525.7 149.6 526.0 149.9 526.2 150.1 526.5 150.7 526.5 151.0 526.8 151.3 526.8 151.6 527.2 151.9 527.1 152.2 526.9 152.4 526.9 152.7 526.5 153.0 527.1 153.3 527.3 153.9 527.1 154.2 527.2 154.5 526.7 155.0 527.3 155.6 527.4 156.2 527.0 156.5 526.4 157.0 527.4 157.3 527.4 157.9 527.1 158.2 526.6 158.5 526.3 158.8 527.2 159.6 527.2 159.9 527.0 160.2 526.0 160.5 526.4 160.8 527.3 161.1 527.6 161.4 527.4 161.6 527.3 161.9 526.7 162.2 526.0 162.5 526.9 162.8 527.4 163.4 527.5 163.7 527.3 164.0 526.6 164.2 526.2 164.5 527.3 164.8 527.3 165.1 527.7 165.7 527.4 166.0 526.8 166.3 527.0 166.5 527.6 166.8 527.6 167.1 527.8 167.7 527.3 168.0 526.8 168.3 527.4 168.6 527.7 169.4 527.5 169.7 527.3 170.0 527.2 170.3 527.8 171.1 527.7 172.0 528.0 172.6 528.0 172.9 527.9 173.2 528.0 173.4 527.8 173.7 528.0 174.0 527.8 174.9 528.0 175.5 527.7 176.3 527.9 176.6 527.9 176.9 527.7 177.2 527.9 177.5 527.7 177.8 527.6 178.6 527.7 178.9 527.5 179.2 527.5 179.5 527.6 180.1 527.3 180.3 527.5 180.6 527.1 181.2 527.2 181.5 526.9 181.8 527.0 182.1 526.9 182.7 527.0 182.9 526.9 183.2 527.0 183.5 526.9 183.8 526.9 184.1 527.2 185.0 527.3 185.2 527.4 185.8 527.3 186.1 527.7 187.3 527.6 187.5 527.8 188.1 527.7 188.4 527.7 188.7 527.9 189.0 527.7 189.3 527.9 189.8 527.8 190.1 528.1 190.4 527.8 191.6 528.1 191.9 528.0 193.0 528.1 193.3 528.0 193.9 528.2 194.2 528.0 194.7 527.9 195.0 528.0 195.3 528.3 195.6 528.2 195.9 528.0 196.5 528.1 196.7 528.0 197.0 528.3 197.3 528.0 197.6 528.2 197.9 528.3 198.2 528.0 198.5 528.0 198.8 528.3 199.1 528.1 199.3 528.0 199.9 528.1 200.5 528.1 200.8 528.2 201.1 528.0 201.4 528.3 201.9 528.2 202.2 528.1 202.5 528.3 203.1 528.2 203.4 528.0 203.7 528.2 203.9 528.0 204.2 528.3 204.5 528.2 205.1 528.3 205.4 528.1 205.7 528.3 206.2 528.2 206.5 528.4 206.8 528.1 207.1 528.2 207.4 528.1 207.7 528.4 208.3 528.1 208.8 528.3 209.4 528.1 210.0 528.2 210.3 528.4 210.8 528.2 211.1 528.4 211.4 528.2 211.7 528.4 212.0 528.2 212.6 528.4 213.1 528.2 213.4 528.3 214.0 528.3 214.3 528.4 214.6 528.3 215.2 528.2 215.7 528.5 216.0 528.2 216.3 528.2 216.6 528.5 216.9 528.4 217.2 528.2 217.5 528.4 218.3 528.2 218.6 528.3 218.9 528.5 219.5 528.1 220.1 528.3 220.6 528.2 220.9 528.5 221.2 528.2 221.5 528.4 221.8 528.3 222.4 528.5 223.2 528.3 223.5 528.4 223.8 528.4 224.1 528.2 224.9 528.3 225.2 528.4 225.5 528.2 225.8 528.4 226.1 528.5 226.4 528.2 226.7 528.4 227.0 528.3 227.5 528.5 228.7 528.4 229.0 528.6 229.5 528.3 230.1 528.5 230.4 528.3 230.7 528.5 231.0 528.3 231.3 528.2 231.8 528.4 232.1 528.3 232.7 528.6 233.3 528.3 233.9 528.3 234.1 528.5 234.4 528.3 235.0 528.5 235.3 528.3 235.9 528.5 236.5 528.3 237.3 528.3 237.6 528.3 237.9 528.3 238.2 528.5 239.6 528.5 239.9 528.6 240.2 528.4 241.1 528.5 241.3 528.3 242.2 528.4 242.5 528.6 243.1 528.4 243.4 528.4 243.6 528.6 244.5 528.4 244.8 528.6 245.1 528.4 245.4 528.5 245.7 528.3 245.9 528.6 246.2 528.4 246.5 528.3 246.8 528.4" fill="none" stroke="#5b9bd9" stroke-width="0.7" stroke-linejoin="round"/>
<path d="M256.3 528.6 256.7 528.5 257.1 528.3 258.2 528.5 258.6 528.5 259.0 528.6 259.7 528.3 260.1 528.3 260.5 528.6 261.3 528.3 261.7 528.6 262.4 528.4 262.8 528.5 263.6 528.3 264.0 528.5 264.4 528.3 264.8 528.2 265.1 528.6 265.5 528.4 265.9 528.6 266.3 528.4 266.7 528.6 267.5 528.3 268.6 528.6 269.0 528.3 269.8 528.5 270.1 528.3 271.3 528.4 271.7 528.3 272.1 528.6 272.5 528.5 272.8 528.3 274.0 528.6 274.4 528.5 274.8 528.3 275.2 528.6 275.5 528.3 276.7 528.4 277.1 528.2 277.5 528.2 277.9 528.4 278.2 528.3 278.6 528.4 279.4 528.2 279.8 528.4 280.2 528.3 280.5 528.5 280.9 528.3 281.3 528.5 281.7 528.2 282.1 528.2 282.5 528.5 282.9 528.3 283.2 528.5 284.0 528.5 284.8 528.2 285.2 528.5 285.6 528.2 286.3 528.5 286.7 528.3 287.1 528.2 287.5 528.3 287.9 528.3 288.3 528.2 288.6 528.2 289.0 528.5 289.8 528.1 290.2 528.2 290.6 528.5 290.9 528.1 291.3 528.2 291.7 528.1 292.1 528.4 292.5 528.1 293.3 528.4 293.6 528.3 294.0 528.5 294.4 528.2 295.2 528.4 296.0 528.1 296.3 528.4 296.7 528.3 297.1 528.4 297.5 528.2 297.9 528.4 298.3 528.1 298.7 528.2 299.0 528.1 299.4 528.4 300.2 528.4 300.6 528.2 301.0 528.4 301.3 528.4 301.7 528.1 302.5 528.1 303.3 528.4 303.7 528.3 304.0 528.1 304.4 528.4 304.8 528.4 305.2 528.1 305.6 528.1 306.0 528.3 306.4 528.3 306.7 528.0 307.1 528.3 307.9 528.1 308.3 528.4 308.7 528.4 309.1 528.2 309.4 528.3 309.8 528.0 310.2 528.2 310.6 528.0 311.4 528.3 311.7 528.3 312.1 528.2 312.5 528.2 312.9 528.0 313.3 528.3 314.1 528.3 314.4 528.1 315.2 528.1 315.6 528.3 316.0 528.1 316.4 528.2 316.8 528.0 317.1 528.2 317.5 528.2 317.9 528.0 318.3 528.4 318.7 528.0 319.5 528.0 320.2 528.2 321.0 528.1 321.4 528.3 321.8 528.0 322.1 528.0 322.5 528.2 322.9 528.0 324.1 527.9 324.5 528.3 324.8 528.0 325.6 527.9 326.4 528.2 326.8 528.0 327.2 528.1 327.9 528.2 328.3 528.0 328.7 528.0 329.1 528.2 329.5 528.1 329.9 528.1 330.2 527.9 331.0 528.2 331.4 528.1 331.8 527.9 332.2 528.0 332.9 528.0 333.7 528.2 334.1 528.0 334.5 528.1 334.9 527.9 335.6 528.1 336.0 527.8 336.4 527.9 337.9 527.9 338.3 528.0 338.7 528.0 339.1 528.1 339.5 527.8 339.9 528.0 340.3 528.0 340.6 527.9 341.0 528.1 341.4 528.1 341.8 527.8 342.2 528.1 342.6 527.9 343.7 528.0 344.1 527.8 344.5 528.1 344.9 528.0 345.3 527.8 346.8 528.0 347.2 528.0 347.6 527.6 348.0 527.6 348.3 527.9 348.7 527.7 349.1 527.8 349.5 527.6 349.9 527.8 350.3 527.6 350.7 527.9 351.0 527.6 351.4 527.8 351.8 527.5 352.2 527.8 352.6 527.8 353.0 527.6 354.1 527.7 354.9 527.4 355.3 527.5 355.7 527.4 356.0 527.6 356.4 527.4 356.8 527.6 358.0 527.4 358.4 527.1 358.7 527.0 359.5 527.1 359.9 527.0 360.3 526.8 361.1 526.7 361.4 526.5 361.8 526.5 362.2 526.3 362.6 526.5 363.0 526.2 363.4 526.5 363.8 526.1 364.5 526.1 364.9 526.3 365.3 526.1 365.7 526.2 366.4 525.8 366.8 525.9 367.2 525.5 367.6 525.7 368.0 525.5 368.4 525.4 368.8 524.9 369.1 524.8 370.7 524.1 371.1 523.7 372.2 522.7 372.6 522.6 373.4 522.2 373.8 521.8 374.2 521.5 374.5 521.8 375.7 521.9 376.5 522.1 376.8 522.6 377.2 522.9 377.6 522.9 378.0 523.5 378.4 523.5 379.2 524.0 379.5 524.5 380.3 524.8 381.1 525.4 381.9 525.5 382.2 525.7 382.6 526.0 383.0 526.2 383.8 526.1 384.2 526.3 384.6 526.2 384.9 526.6 385.3 526.4 385.7 526.8 386.1 526.8 386.5 526.9 386.9 526.7 387.2 526.7 387.6 526.9 388.4 527.1 389.2 527.1 389.6 527.2 389.9 527.0 390.7 527.3 391.1 527.1 391.9 527.2 392.3 527.1 392.6 527.3 393.0 527.1 393.4 527.4 393.8 527.1 394.2 527.4 394.6 527.1 395.0 527.1 395.3 527.3 396.5 527.2 396.9 527.4 397.3 527.2 398.0 527.5 398.4 527.2 398.8 527.1 399.2 527.3 400.0 527.3 400.3 527.1 400.7 527.2 401.5 527.1 401.9 527.4 402.7 527.0 403.4 527.3 404.2 526.9 404.6 527.1 405.0 527.2 405.4 526.9 406.1 527.1 406.5 527.0 406.9 527.1 407.3 527.0 407.7 526.7 408.4 526.6 408.8 526.5 409.2 526.7 409.6 526.3 410.0 526.4 410.4 526.5 411.1 526.0 411.9 526.0 412.3 525.6 412.7 525.6 413.1 525.5 413.4 525.2 413.8 525.1 414.2 524.9 414.6 524.6 415.0 524.6 416.5 523.6 416.9 523.6 417.3 523.1 417.7 523.4 418.1 523.4 418.4 523.1 419.2 523.5 419.6 523.5 420.0 524.0 420.8 524.2 421.1 524.2 421.5 524.7 421.9 524.8 422.3 525.0 422.7 525.4 423.1 525.4 423.8 525.6 424.2 525.8 425.0 526.0 426.5 526.1 426.9 526.3 427.3 526.0 427.7 525.9 428.1 525.1 428.5 523.6 428.8 521.6 429.2 523.6 429.6 525.5 430.0 526.2 430.4 526.4 430.8 526.9 431.2 526.8 432.3 527.0 433.1 527.3 433.5 527.3 433.9 527.0 434.2 527.1 434.6 527.1 435.0 527.2 435.4 527.1 435.8 527.4 436.6 527.2 437.3 527.5 437.7 527.5 438.1 527.4 438.5 527.5 438.9 527.4 439.2 527.3 439.6 527.3 440.0 527.6 440.4 527.4 441.9 527.6 442.3 527.4 442.7 527.3 443.1 527.5 443.5 527.3 444.3 527.7 444.6 527.3 445.0 527.5 445.8 527.5 446.2 527.3 446.6 527.6 447.0 527.7 447.7 527.4 448.1 527.7 448.9 527.3 449.7 527.6 450.0 527.6 450.4 527.4 450.8 527.6 451.2 527.5 451.6 527.6 452.0 527.4 452.3 527.5 452.7 527.4 453.1 527.6 453.5 527.5 453.9 527.7 454.3 527.5 455.4 527.7 455.8 527.5 456.6 527.4 457.0 527.4 457.4 527.3 458.1 527.7 458.5 527.5 458.9 527.6 459.3 527.5 459.7 527.5 460.1 527.3 460.8 527.4 461.2 527.6 462.4 527.6 463.1 527.4 464.7 527.6 465.1 527.3 465.8 527.7 466.2 527.5 466.6 527.5 467.0 527.7 467.8 527.4 468.1 527.6 468.9 527.4 469.3 527.4 469.7 527.3 470.1 527.6 470.5 527.5 470.8 527.6 471.2 527.3 471.6 527.5 472.0 527.3 472.8 527.6 473.1 527.3 473.5 527.5 473.9 527.6 474.3 527.2 474.7 527.5 475.1 527.6 475.5 527.5 475.8 527.3 477.4 527.3 477.8 527.0 478.2 527.2 478.5 527.2 478.9 526.8 480.1 526.7 480.5 526.8 480.9 527.1 481.2 527.2 481.6 527.1 482.0 527.4 482.4 527.2 482.8 527.4 483.2 527.2 483.5 527.5 483.9 527.2 484.3 527.2 484.7 527.5 485.1 527.4 485.5 527.6 485.9 527.5 486.2 527.6 486.6 527.4 487.0 527.5 487.4 527.4" fill="none" stroke="#5b9bd9" stroke-width="0.7" stroke-linejoin="round"/>
<path d="M55.2 516.8 55.5 516.9 55.8 516.7 56.4 516.8 56.6 517.0 57.5 516.7 57.8 516.8 58.1 517.0 58.4 516.8 58.7 516.9 58.9 516.8 59.2 517.1 59.5 516.9 60.1 516.8 60.7 517.0 61.2 516.9 61.5 517.1 61.8 517.0 62.1 516.8 62.4 517.0 62.7 516.9 63.0 517.1 63.5 517.1 63.8 517.0 64.4 517.1 64.7 516.8 65.0 517.0 65.8 517.1 66.4 517.0 66.7 517.1 67.0 516.9 67.3 517.1 67.6 516.9 67.9 517.1 68.4 516.9 68.7 517.1 69.0 516.9 69.6 517.0 70.2 517.0 70.4 516.8 70.7 516.9 71.0 517.2 71.3 516.9 71.6 517.0 71.9 516.9 72.2 517.1 72.5 517.1 72.7 516.8 73.9 517.1 75.6 516.9 76.2 516.9 76.5 517.2 76.8 517.0 77.4 517.2 77.6 517.1 77.9 516.9 78.2 516.9 78.8 517.2 79.1 517.0 79.4 517.2 79.7 517.1 79.9 517.2 80.2 517.0 81.4 517.1 81.7 517.0 82.0 516.9 82.2 517.2 82.5 517.2 82.8 517.0 83.4 517.2 83.7 517.0 84.3 517.1 84.5 516.9 84.8 517.1 86.0 516.9 86.3 517.2 87.1 517.0 87.4 517.0 87.7 517.3 88.0 517.2 88.3 517.0 88.6 517.2 88.9 517.0 89.1 517.1 90.0 517.3 90.6 517.1 90.9 517.2 92.0 517.1 92.3 517.3 92.6 517.0 92.9 517.1 93.2 517.0 93.5 517.3 93.8 517.3 94.0 517.0 94.3 517.0 94.6 517.2 95.8 517.1 96.3 517.0 96.6 517.3 96.9 517.3 97.2 517.1 97.8 517.3 98.1 517.1 98.4 517.2 98.6 517.0 99.2 517.0 99.5 517.2 99.8 517.0 100.4 517.3 100.7 517.1 100.9 517.1 101.2 517.3 101.8 517.1 102.1 517.3 102.4 517.2 102.7 517.1 103.0 517.0 103.2 517.3 103.5 517.2 103.8 517.3 104.1 517.1 104.4 517.1 104.7 517.3 105.0 517.2 105.5 517.3 105.8 517.1 106.1 517.3 106.4 517.3 106.7 517.1 107.6 517.3 108.4 517.1 109.3 517.2 109.9 517.2 110.2 517.1 111.9 517.3 112.2 517.1 112.5 517.1 112.7 517.4 113.0 517.1 113.3 517.4 113.6 517.3 114.2 517.4 114.8 517.1 115.0 517.4 115.3 517.4 115.6 517.1 116.5 517.1 116.8 517.3 117.3 517.3 117.9 517.1 118.2 517.2 118.5 517.1 119.1 517.3 119.4 517.2 119.6 517.3 119.9 517.0 121.1 517.3 121.7 517.0 121.9 517.1 122.2 517.1 123.1 517.2 123.7 517.0 124.0 516.7 124.2 517.2 124.5 517.3 125.1 517.0 125.4 517.1 125.7 516.7 126.0 516.6 126.5 517.1 126.8 517.1 127.1 517.0 127.7 516.1 128.0 516.7 128.3 516.9 129.1 516.9 129.4 516.4 129.7 515.9 130.0 516.7 130.9 517.1 131.2 516.8 131.4 515.8 131.7 515.9 132.0 516.7 132.6 517.0 132.9 516.8 133.5 515.6 133.7 516.3 134.3 517.0 134.6 517.0 134.9 516.7 135.2 516.0 135.5 515.6 135.8 516.5 136.3 517.0 136.9 516.4 137.2 515.9 137.5 516.1 138.1 517.1 138.3 517.1 138.6 516.9 138.9 516.5 139.2 515.9 139.5 516.7 140.1 517.1 140.6 516.9 140.9 516.5 141.2 516.2 141.5 516.9 141.8 516.8 142.4 517.1 142.7 516.8 142.9 516.3 143.2 516.4 143.8 516.9 144.1 516.7 144.4 516.8 145.3 516.6 145.8 516.6 146.1 516.3 146.4 516.4 146.7 516.0 147.3 514.7 147.6 512.8 147.8 509.1 148.1 508.0 148.4 511.7 148.7 514.1 149.0 515.3 149.3 515.8 149.6 516.0 149.9 516.4 151.0 516.4 151.3 516.6 151.6 516.9 152.4 516.7 152.7 516.3 153.0 516.8 153.3 517.0 153.9 517.0 154.2 516.7 154.5 516.1 154.7 516.5 155.0 517.0 155.3 516.9 155.9 516.9 156.5 516.0 157.3 517.1 157.9 516.9 158.2 516.3 158.5 516.0 158.8 516.7 159.1 517.2 159.3 517.0 159.6 517.1 159.9 516.6 160.2 515.6 160.5 516.0 160.8 516.9 161.1 517.2 161.4 517.0 161.6 517.1 162.2 515.8 162.8 517.0 163.1 517.1 163.7 517.0 164.0 516.3 164.2 516.1 164.5 516.9 164.8 517.2 165.1 517.3 165.7 517.1 166.0 516.2 166.3 516.4 166.5 516.9 167.1 517.4 167.7 516.8 168.0 516.4 168.3 516.9 168.8 517.3 169.1 517.4 169.4 517.3 169.7 517.0 170.0 516.9 170.6 517.5 171.1 517.4 171.7 517.5 172.0 517.5 172.3 517.6 172.6 517.4 172.9 517.4 173.2 517.6 173.7 517.5 174.0 517.4 174.3 517.6 174.6 517.3 175.7 517.5 176.0 517.3 176.3 517.6 176.6 517.5 176.9 517.3 177.2 517.5 177.8 517.5 178.0 517.2 178.3 517.1 178.9 517.4 179.2 517.1 179.5 517.0 180.1 517.1 180.9 516.9 181.2 516.6 182.4 516.7 182.7 516.5 182.9 516.6 183.2 516.5 183.5 516.7 184.4 516.8 185.0 517.0 185.2 516.9 186.4 517.3 186.7 517.1 187.0 517.5 187.3 517.3 187.5 517.5 187.8 517.6 188.1 517.3 188.7 517.5 189.0 517.4 189.3 517.7 189.8 517.4 190.4 517.6 191.0 517.4 191.6 517.8 191.9 517.5 192.1 517.6 192.4 517.5 193.3 517.8 193.6 517.6 194.2 517.7 194.4 517.6 194.7 517.7 195.0 517.6 195.3 517.9 195.6 517.9 195.9 517.8 196.2 517.8 196.5 517.6 196.7 517.7 197.0 517.6 197.3 517.8 197.6 517.6 198.5 517.7 198.8 517.9 199.1 517.6 199.3 517.9 199.6 517.8 200.2 517.9 200.5 517.6 200.8 517.7 201.1 517.6 201.4 517.8 201.6 517.8 202.2 517.6 203.9 517.7 204.2 518.0 204.8 517.9 205.1 517.9 205.4 517.7 206.8 518.0 207.4 517.9 207.7 517.7 208.0 517.9 208.8 517.7 209.4 517.9 210.3 517.9 210.6 517.8 211.1 517.9 211.4 517.8 211.7 518.0 212.6 517.7 213.1 518.0 213.7 517.7 214.0 517.9 214.9 517.9 215.2 517.8 215.7 518.0 216.3 518.0 216.6 517.8 216.9 518.0 217.5 517.9 218.0 517.8 218.3 517.9 218.6 517.8 218.9 518.0 220.3 517.8 220.6 518.0 221.5 518.1 222.1 517.8 223.2 518.0 223.5 517.8 223.8 517.9 224.1 517.8 224.7 518.1 224.9 518.1 225.2 517.8 225.5 518.1 226.4 518.0 226.7 517.8 227.0 517.8 227.2 518.1 227.5 517.8 228.1 518.1 228.4 517.9 228.7 518.0 229.3 518.1 229.5 518.0 229.8 518.1 230.1 517.8 230.4 518.1 231.3 517.9 231.6 518.0 231.8 517.9 232.1 518.1 232.4 517.9 232.7 518.0 233.3 517.9 233.6 518.0 234.4 517.9 234.7 518.1 235.3 517.9 235.6 518.1 235.9 517.9 236.2 518.0 236.5 518.0 236.7 518.2 237.0 518.0 237.6 518.1 237.9 517.9 238.5 518.1 239.0 517.9 239.3 518.1 239.6 518.2 240.5 518.1 240.8 517.9 241.1 518.2 241.3 518.1 241.6 518.2 242.2 517.9 242.5 518.0 242.8 517.9 243.1 518.1 243.4 518.0 243.6 518.2 243.9 518.1 244.2 518.2 244.5 518.0 245.7 518.1 245.9 518.2 246.5 518.0 246.8 518.0" fill="none" stroke="#f2a3a8" stroke-width="0.7" stroke-linejoin="round"/>
<path d="M256.3 517.3 256.7 517.2 257.4 517.5 258.2 517.2 258.6 517.5 259.4 517.5 259.7 517.2 260.1 517.4 260.5 517.3 260.9 517.5 261.3 517.5 261.7 517.3 262.1 517.5 262.8 517.3 263.2 517.4 263.6 517.3 264.0 517.5 264.8 517.5 265.1 517.3 266.3 517.4 266.7 517.1 267.1 517.4 267.5 517.2 267.8 517.1 268.2 517.2 268.6 517.2 269.0 517.4 269.8 517.2 270.1 517.5 271.3 517.2 271.7 517.3 272.1 517.1 272.5 517.2 273.2 517.1 273.6 517.3 274.0 517.1 274.8 517.5 275.2 517.2 275.5 517.2 275.9 517.4 276.3 517.2 276.7 517.2 277.1 517.1 277.5 517.3 279.0 517.2 279.4 517.4 279.8 517.2 280.2 517.4 280.5 517.4 280.9 517.4 281.3 517.2 281.7 517.5 282.1 517.1 282.5 517.3 282.9 517.4 283.6 517.1 284.4 517.3 284.8 517.3 285.2 517.2 285.6 517.3 285.9 517.3 286.3 517.2 286.7 517.4 287.1 517.2 287.9 517.1 288.3 517.3 288.6 517.2 289.0 517.3 289.4 517.2 290.2 517.3 290.6 517.1 290.9 517.3 291.3 517.0 292.1 517.3 292.9 517.3 293.3 517.1 294.0 517.4 294.8 517.1 295.6 517.4 296.7 517.1 297.1 517.3 298.7 517.0 299.4 517.3 299.8 517.2 300.2 517.3 301.0 517.1 301.3 517.3 302.1 517.1 302.5 517.3 303.7 517.0 304.0 517.1 304.4 517.3 305.2 517.1 306.0 517.2 306.4 517.2 306.7 516.9 307.1 517.1 307.5 517.0 307.9 517.2 308.7 517.0 309.1 517.1 309.4 516.9 309.8 517.2 310.2 517.0 310.6 516.9 311.0 517.3 311.4 517.2 311.7 517.2 312.5 516.9 313.7 517.2 314.1 517.2 314.4 517.3 314.8 516.9 315.2 517.3 315.6 517.0 316.0 517.2 316.8 516.9 317.1 517.0 317.5 516.9 317.9 517.2 318.3 516.9 319.1 516.9 319.5 517.1 319.8 517.1 320.2 516.9 320.6 517.0 321.0 517.0 321.4 517.2 322.5 517.1 322.9 517.0 323.3 517.1 324.1 516.8 324.8 517.2 325.2 516.9 325.6 516.8 326.0 517.1 326.4 516.8 326.8 516.8 327.5 517.1 328.3 516.9 328.7 517.1 329.1 516.8 329.9 516.9 330.2 516.8 330.6 517.1 331.4 517.0 332.2 516.8 332.5 517.1 333.3 517.1 334.5 516.8 335.2 517.0 335.6 516.9 336.4 517.1 338.3 516.8 338.7 517.1 339.5 517.0 340.3 516.7 341.0 516.8 341.4 517.0 342.2 516.8 342.6 517.0 342.9 516.8 344.5 516.8 344.9 516.6 345.6 516.8 346.0 516.6 346.4 516.7 347.2 516.7 347.6 516.6 348.3 516.8 348.7 516.6 349.5 516.7 349.9 516.5 350.3 516.6 350.7 516.8 351.0 516.6 351.8 516.7 352.2 516.4 352.6 516.8 353.4 516.4 353.7 516.5 354.1 516.5 354.5 516.3 355.7 516.3 356.0 516.5 356.4 516.3 356.8 516.5 357.2 516.4 357.6 516.1 358.4 516.0 358.7 516.2 359.1 516.0 359.5 516.1 359.9 516.1 360.3 515.8 360.7 515.9 361.1 515.8 361.4 515.5 361.8 515.5 363.4 515.3 363.8 515.1 364.1 515.1 364.5 515.4 365.3 515.2 366.4 514.7 366.8 515.0 367.2 514.8 367.6 514.4 368.4 514.1 368.8 514.2 369.1 514.1 369.5 513.6 369.9 513.7 371.5 512.5 371.8 512.1 372.2 511.9 372.6 511.5 374.5 510.7 374.9 510.9 375.3 511.0 375.7 510.9 376.1 511.0 376.5 511.2 376.8 511.8 377.2 511.9 377.6 512.3 378.0 512.5 379.2 513.4 379.5 513.6 379.9 513.5 380.3 513.8 380.7 514.0 381.1 514.4 381.5 514.5 381.9 514.4 382.2 514.6 383.0 515.1 384.9 515.2 385.3 515.7 385.7 515.4 386.1 515.6 387.6 515.8 388.0 515.7 388.4 516.0 389.9 516.1 390.3 515.8 390.7 516.1 391.9 516.1 392.6 516.2 393.0 516.1 394.2 516.1 395.0 516.3 395.3 516.2 395.7 516.4 396.1 516.1 396.5 516.1 396.9 516.1 397.3 516.4 397.6 516.1 398.4 516.4 398.8 516.0 399.6 516.4 400.7 516.0 401.1 516.3 401.5 516.0 401.9 516.3 402.7 516.3 403.0 516.0 403.8 516.0 404.2 516.2 404.6 516.0 405.4 516.0 405.7 516.0 406.1 515.8 406.5 516.0 407.3 516.0 407.7 515.7 408.0 515.9 408.4 515.7 408.8 515.5 409.6 515.7 410.4 515.2 411.1 515.0 411.5 515.0 411.9 514.7 412.3 514.9 412.7 514.6 413.4 514.4 414.2 513.8 414.6 513.8 415.0 513.3 415.8 513.1 416.9 512.4 417.3 512.6 418.4 512.1 419.6 512.6 421.1 513.6 421.5 513.5 421.9 514.0 422.7 514.2 423.1 514.5 423.8 514.9 424.2 514.8 424.6 515.1 425.4 515.0 425.8 515.4 426.2 515.1 426.5 515.2 426.9 515.4 427.7 515.0 428.1 514.4 428.5 512.8 428.8 510.6 429.2 512.8 429.6 514.5 430.0 515.3 430.4 515.4 430.8 515.8 431.5 516.0 431.9 515.8 432.3 516.2 433.1 516.0 433.5 516.2 434.2 516.0 434.6 516.3 435.0 516.0 435.4 516.2 435.8 516.1 436.2 516.4 436.6 516.4 436.9 516.1 437.3 516.4 437.7 516.1 438.1 516.4 438.5 516.2 438.9 516.2 439.2 516.5 439.6 516.2 440.0 516.3 440.4 516.2 440.8 516.5 441.2 516.3 441.9 516.5 442.3 516.4 442.7 516.2 443.1 516.5 443.5 516.2 443.9 516.4 444.3 516.5 444.6 516.3 445.8 516.5 446.2 516.3 446.6 516.5 447.0 516.5 447.3 516.2 447.7 516.5 448.5 516.2 448.9 516.5 449.3 516.6 449.7 516.4 450.8 516.2 451.2 516.4 452.0 516.3 452.3 516.6 452.7 516.2 453.1 516.6 453.9 516.6 454.3 516.3 454.7 516.3 455.4 516.6 457.0 516.5 457.4 516.2 458.1 516.6 458.5 516.2 458.9 516.5 459.7 516.6 460.8 516.3 461.2 516.4 461.6 516.2 462.0 516.3 462.4 516.3 462.7 516.4 463.5 516.5 463.9 516.3 464.3 516.6 465.4 516.5 465.8 516.4 466.6 516.6 467.0 516.5 467.4 516.6 467.8 516.4 468.1 516.6 468.9 516.4 469.3 516.6 470.1 516.4 471.6 516.3 472.0 516.5 472.4 516.3 472.8 516.5 473.1 516.2 473.5 516.5 473.9 516.5 474.3 516.1 475.1 516.5 475.8 516.4 476.2 516.2 476.6 516.3 477.4 515.9 477.8 515.9 478.2 516.1 479.3 515.7 479.7 515.7 480.1 515.6 481.2 516.0 481.6 515.9 482.0 516.0 482.4 516.2 483.2 516.0 484.3 516.4 484.7 516.2 485.1 516.4 485.9 516.5 486.2 516.2 486.6 516.2 487.0 516.4 487.4 516.4" fill="none" stroke="#f2a3a8" stroke-width="0.7" stroke-linejoin="round"/>
<path d="M55.2 506.5 55.5 506.5 55.8 506.6 56.1 506.6 56.4 506.4 56.6 506.4 56.9 506.7 57.5 506.5 57.8 506.6 58.1 506.4 58.4 506.7 58.7 506.5 58.9 506.6 59.2 506.5 59.5 506.5 59.8 506.4 60.7 506.7 61.0 506.4 61.2 506.4 61.8 506.6 62.1 506.5 62.4 506.6 62.7 506.4 63.0 506.5 63.3 506.6 63.8 506.7 64.7 506.5 65.6 506.6 65.8 506.5 66.1 506.5 66.4 506.7 66.7 506.4 67.0 506.6 67.6 506.7 67.9 506.5 68.1 506.5 68.4 506.4 68.7 506.7 69.3 506.5 69.6 506.7 70.2 506.4 70.4 506.7 70.7 506.5 71.0 506.4 71.3 506.6 71.6 506.5 71.9 506.7 72.2 506.5 72.7 506.8 73.0 506.5 73.3 506.5 73.6 506.4 73.9 506.7 74.5 506.5 74.8 506.6 75.9 506.5 76.2 506.8 77.1 506.6 78.2 506.6 78.8 506.7 79.1 506.6 79.4 506.7 79.7 506.6 79.9 506.8 80.2 506.7 80.5 506.7 80.8 506.6 81.1 506.6 81.4 506.8 81.7 506.6 82.2 506.5 82.5 506.7 82.8 506.6 83.4 506.8 83.7 506.8 84.0 506.5 84.3 506.6 84.5 506.8 84.8 506.7 85.4 506.8 85.7 506.6 86.0 506.7 86.3 506.6 86.6 506.9 86.8 506.9 87.1 506.7 87.7 506.7 88.6 506.5 88.9 506.9 89.7 506.8 90.3 506.5 90.9 506.6 91.2 506.9 91.5 506.9 92.0 506.6 93.2 506.7 93.5 506.6 94.9 506.9 95.2 506.6 95.8 506.8 96.1 506.8 96.3 506.9 96.9 506.6 97.2 506.9 97.5 506.8 97.8 506.9 98.1 506.7 98.4 506.9 98.9 506.7 99.2 506.8 99.8 506.6 100.1 506.9 100.4 506.7 101.5 506.6 101.8 506.9 102.1 506.7 102.7 506.8 103.0 506.7 103.2 506.9 103.5 506.7 103.8 506.7 104.1 506.7 104.4 507.0 104.7 506.6 105.0 506.7 105.3 507.0 105.5 506.8 106.4 506.9 106.7 506.6 107.3 507.0 107.6 507.0 107.8 506.7 108.1 506.7 108.4 506.8 108.7 506.7 109.0 506.9 109.3 506.9 109.6 506.6 109.9 506.9 110.2 506.7 110.7 506.7 111.6 507.0 112.2 506.7 112.5 506.9 113.3 506.9 113.6 506.7 113.9 506.7 114.2 507.0 114.5 506.7 116.5 506.9 117.3 506.7 117.6 506.9 117.9 506.9 118.2 506.7 118.5 506.8 118.8 506.9 119.4 506.7 119.6 506.9 119.9 506.9 120.2 506.7 120.5 506.8 120.8 506.7 121.4 506.9 121.7 506.6 121.9 506.4 122.5 506.7 122.8 506.7 123.1 506.9 123.4 506.8 123.7 506.5 124.2 506.5 124.5 506.7 124.8 506.8 125.1 506.5 125.4 506.5 125.7 506.1 126.0 506.2 126.3 506.6 126.5 506.6 126.8 506.8 127.4 506.3 127.7 505.6 128.0 506.4 128.3 506.6 129.1 506.5 129.4 505.6 129.7 505.2 130.0 506.3 130.6 506.6 131.2 506.1 131.4 504.9 131.7 505.4 132.0 506.3 132.3 506.3 132.6 506.6 132.9 506.2 133.2 505.5 133.5 504.6 133.7 505.8 134.0 506.3 134.6 506.5 134.9 506.0 135.2 505.1 135.5 505.1 135.8 506.0 136.0 506.4 136.6 506.5 136.9 505.9 137.2 505.1 137.5 505.5 137.8 506.1 138.1 506.5 138.6 506.5 138.9 505.8 139.2 505.3 139.5 506.0 140.1 506.5 140.4 506.3 140.6 506.4 140.9 505.8 141.2 505.7 141.5 506.3 142.1 506.6 142.4 506.2 142.7 506.2 142.9 506.0 143.2 506.0 143.5 506.2 143.8 506.2 144.1 506.5 144.7 506.1 145.5 506.2 145.8 506.0 146.1 505.7 146.4 505.7 147.0 504.9 147.3 503.8 147.6 501.4 147.8 497.3 148.1 496.1 148.4 500.5 148.7 503.0 149.0 504.5 149.3 505.1 149.6 505.6 150.4 505.8 150.7 505.7 151.0 505.8 151.3 506.3 151.9 506.1 152.2 506.2 152.7 505.7 153.0 506.2 153.6 506.5 153.9 506.5 154.2 506.2 154.5 505.5 155.0 506.4 155.3 506.4 155.6 506.6 155.9 506.5 156.2 506.0 156.5 505.1 156.8 506.0 157.0 506.5 157.3 506.6 157.6 506.5 158.5 505.1 158.8 505.9 159.1 506.3 159.3 506.5 159.9 506.1 160.2 505.2 160.5 505.5 160.8 506.3 161.1 506.4 161.4 506.7 161.6 506.6 161.9 505.9 162.2 504.9 162.8 506.5 163.1 506.7 163.4 506.7 163.7 506.5 164.0 505.8 164.2 505.3 164.5 506.3 164.8 506.7 165.1 506.7 165.4 506.8 165.7 506.5 166.0 505.8 166.3 505.8 166.5 506.5 167.1 507.0 167.7 506.6 168.0 505.8 168.6 506.8 169.1 507.0 169.4 506.7 169.7 506.6 170.0 506.4 170.3 506.9 170.6 507.0 170.9 506.9 171.4 507.2 172.0 507.2 172.6 507.0 173.2 507.2 173.4 507.2 173.7 506.9 174.6 507.2 174.9 507.1 175.2 507.2 175.5 507.1 175.7 507.2 176.0 506.9 176.3 506.9 176.6 507.0 177.5 507.0 177.8 506.7 178.0 507.0 178.3 506.9 178.6 506.6 179.2 506.6 179.5 506.8 179.8 506.5 180.1 506.6 180.6 506.2 180.9 506.3 181.2 506.0 181.5 506.1 181.8 506.0 182.9 506.1 183.5 505.9 184.1 506.1 184.4 506.4 184.7 506.4 185.0 506.3 185.2 506.4 185.5 506.7 185.8 506.5 186.4 506.8 186.7 506.6 187.0 506.8 187.5 506.9 187.8 507.0 188.1 506.9 188.4 506.9 188.7 507.2 190.1 507.0 190.4 507.2 190.7 507.3 191.0 507.2 191.3 507.3 191.6 507.0 191.9 507.3 193.0 507.3 193.6 507.4 193.9 507.1 194.2 507.1 194.4 507.4 195.0 507.3 195.3 507.4 195.6 507.2 195.9 507.4 196.2 507.2 196.5 507.2 196.7 507.4 197.0 507.4 197.3 507.2 197.6 507.2 197.9 507.5 199.1 507.3 200.2 507.2 200.5 507.5 200.8 507.4 201.1 507.5 201.6 507.3 201.9 507.5 202.5 507.4 202.8 507.5 203.1 507.4 203.9 507.6 204.2 507.5 204.8 507.4 205.1 507.5 205.4 507.2 206.0 507.5 206.2 507.4 206.5 507.5 206.8 507.3 207.4 507.3 207.7 507.5 208.0 507.5 208.3 507.5 208.5 507.4 208.8 507.5 209.1 507.3 209.4 507.5 209.7 507.3 210.3 507.5 210.6 507.6 210.8 507.4 211.1 507.6 211.4 507.3 211.7 507.6 212.3 507.5 212.9 507.4 213.1 507.6 213.7 507.4 214.0 507.5 214.3 507.3 214.6 507.5 214.9 507.5 215.2 507.4 215.7 507.4 216.0 507.6 216.3 507.4 216.6 507.5 217.2 507.5 217.5 507.4 218.6 507.5 218.9 507.4 219.2 507.7 220.1 507.4 220.6 507.5 220.9 507.6 221.5 507.4 221.8 507.6 222.4 507.4 222.9 507.6 223.2 507.5 223.5 507.7 223.8 507.4 224.1 507.5 224.4 507.7 224.7 507.5 224.9 507.6 225.2 507.5 225.5 507.7 225.8 507.7 226.1 507.4 226.4 507.7 226.7 507.6 227.0 507.7 227.2 507.5 228.1 507.5 228.4 507.7 229.0 507.5 229.3 507.6 230.1 507.6 230.7 507.4 231.0 507.4 231.3 507.7 231.6 507.5 232.1 507.7 232.4 507.6 232.7 507.7 233.0 507.5 234.1 507.6 234.7 507.7 235.0 507.6 235.3 507.7 235.6 507.5 236.2 507.7 236.5 507.6 236.7 507.7 237.0 507.5 237.3 507.8 237.6 507.8 237.9 507.6 238.2 507.8 238.5 507.5 238.8 507.7 239.0 507.5 239.3 507.8 239.6 507.6 239.9 507.8 240.2 507.6 241.1 507.6 241.3 507.7 241.9 507.7 242.2 507.8 242.5 507.7 243.1 507.8 243.4 507.7 243.6 507.8 243.9 507.6 244.8 507.8 245.1 507.5 245.4 507.8 245.7 507.8 245.9 507.6 246.2 507.8 246.5 507.5 246.8 507.9" fill="none" stroke="#e46a70" stroke-width="0.7" stroke-linejoin="round"/>
<path d="M256.3 506.9 257.1 506.8 257.8 507.1 258.2 507.0 258.6 507.1 259.0 506.8 259.7 507.0 260.5 506.8 261.3 506.9 261.7 507.1 262.1 507.0 262.8 507.0 263.2 506.8 264.8 506.8 265.1 507.1 265.5 507.1 265.9 506.7 266.3 506.9 266.7 507.0 267.1 506.7 267.8 507.1 268.2 506.8 268.6 507.1 269.0 506.9 269.4 507.0 270.1 506.7 270.5 506.9 270.9 506.8 271.7 507.1 272.5 506.8 272.8 507.0 273.2 507.1 273.6 506.9 274.4 506.9 274.8 506.7 275.2 506.8 275.5 507.0 276.3 506.8 276.7 506.9 277.1 506.7 277.5 506.9 277.9 506.8 278.6 506.8 279.0 506.7 279.4 506.9 279.8 506.7 280.2 507.0 280.5 506.9 280.9 507.0 281.3 506.7 281.7 506.8 283.6 506.8 284.0 507.0 284.8 506.8 285.2 506.8 285.6 506.7 285.9 506.7 286.3 506.9 286.7 506.9 287.5 506.7 288.3 507.0 288.6 506.7 289.0 506.8 289.4 507.0 289.8 507.0 290.2 506.8 291.3 506.6 292.1 506.7 292.5 506.8 292.9 506.6 294.0 507.0 294.8 506.6 295.6 506.8 296.3 506.7 296.7 506.9 297.1 506.7 297.5 506.9 297.9 506.7 298.3 507.0 298.7 506.7 299.0 506.6 300.2 506.7 301.0 507.0 301.7 506.7 302.5 506.8 302.9 506.6 303.3 506.8 303.7 506.6 304.0 506.5 304.4 506.9 304.8 506.8 305.6 506.8 306.0 506.6 306.4 506.8 307.9 506.7 308.3 506.8 309.1 506.6 309.4 506.6 309.8 506.8 310.6 506.7 311.0 506.5 311.7 506.6 312.1 506.8 313.3 506.9 313.7 506.6 314.8 506.9 315.2 506.8 315.6 506.6 316.0 506.6 316.4 506.7 316.8 506.5 317.5 506.8 317.9 506.9 318.3 506.5 318.7 506.5 319.5 506.8 319.8 506.6 320.2 506.5 320.6 506.7 321.0 506.7 321.4 506.5 321.8 506.7 322.1 506.5 322.5 506.7 322.9 506.7 323.3 506.6 323.7 506.8 324.1 506.5 324.5 506.4 324.8 506.8 325.2 506.6 325.6 506.8 326.0 506.5 327.2 506.4 327.5 506.8 327.9 506.5 328.3 506.4 329.1 506.7 329.5 506.7 329.9 506.5 330.2 506.7 330.6 506.7 331.0 506.4 331.4 506.6 331.8 506.5 332.2 506.7 332.5 506.5 332.9 506.6 333.3 506.4 333.7 506.7 334.1 506.4 334.5 506.6 334.9 506.4 335.6 506.7 336.0 506.4 336.4 506.6 336.8 506.3 337.9 506.3 338.7 506.6 339.9 506.5 340.3 506.3 341.4 506.5 341.8 506.3 342.2 506.5 342.6 506.2 343.3 506.5 343.7 506.3 344.1 506.5 344.5 506.3 344.9 506.3 345.3 506.5 346.0 506.2 346.8 506.5 347.6 506.4 348.0 506.2 348.3 506.5 348.7 506.1 349.9 506.1 350.3 506.4 351.0 506.0 351.8 506.0 352.6 506.2 353.0 506.2 353.4 506.1 353.7 506.1 354.1 505.8 354.5 505.9 354.9 506.1 355.3 505.9 356.0 506.1 356.4 506.0 356.8 505.6 357.2 505.7 357.6 505.6 358.0 505.7 358.4 505.5 358.7 505.7 359.1 505.5 359.5 505.6 359.9 505.1 360.3 505.0 360.7 505.1 361.4 504.8 362.2 504.8 362.6 504.5 363.0 504.8 363.4 504.5 365.3 504.5 366.1 504.1 366.4 504.1 367.2 503.7 367.6 503.6 368.8 503.0 369.5 502.9 369.9 502.5 370.3 502.3 371.1 501.4 371.5 501.1 371.8 501.1 372.2 500.8 372.6 500.1 373.0 499.8 373.4 499.8 374.2 499.2 374.5 499.2 374.9 499.5 375.7 499.3 376.1 499.8 376.5 500.0 376.8 500.1 377.2 500.6 378.4 501.4 378.8 501.9 379.2 502.1 379.5 502.5 380.3 503.1 380.7 503.2 381.1 503.5 381.9 503.6 382.2 503.8 382.6 504.2 383.0 504.2 383.4 504.4 384.6 504.7 384.9 505.0 385.3 504.8 386.1 505.0 386.5 505.0 387.2 505.0 387.6 505.4 388.0 505.5 388.8 505.3 389.6 505.4 390.3 505.5 391.1 505.4 391.5 505.5 391.9 505.7 392.3 505.8 393.4 505.6 393.8 505.7 394.2 505.5 395.7 505.8 396.5 505.6 396.9 505.8 397.3 505.6 397.6 505.8 398.0 505.6 398.8 505.8 399.2 505.6 400.0 505.9 400.7 505.5 401.1 505.8 401.9 505.7 402.3 505.5 402.7 505.7 403.0 505.5 403.4 505.6 404.2 505.6 404.6 505.4 405.0 505.6 406.5 505.2 406.9 505.3 407.7 505.0 408.0 505.3 408.4 505.0 408.8 505.0 409.2 504.8 409.6 505.0 410.7 504.6 411.5 504.2 411.9 504.2 413.1 503.6 413.4 503.3 414.2 503.0 415.0 502.3 416.1 501.9 416.5 501.6 417.3 501.3 418.1 501.2 418.4 500.9 418.8 501.3 419.2 501.3 419.6 501.7 420.0 501.6 420.4 501.8 421.1 502.6 421.5 502.9 421.9 502.9 422.3 503.3 422.7 503.5 423.8 503.7 424.2 504.1 424.6 504.1 425.0 504.3 426.2 504.5 426.5 504.7 426.9 504.6 427.7 504.2 428.1 503.6 428.8 499.3 429.2 501.8 429.6 503.7 430.0 504.7 430.8 505.1 431.2 505.5 431.5 505.4 431.9 505.6 432.3 505.4 432.7 505.7 433.5 505.8 433.9 505.6 434.6 505.8 435.0 505.6 435.4 505.9 435.8 505.7 436.6 505.7 436.9 505.8 437.3 505.7 437.7 506.0 438.9 505.7 439.2 506.0 439.6 505.7 440.0 505.7 440.4 506.0 440.8 505.8 441.2 506.0 441.6 505.8 441.9 505.9 442.3 505.9 442.7 506.1 443.5 506.0 443.9 505.8 444.6 505.9 445.0 506.0 445.4 505.9 445.8 506.0 446.2 505.8 447.0 505.8 447.7 506.2 448.1 505.8 448.5 506.0 448.9 506.1 449.3 505.8 450.4 505.8 450.8 506.2 451.2 505.9 451.6 506.1 452.0 506.0 452.7 506.0 453.1 506.1 453.9 505.8 454.3 505.9 454.7 505.8 455.0 506.2 455.4 506.2 455.8 505.9 456.2 506.1 456.6 506.1 457.0 505.9 458.1 506.2 459.7 506.0 460.1 506.2 460.4 506.2 460.8 506.0 462.0 506.2 462.4 506.0 462.7 506.2 463.1 506.0 463.5 506.2 464.3 505.8 464.7 506.0 465.4 506.0 465.8 506.1 467.0 506.0 467.4 506.1 467.8 506.1 468.1 505.9 468.5 505.9 469.3 506.2 470.1 505.9 471.2 506.1 472.0 505.9 472.4 506.1 472.8 506.1 473.1 505.7 475.1 506.0 475.5 505.8 475.8 505.9 476.6 505.7 477.0 505.8 477.4 505.6 477.8 505.6 478.2 505.4 478.5 505.5 479.3 505.5 479.7 505.3 480.1 505.3 480.5 505.6 481.2 505.5 481.6 505.5 482.0 505.8 482.4 505.6 483.2 505.9 483.9 505.8 484.3 506.0 485.1 505.8 485.5 506.0 485.9 505.8 486.2 506.0 486.6 505.8 487.0 506.1 487.4 505.8" fill="none" stroke="#e46a70" stroke-width="0.7" stroke-linejoin="round"/>
<path d="M55.2 495.7 55.8 495.6 56.6 495.8 56.9 495.6 57.5 495.7 57.8 495.8 58.4 495.6 58.7 495.8 58.9 495.6 59.5 495.9 59.8 495.8 60.1 495.6 60.4 495.8 60.7 495.6 61.0 495.8 61.2 495.6 61.5 495.8 61.8 495.6 62.1 495.9 62.7 495.9 63.0 495.7 63.3 495.9 63.5 495.6 63.8 495.6 64.1 495.8 65.0 495.6 65.3 495.9 65.6 495.6 66.1 495.8 66.7 495.7 67.3 495.9 67.6 495.6 68.1 495.7 68.4 495.6 68.7 495.8 69.0 495.7 69.3 495.8 69.6 495.6 69.9 495.9 70.4 495.7 70.7 495.9 71.0 495.8 71.3 495.9 71.9 495.7 72.2 495.9 73.3 495.8 74.2 495.9 74.5 495.8 75.3 495.9 75.6 495.7 76.2 495.9 76.8 495.7 77.1 495.7 77.4 496.0 77.6 495.7 77.9 496.0 78.2 495.9 78.5 496.0 78.8 495.9 79.1 496.0 79.4 495.8 79.7 495.8 79.9 496.0 80.2 495.9 80.5 495.7 80.8 496.0 81.1 495.8 82.0 495.9 82.2 495.8 82.8 495.9 83.1 495.7 83.4 495.9 83.7 495.8 84.3 495.7 84.5 495.9 85.1 495.9 85.4 495.7 85.7 495.9 86.0 495.7 86.3 496.0 87.1 496.1 87.7 495.8 88.0 496.0 88.9 495.9 89.4 496.1 90.0 495.8 90.3 496.0 90.6 495.9 90.9 496.0 91.5 495.9 91.7 496.0 92.0 495.8 92.3 495.8 92.6 496.1 92.9 495.9 93.2 496.0 93.5 495.8 94.0 495.8 94.3 496.0 94.6 495.8 94.9 496.1 95.5 496.1 95.8 495.9 96.6 495.9 97.2 495.8 97.5 496.0 97.8 495.8 98.4 495.9 98.6 496.1 98.9 495.9 99.5 496.1 99.8 495.9 100.1 496.1 100.4 496.1 100.7 495.8 100.9 496.0 101.5 495.9 101.8 496.1 102.7 496.0 103.0 496.1 103.5 496.2 103.8 495.9 104.4 496.2 104.7 496.1 105.0 495.9 105.8 496.2 106.1 495.9 106.4 495.9 106.7 496.1 107.0 495.9 107.3 495.9 107.6 496.2 108.1 495.9 108.4 496.1 109.0 495.8 109.9 496.1 110.4 495.9 110.7 496.1 111.3 495.9 111.6 496.0 111.9 496.0 112.5 496.2 112.7 495.9 113.0 495.9 113.6 496.1 114.2 495.9 114.8 496.1 115.0 496.0 115.3 496.1 115.6 496.1 115.9 495.9 116.2 496.2 116.5 495.9 116.8 496.1 117.1 496.0 117.3 496.1 117.9 495.9 118.2 496.1 118.5 496.0 118.8 496.2 119.1 495.9 119.4 496.1 119.9 495.8 120.5 495.8 120.8 496.1 121.1 495.9 121.9 495.6 122.5 496.1 123.1 495.9 123.4 495.7 123.7 495.3 124.0 495.2 124.2 495.7 124.8 495.8 125.4 495.6 125.7 494.7 126.0 494.9 126.3 495.7 126.5 495.5 126.8 495.7 127.1 495.5 127.4 494.9 127.7 493.8 128.0 494.8 128.3 495.5 128.6 495.7 129.1 495.1 129.4 493.9 129.7 493.3 130.0 494.8 130.6 495.4 130.9 495.3 131.2 494.6 131.4 492.8 131.7 493.4 132.0 494.9 132.3 495.4 132.6 495.4 132.9 495.0 133.2 494.0 133.5 492.1 133.7 493.8 134.0 494.9 134.3 495.1 134.6 495.2 134.9 494.9 135.2 493.2 135.5 492.7 135.8 494.5 136.0 495.0 136.3 495.2 136.6 495.2 136.9 494.6 137.2 493.0 137.5 493.6 137.8 494.7 138.1 495.1 138.6 495.2 138.9 494.3 139.2 493.3 139.5 494.4 139.8 495.1 140.1 495.4 140.4 495.5 140.6 495.3 140.9 494.3 141.2 494.0 141.5 494.9 141.8 495.4 142.4 495.3 142.7 495.0 142.9 494.3 143.2 494.6 143.5 495.1 143.8 495.4 144.1 495.2 144.4 495.2 144.7 495.0 145.3 494.9 145.5 495.0 146.7 493.5 147.0 492.2 147.3 490.2 147.6 486.0 147.8 477.7 148.1 475.3 148.4 483.7 148.7 489.4 149.0 491.8 149.3 493.1 149.6 493.9 149.9 494.1 150.1 494.5 150.4 494.2 150.7 494.1 151.0 494.7 151.3 495.0 151.6 495.2 151.9 495.2 152.2 494.9 152.4 494.6 152.7 494.1 153.0 494.8 153.6 495.5 154.2 495.0 154.5 493.9 154.7 494.3 155.0 495.2 155.3 495.3 155.6 495.5 155.9 495.1 156.2 494.3 156.5 493.0 156.8 494.2 157.0 495.2 157.6 495.4 157.9 494.8 158.2 493.7 158.5 492.9 158.8 494.4 159.1 495.2 159.3 495.5 159.6 495.2 159.9 494.6 160.2 492.7 160.5 493.3 160.8 494.8 161.1 495.2 161.4 495.5 161.6 495.1 161.9 494.0 162.2 492.3 162.5 494.1 162.8 495.1 163.1 495.6 163.7 494.9 164.0 493.7 164.2 493.1 164.5 494.9 164.8 495.3 165.1 495.6 165.4 495.6 165.7 495.0 166.0 493.6 166.3 494.1 166.5 495.4 166.8 495.8 167.1 495.6 167.4 495.7 167.7 495.2 168.0 494.1 168.3 495.0 168.6 495.7 168.8 495.8 169.1 496.1 169.4 495.9 169.7 495.3 170.0 495.0 170.3 495.9 170.6 495.8 171.1 496.2 171.4 496.1 171.7 496.3 172.3 496.1 173.2 496.3 173.4 496.1 174.0 496.2 174.3 496.1 174.6 496.3 174.9 496.3 175.2 496.1 176.9 496.2 177.2 495.9 177.8 496.0 178.3 495.8 178.9 495.9 180.9 495.2 181.2 495.3 181.5 495.0 181.8 495.2 182.1 494.9 182.4 495.0 182.7 494.9 183.2 495.1 183.5 494.9 183.8 495.1 184.1 495.0 184.4 495.4 184.7 495.2 185.0 495.5 185.2 495.5 185.5 495.7 185.8 495.6 186.4 495.9 187.3 495.9 187.5 496.1 187.8 496.2 188.1 496.0 188.4 496.3 189.3 496.2 189.6 496.4 189.8 496.2 190.1 496.1 190.4 496.2 190.7 496.5 191.0 496.2 192.1 496.5 192.4 496.3 193.0 496.4 193.6 496.3 194.2 496.6 194.7 496.4 195.0 496.4 195.3 496.6 195.6 496.4 195.9 496.6 196.5 496.5 196.7 496.5 197.0 496.6 197.3 496.4 197.9 496.4 198.2 496.7 198.5 496.4 198.8 496.6 199.1 496.6 199.3 496.5 200.2 496.6 200.5 496.4 200.8 496.7 201.4 496.5 201.9 496.7 202.2 496.5 202.8 496.7 203.1 496.5 203.4 496.8 203.7 496.4 203.9 496.7 204.2 496.4 204.5 496.6 204.8 496.5 205.1 496.6 205.4 496.6 205.7 496.7 206.0 496.6 206.2 496.4 206.8 496.6 207.1 496.5 207.4 496.8 208.0 496.6 209.4 496.5 210.0 496.8 210.6 496.6 210.8 496.8 211.1 496.5 211.7 496.8 212.6 496.5 212.9 496.7 213.4 496.5 213.7 496.5 214.0 496.8 214.6 496.7 214.9 496.6 215.2 496.6 215.4 496.8 215.7 496.7 216.0 496.5 216.6 496.8 216.9 496.6 217.2 496.7 217.5 496.5 218.3 496.6 218.6 496.8 219.2 496.9 219.5 496.6 219.8 496.8 220.3 496.6 220.6 496.8 221.2 496.6 221.5 496.7 221.8 496.6 222.1 496.7 222.4 496.6 223.2 496.6 223.5 496.9 224.1 496.6 224.4 496.6 225.2 496.9 225.5 496.7 226.1 496.7 226.4 496.8 227.0 496.9 227.2 496.6 227.5 496.9 228.4 496.6 228.7 496.9 229.0 496.6 230.1 496.9 230.4 496.7 230.7 496.7 231.0 496.6 231.6 496.6 231.8 496.8 232.1 496.8 232.4 497.0 232.7 496.7 233.3 496.7 233.6 496.7 233.9 497.0 234.1 497.0 234.4 496.7 234.7 496.7 235.0 496.9 235.3 496.6 235.9 496.7 236.2 496.7 237.0 497.0 237.3 496.9 237.6 497.0 238.2 496.8 238.5 496.7 238.8 496.9 239.0 497.0 239.3 496.7 239.6 497.0 239.9 497.0 240.2 496.8 240.5 496.9 240.8 496.8 241.1 497.0 241.3 496.8 241.6 496.9 241.9 496.7 242.2 497.0 242.5 496.7 242.8 496.7 243.1 496.9 243.4 496.8 243.6 497.0 244.2 496.9 244.5 497.0 244.8 496.8 245.7 496.8 245.9 497.0 246.8 496.9" fill="none" stroke="#b9272d" stroke-width="0.7" stroke-linejoin="round"/>
<path d="M256.3 495.3 256.7 495.4 257.1 495.3 257.8 495.6 258.2 495.6 258.6 495.2 259.0 495.4 259.4 495.3 259.7 495.5 260.1 495.3 260.5 495.4 260.9 495.2 261.7 495.5 262.1 495.3 262.8 495.5 263.6 495.2 264.0 495.4 264.4 495.2 264.8 495.5 265.1 495.2 265.9 495.2 266.3 495.2 267.1 495.5 268.2 495.4 268.6 495.2 269.0 495.4 269.8 495.1 270.5 495.4 270.9 495.4 271.3 495.2 271.7 495.2 272.5 495.4 273.2 495.4 274.0 495.2 274.4 495.5 275.5 495.4 275.9 495.2 276.7 495.4 277.5 495.1 277.9 495.3 278.2 495.2 278.6 495.2 279.0 495.4 279.4 495.2 279.8 495.4 280.2 495.4 280.5 495.1 280.9 495.2 282.1 495.1 282.5 495.4 282.9 495.1 283.2 495.2 284.0 495.1 284.4 495.4 285.2 495.2 285.9 495.1 286.3 495.3 286.7 495.1 287.5 495.0 288.3 495.3 288.6 495.3 289.0 495.4 289.4 495.3 289.8 495.1 290.6 495.3 291.3 495.1 291.7 495.0 292.1 495.2 293.3 495.1 294.0 495.4 294.8 495.3 295.2 495.0 295.6 495.3 296.0 495.0 296.3 495.0 296.7 495.3 297.1 495.4 298.3 495.3 298.7 495.1 300.6 495.4 301.0 495.0 301.3 495.3 302.9 495.2 303.3 495.3 303.7 495.3 304.0 495.1 305.6 495.0 306.4 495.2 306.7 495.0 307.5 495.0 307.9 494.9 308.3 495.2 309.4 495.0 309.8 495.3 310.2 495.0 310.6 495.1 311.4 495.0 311.7 495.0 312.1 495.3 312.5 495.2 313.3 494.9 313.7 495.1 314.1 494.9 314.4 495.1 314.8 494.9 315.2 495.2 315.6 495.3 316.0 494.9 316.8 495.0 317.1 494.9 317.9 495.2 318.3 494.8 318.7 495.2 319.5 494.9 320.2 495.0 320.6 494.9 321.0 495.0 321.4 494.9 321.8 495.2 322.1 495.1 322.5 494.9 322.9 494.9 323.3 495.2 323.7 495.0 324.1 494.9 324.5 495.1 325.2 495.0 325.6 494.8 326.0 495.0 326.8 495.1 327.2 494.8 327.9 495.1 328.7 494.9 329.1 494.9 329.5 495.1 329.9 495.0 330.2 495.1 330.6 494.8 331.4 495.1 331.8 495.1 332.2 494.9 332.5 495.0 332.9 494.8 333.3 494.7 334.1 495.0 334.5 494.7 334.9 494.7 335.6 494.9 336.0 494.7 336.4 494.7 336.8 495.0 337.2 495.0 337.6 494.7 337.9 494.9 339.9 494.8 340.3 494.6 340.6 494.8 341.4 494.6 341.8 495.0 342.2 494.6 342.6 494.8 343.7 494.7 344.5 494.8 344.9 494.7 345.3 494.5 345.6 494.8 346.4 494.7 346.8 494.5 347.6 494.6 349.1 494.4 349.5 494.6 349.9 494.6 350.3 494.4 351.0 494.6 351.4 494.5 351.8 494.6 352.2 494.3 352.6 494.4 353.0 494.3 353.4 494.3 353.7 494.5 354.1 494.2 354.5 494.3 354.9 494.1 355.3 494.4 356.0 494.1 356.4 494.1 356.8 494.3 358.7 493.7 359.1 493.8 359.5 493.4 359.9 493.5 360.3 493.3 360.7 493.4 361.1 493.1 361.4 493.2 361.8 492.8 362.6 492.9 363.0 492.7 363.4 492.8 363.8 492.6 364.5 492.6 364.9 492.5 365.3 492.5 365.7 492.3 366.1 492.2 366.4 492.0 366.8 492.1 367.2 491.7 367.6 491.7 368.0 491.3 368.8 491.2 369.1 490.8 369.5 490.3 369.9 490.2 370.7 489.6 371.1 488.9 371.8 488.3 372.2 487.8 372.6 487.7 373.0 487.3 373.8 486.8 374.2 486.4 374.5 486.6 374.9 486.7 375.3 486.6 376.5 487.4 376.8 487.4 377.2 487.9 378.0 488.5 379.2 489.9 379.5 490.3 379.9 490.4 380.3 490.8 380.7 491.1 381.1 491.1 382.6 492.0 383.4 492.3 383.8 492.6 384.6 492.7 384.9 492.8 385.3 492.8 386.1 493.2 386.5 493.2 386.9 493.5 387.2 493.2 387.6 493.5 388.0 493.4 388.8 493.7 389.9 493.7 390.3 493.9 391.1 493.9 391.5 494.0 391.9 493.9 392.3 494.0 392.6 494.0 393.0 493.7 393.4 493.9 393.8 493.8 394.2 493.9 395.0 493.8 395.3 494.1 396.1 494.1 396.5 493.9 396.9 494.1 397.3 493.8 398.0 494.1 398.4 493.8 399.2 494.1 399.6 493.9 400.0 494.0 400.3 493.8 400.7 494.1 401.1 494.0 401.5 494.1 401.9 494.0 402.7 494.0 403.8 493.6 404.2 493.8 405.0 493.9 405.4 493.8 405.7 493.6 406.1 493.8 406.5 493.5 406.9 493.6 407.3 493.3 407.7 493.4 408.8 493.3 409.6 493.0 410.0 493.0 410.4 492.7 410.7 492.7 411.1 492.4 411.9 492.1 412.3 492.1 412.7 491.8 413.1 491.6 413.4 491.1 413.8 491.2 414.2 490.7 414.6 490.6 415.0 490.3 415.4 489.8 415.8 489.8 416.1 489.2 416.5 488.9 416.9 489.0 417.7 488.6 418.1 488.5 419.6 489.0 420.0 489.3 420.4 489.5 421.1 490.3 423.1 491.7 423.5 491.8 423.8 492.1 424.2 492.2 424.6 492.1 425.0 492.3 425.8 492.7 426.2 492.8 426.9 492.5 427.3 492.7 427.7 492.3 428.1 491.4 428.8 486.6 429.2 489.4 429.6 491.7 430.0 492.5 430.4 493.2 431.2 493.7 431.5 493.4 431.9 493.8 432.3 494.0 432.7 493.7 433.1 494.0 433.5 494.0 433.9 493.8 435.4 494.2 435.8 493.9 436.9 494.3 437.3 494.1 438.1 494.3 438.9 494.0 439.6 494.4 440.0 494.1 440.4 494.4 440.8 494.2 441.2 494.4 441.6 494.1 441.9 494.4 442.3 494.3 442.7 494.3 443.1 494.2 443.5 494.5 443.9 494.5 444.3 494.2 444.6 494.4 445.0 494.5 445.4 494.4 446.6 494.5 447.0 494.2 447.3 494.4 447.7 494.4 448.1 494.2 448.9 494.4 449.3 494.3 449.7 494.6 450.0 494.2 450.4 494.3 450.8 494.4 452.0 494.2 452.3 494.3 452.7 494.5 453.5 494.5 453.9 494.4 454.3 494.5 454.7 494.3 455.4 494.5 455.8 494.3 456.2 494.5 456.6 494.2 457.4 494.3 457.7 494.6 458.1 494.4 458.5 494.5 458.9 494.3 459.3 494.5 459.7 494.3 460.1 494.4 460.8 494.3 461.2 494.4 461.6 494.3 462.0 494.4 462.4 494.3 462.7 494.4 463.1 494.6 463.5 494.3 463.9 494.2 464.3 494.5 464.7 494.4 465.4 494.5 466.6 494.2 467.0 494.5 467.4 494.5 467.8 494.2 468.5 494.5 469.7 494.5 470.1 494.2 470.5 494.5 471.6 494.2 472.4 494.2 473.5 494.1 473.9 494.5 474.3 494.4 475.1 494.1 475.8 494.3 476.2 494.1 476.6 494.2 477.0 493.9 477.4 493.9 477.8 494.0 478.2 494.0 478.5 493.6 478.9 493.7 479.3 493.4 479.7 493.7 480.1 493.5 480.9 493.9 481.2 493.6 482.8 494.0 483.2 494.2 483.5 494.1 483.9 494.3 484.3 494.1 485.1 494.2 485.5 494.1 485.9 494.1 486.2 494.4 486.6 494.2 487.4 494.4" fill="none" stroke="#b9272d" stroke-width="0.7" stroke-linejoin="round"/>
<line x1="251.3" y1="560.3" x2="251.3" y2="489" stroke="#000" stroke-width="1.0" />
<path d="M251.3 484.6 L248.6 490.4 L254 490.4 Z" fill="#000" stroke="none" stroke-width="0.8" />
<text x="256.7" y="491.2" font-size="9.4" text-anchor="start" fill="#000" ><tspan dy="0" font-size="9.4">24 min</tspan></text>
<text x="148.8" y="448" font-size="9.4" text-anchor="middle" fill="#41aef0" ><tspan dy="0" font-size="9.4">3016</tspan></text>
<line x1="148.4" y1="449.5" x2="148.4" y2="473" stroke="#41aef0" stroke-width="0.8" stroke-dasharray="2.5 2" />
<text x="374.8" y="434.9" font-size="9.4" text-anchor="middle" fill="#f0666c" ><tspan dy="0" font-size="9.4">1585</tspan></text>
<line x1="374.8" y1="437" x2="374.8" y2="485" stroke="#f0666c" stroke-width="0.8" stroke-dasharray="2.5 2" />
<text x="361.2" y="464.9" font-size="9.4" text-anchor="middle" fill="#000" ><tspan dy="0" font-size="9.4">1649</tspan></text>
<line x1="361.5" y1="467" x2="361.5" y2="491.7" stroke="#777" stroke-width="0.8" stroke-dasharray="2.5 2" />
<text x="386.8" y="478.5" font-size="9.4" text-anchor="middle" fill="#000" ><tspan dy="0" font-size="9.4">1508</tspan></text>
<line x1="389.3" y1="486.3" x2="389.3" y2="491.7" stroke="#777" stroke-width="0.8" stroke-dasharray="2.5 2" />
<text x="399.2" y="485.9" font-size="9.4" text-anchor="middle" fill="#000" ><tspan dy="0" font-size="9.4">1431</tspan></text>
<line x1="402.9" y1="487.5" x2="402.9" y2="492.5" stroke="#777" stroke-width="0.8" stroke-dasharray="2.5 2" />
<text x="403.1" y="456.8" font-size="9.4" text-anchor="middle" fill="#f0666c" ><tspan dy="0" font-size="9.4">1393</tspan></text>
<line x1="410.8" y1="459" x2="410.8" y2="490" stroke="#f0666c" stroke-width="0.8" stroke-dasharray="2.5 2" />
<text x="417.4" y="446.4" font-size="9.4" text-anchor="middle" fill="#f0666c" ><tspan dy="0" font-size="9.4">1374</tspan></text>
<line x1="414.7" y1="448.5" x2="414.7" y2="488.8" stroke="#f0666c" stroke-width="0.8" stroke-dasharray="2.5 2" />
<text x="421.4" y="434.1" font-size="9.4" text-anchor="middle" fill="#f0666c" ><tspan dy="0" font-size="9.4">1355</tspan></text>
<line x1="418.4" y1="436.5" x2="418.4" y2="486.3" stroke="#f0666c" stroke-width="0.8" stroke-dasharray="2.5 2" />
<text x="433.4" y="466.4" font-size="9.4" text-anchor="middle" fill="#41aef0" ><tspan dy="0" font-size="9.4">1304</tspan></text>
<line x1="428" y1="467.8" x2="428" y2="482.6" stroke="#41aef0" stroke-width="0.8" stroke-dasharray="2.5 2" />
<text x="476.3" y="468.9" font-size="9.4" text-anchor="middle" fill="#f0913a" ><tspan dy="0" font-size="9.4">1040</tspan></text>
<line x1="478.6" y1="470.3" x2="478.6" y2="493.2" stroke="#f0913a" stroke-width="0.8" stroke-dasharray="2.5 2" />
<text x="541" y="415.5" font-size="15" text-anchor="start" fill="#000" ><tspan dy="0" font-size="15">g</tspan></text>
<rect x="647.6" y="538.43" width="11.8" height="27.77" fill="#fb7d83" stroke="none" stroke-width="0.6" />
<rect x="647.6" y="561.83" width="11.8" height="4.37" fill="#80cff6" stroke="none" stroke-width="0.6" />
<rect x="647.6" y="538.43" width="11.8" height="27.77" fill="none" stroke="#6a6a6a" stroke-width="0.5" />
<line x1="647.6" y1="561.83" x2="659.4" y2="561.83" stroke="#6a6a6a" stroke-width="0.4" />
<text x="653.5" y="536.23" font-size="9.8" text-anchor="middle" fill="#000" ><tspan dy="0" font-size="9.8">32.4</tspan></text>
<line x1="653.5" y1="566.2" x2="653.5" y2="569.2" stroke="#000" stroke-width="0.6" />
<text x="653.5" y="580.2" font-size="10.5" text-anchor="middle" fill="#000" ><tspan dy="0" font-size="10.5">1</tspan></text>
<rect x="676.5" y="439.62" width="11.8" height="126.58" fill="#fb7d83" stroke="none" stroke-width="0.6" />
<rect x="676.5" y="532.69" width="11.8" height="33.51" fill="#80cff6" stroke="none" stroke-width="0.6" />
<rect x="676.5" y="439.62" width="11.8" height="126.58" fill="none" stroke="#6a6a6a" stroke-width="0.5" />
<line x1="676.5" y1="532.69" x2="688.3" y2="532.69" stroke="#6a6a6a" stroke-width="0.4" />
<text x="682.4" y="437.42" font-size="9.8" text-anchor="middle" fill="#000" ><tspan dy="0" font-size="9.8">147.7</tspan></text>
<line x1="682.4" y1="566.2" x2="682.4" y2="569.2" stroke="#000" stroke-width="0.6" />
<text x="682.4" y="580.2" font-size="10.5" text-anchor="middle" fill="#000" ><tspan dy="0" font-size="10.5">2</tspan></text>
<rect x="705.4" y="542.8" width="11.8" height="23.4" fill="#fb7d83" stroke="none" stroke-width="0.6" />
<rect x="705.4" y="564.49" width="11.8" height="1.71" fill="#80cff6" stroke="none" stroke-width="0.6" />
<rect x="705.4" y="542.8" width="11.8" height="23.4" fill="none" stroke="#6a6a6a" stroke-width="0.5" />
<line x1="705.4" y1="564.49" x2="717.2" y2="564.49" stroke="#6a6a6a" stroke-width="0.4" />
<text x="711.3" y="540.6" font-size="9.8" text-anchor="middle" fill="#000" ><tspan dy="0" font-size="9.8">27.3</tspan></text>
<line x1="711.3" y1="566.2" x2="711.3" y2="569.2" stroke="#000" stroke-width="0.6" />
<text x="711.3" y="580.2" font-size="10.5" text-anchor="middle" fill="#000" ><tspan dy="0" font-size="10.5">3</tspan></text>
<rect x="734.3" y="493.7" width="11.8" height="72.5" fill="#fb7d83" stroke="none" stroke-width="0.6" />
<rect x="734.3" y="565.17" width="11.8" height="1.03" fill="#80cff6" stroke="none" stroke-width="0.6" />
<rect x="734.3" y="493.7" width="11.8" height="72.5" fill="none" stroke="#6a6a6a" stroke-width="0.5" />
<line x1="734.3" y1="565.17" x2="746.1" y2="565.17" stroke="#6a6a6a" stroke-width="0.4" />
<text x="740.2" y="491.5" font-size="9.8" text-anchor="middle" fill="#000" ><tspan dy="0" font-size="9.8">84.6</tspan></text>
<line x1="740.2" y1="566.2" x2="740.2" y2="569.2" stroke="#000" stroke-width="0.6" />
<text x="740.2" y="580.2" font-size="10.5" text-anchor="middle" fill="#000" ><tspan dy="0" font-size="10.5">4</tspan></text>
<rect x="589.2" y="420.5" width="178.1" height="145.7" fill="none" stroke="#444" stroke-width="0.8" />
<line x1="586.2" y1="566.2" x2="589.2" y2="566.2" stroke="#000" stroke-width="0.7" />
<text x="584.7" y="569.9" font-size="10.5" text-anchor="end" fill="#000" ><tspan dy="0" font-size="10.5">0</tspan></text>
<line x1="586.2" y1="523.35" x2="589.2" y2="523.35" stroke="#000" stroke-width="0.7" />
<text x="584.7" y="527.05" font-size="10.5" text-anchor="end" fill="#000" ><tspan dy="0" font-size="10.5">50</tspan></text>
<line x1="586.2" y1="480.5" x2="589.2" y2="480.5" stroke="#000" stroke-width="0.7" />
<text x="584.7" y="484.2" font-size="10.5" text-anchor="end" fill="#000" ><tspan dy="0" font-size="10.5">100</tspan></text>
<line x1="586.2" y1="437.65" x2="589.2" y2="437.65" stroke="#000" stroke-width="0.7" />
<text x="584.7" y="441.35" font-size="10.5" text-anchor="end" fill="#000" ><tspan dy="0" font-size="10.5">150</tspan></text>
<line x1="587.5" y1="544.78" x2="589.2" y2="544.78" stroke="#000" stroke-width="0.6" />
<line x1="587.5" y1="501.93" x2="589.2" y2="501.93" stroke="#000" stroke-width="0.6" />
<line x1="587.5" y1="459.08" x2="589.2" y2="459.08" stroke="#000" stroke-width="0.6" />
<text x="555.7" y="503.7" font-size="10.7" text-anchor="middle" fill="#000" transform="rotate(-90 555.7 503.7)" ><tspan dy="0" font-size="10.7">CO</tspan><tspan dy="3" font-size="6.21">2</tspan><tspan dy="-3" font-size="10.7"> conversion rate (mmol g</tspan><tspan dy="3" font-size="6.21">metal</tspan><tspan dy="-7.49" font-size="6.21">-1</tspan><tspan dy="4.49" font-size="10.7"> h</tspan><tspan dy="-4.49" font-size="6.21">-1</tspan><tspan dy="4.49" font-size="10.7">)</tspan></text>
<text x="593.6" y="434.1" font-size="9.4" text-anchor="start" fill="#000" ><tspan dy="0" font-size="9.4">1. Ni (Porous)</tspan></text>
<text x="593.6" y="447.43" font-size="9.4" text-anchor="start" fill="#000" ><tspan dy="0" font-size="9.4">2. Ni (Flat)</tspan></text>
<text x="593.6" y="460.76" font-size="9.4" text-anchor="start" fill="#000" ><tspan dy="0" font-size="9.4">3. Pd (Porous)</tspan></text>
<text x="593.6" y="474.09" font-size="9.4" text-anchor="start" fill="#000" ><tspan dy="0" font-size="9.4">4. Pd (Flat)</tspan></text>
<rect x="723.4" y="423.7" width="15.8" height="8.4" fill="#fb7d83" stroke="#8c8c8c" stroke-width="0.5" />
<text x="742.6" y="431.4" font-size="9.7" text-anchor="start" fill="#000" ><tspan dy="0" font-size="9.7">CO</tspan></text>
<rect x="723.4" y="434.8" width="15.8" height="8.4" fill="#80cff6" stroke="#8c8c8c" stroke-width="0.5" />
<text x="742.6" y="442.6" font-size="9.7" text-anchor="start" fill="#000" ><tspan dy="0" font-size="9.7">CH</tspan><tspan dy="2.72" font-size="5.63">4</tspan></text>
<line x1="653.3" y1="516.4" x2="671" y2="451.8" stroke="#f6a447" stroke-width="0.8" />
<path d="M671 451.8 L671.56 456.77 L667.98 455.79 Z" fill="#f28a1c" stroke="none" stroke-width="0.8" />
<line x1="718.8" y1="531" x2="728.3" y2="495.6" stroke="#f6a447" stroke-width="0.8" />
<path d="M728.3 495.6 L728.89 500.57 L725.31 499.6 Z" fill="#f28a1c" stroke="none" stroke-width="0.8" />
<defs><radialGradient id="sg" cx="0.36" cy="0.34" r="0.7"><stop offset="0" stop-color="#ffffff"/><stop offset="0.14" stop-color="#f8c6c6"/><stop offset="0.42" stop-color="#e88084"/><stop offset="1" stop-color="#c4565a"/></radialGradient>
</defs>
<text x="2.5" y="607.2" font-size="14" text-anchor="start" fill="#000" ><tspan dy="0" font-size="14">h</tspan></text>
<line x1="55.5" y1="627.8" x2="55.5" y2="776.3" stroke="#8c8c8c" stroke-width="1.7" />
<line x1="52" y1="628.64" x2="55.5" y2="628.64" stroke="#8c8c8c" stroke-width="1.0" />
<text x="47.7" y="632.34" font-size="10.5" text-anchor="end" fill="#000" ><tspan dy="0" font-size="10.5">3.0</tspan></text>
<line x1="52" y1="658.07" x2="55.5" y2="658.07" stroke="#8c8c8c" stroke-width="1.0" />
<text x="47.7" y="661.77" font-size="10.5" text-anchor="end" fill="#000" ><tspan dy="0" font-size="10.5">1.5</tspan></text>
<line x1="52" y1="687.5" x2="55.5" y2="687.5" stroke="#8c8c8c" stroke-width="1.0" />
<text x="47.7" y="691.2" font-size="10.5" text-anchor="end" fill="#000" ><tspan dy="0" font-size="10.5">0.0</tspan></text>
<line x1="52" y1="716.93" x2="55.5" y2="716.93" stroke="#8c8c8c" stroke-width="1.0" />
<text x="47.7" y="720.63" font-size="10.5" text-anchor="end" fill="#000" ><tspan dy="0" font-size="10.5">−1.5</tspan></text>
<line x1="52" y1="746.36" x2="55.5" y2="746.36" stroke="#8c8c8c" stroke-width="1.0" />
<text x="47.7" y="750.06" font-size="10.5" text-anchor="end" fill="#000" ><tspan dy="0" font-size="10.5">−3.0</tspan></text>
<line x1="52" y1="775.79" x2="55.5" y2="775.79" stroke="#8c8c8c" stroke-width="1.0" />
<text x="47.7" y="779.49" font-size="10.5" text-anchor="end" fill="#000" ><tspan dy="0" font-size="10.5">−4.5</tspan></text>
<text x="17.8" y="689.5" font-size="10.8" text-anchor="middle" fill="#000" transform="rotate(-90 17.8 689.5)" ><tspan dy="0" font-size="10.8">Relative energies (eV)</tspan></text>
<text x="416.8" y="806.8" font-size="10.75" text-anchor="middle" fill="#000" ><tspan dy="0" font-size="10.75">Reaction coordinate</tspan></text>
<line x1="91.3" y1="687.5" x2="148" y2="679.5" stroke="#f49096" stroke-width="0.9" stroke-dasharray="3.2 2.4" />
<line x1="176.3" y1="679.5" x2="233.8" y2="700" stroke="#f49096" stroke-width="0.9" stroke-dasharray="3.2 2.4" />
<line x1="263.8" y1="700" x2="319.3" y2="710.8" stroke="#f49096" stroke-width="0.9" stroke-dasharray="3.2 2.4" />
<line x1="263.8" y1="700" x2="319.3" y2="718.8" stroke="#39a9f2" stroke-width="0.9" stroke-dasharray="3.2 2.4" />
<line x1="347.5" y1="710.8" x2="404.3" y2="718" stroke="#f49096" stroke-width="0.9" stroke-dasharray="3.2 2.4" />
<line x1="347.5" y1="718.8" x2="404.3" y2="713.3" stroke="#39a9f2" stroke-width="0.9" stroke-dasharray="3.2 2.4" />
<line x1="433.8" y1="718" x2="490.8" y2="664.8" stroke="#f49096" stroke-width="0.9" stroke-dasharray="3.2 2.4" />
<line x1="433.8" y1="713.3" x2="490.8" y2="736.3" stroke="#39a9f2" stroke-width="0.9" stroke-dasharray="3.2 2.4" />
<line x1="518" y1="736.3" x2="575.9" y2="741.7" stroke="#39a9f2" stroke-width="0.9" stroke-dasharray="3.2 2.4" />
<line x1="604.4" y1="741.7" x2="661.4" y2="755.9" stroke="#39a9f2" stroke-width="0.9" stroke-dasharray="3.2 2.4" />
<line x1="689.9" y1="755.9" x2="747.5" y2="730.6" stroke="#39a9f2" stroke-width="0.9" stroke-dasharray="3.2 2.4" />
<line x1="63" y1="687.5" x2="91.3" y2="687.5" stroke="#f49096" stroke-width="0.9" />
<line x1="148" y1="679.5" x2="176.3" y2="679.5" stroke="#f49096" stroke-width="0.9" />
<line x1="233.8" y1="700" x2="263.8" y2="700" stroke="#f49096" stroke-width="0.9" />
<line x1="319.3" y1="710.8" x2="347.5" y2="710.8" stroke="#f49096" stroke-width="0.9" />
<line x1="319.3" y1="718.8" x2="347.5" y2="718.8" stroke="#39a9f2" stroke-width="1.4" />
<line x1="404.3" y1="713.3" x2="433.8" y2="713.3" stroke="#39a9f2" stroke-width="1.4" />
<line x1="404.3" y1="718" x2="433.8" y2="718" stroke="#f49096" stroke-width="0.9" />
<line x1="490.8" y1="664.8" x2="518" y2="664.8" stroke="#f49096" stroke-width="0.9" />
<line x1="490.8" y1="736.3" x2="518" y2="736.3" stroke="#39a9f2" stroke-width="1.4" />
<line x1="575.9" y1="741.7" x2="604.4" y2="741.7" stroke="#39a9f2" stroke-width="1.4" />
<line x1="661.4" y1="755.9" x2="689.9" y2="755.9" stroke="#39a9f2" stroke-width="1.4" />
<line x1="747.5" y1="730.6" x2="775.1" y2="730.6" stroke="#39a9f2" stroke-width="1.4" />
<g transform="translate(76.8 702.7)" fill="url(#sg)" stroke="#b85055" stroke-width="0.3"><circle cx="-4.53" cy="0.65" r="2.75"/><circle cx="0.97" cy="0.75" r="2.75"/><circle cx="6.47" cy="0.85" r="2.75"/><circle cx="11.97" cy="0.95" r="2.75"/><circle cx="-1.78" cy="-3.15" r="2.75"/><circle cx="3.72" cy="-3.05" r="2.75"/><circle cx="9.22" cy="-2.95" r="2.75"/><circle cx="14.72" cy="-2.85" r="2.75"/><circle cx="-4.53" cy="-6.95" r="2.75"/><circle cx="0.97" cy="-6.85" r="2.75"/><circle cx="6.47" cy="-6.75" r="2.75"/><circle cx="11.97" cy="-6.65" r="2.75"/><circle cx="-7.92" cy="2.65" r="2.75"/><circle cx="-2.42" cy="2.75" r="2.75"/><circle cx="3.08" cy="2.85" r="2.75"/><circle cx="8.58" cy="2.95" r="2.75"/><circle cx="-5.17" cy="-1.15" r="2.75"/><circle cx="0.33" cy="-1.05" r="2.75"/><circle cx="5.83" cy="-0.95" r="2.75"/><circle cx="11.33" cy="-0.85" r="2.75"/><circle cx="-7.92" cy="-4.95" r="2.75"/><circle cx="-2.42" cy="-4.85" r="2.75"/><circle cx="3.08" cy="-4.75" r="2.75"/><circle cx="8.58" cy="-4.65" r="2.75"/><circle cx="-11.32" cy="4.65" r="2.75"/><circle cx="-5.82" cy="4.75" r="2.75"/><circle cx="-0.32" cy="4.85" r="2.75"/><circle cx="5.17" cy="4.95" r="2.75"/><circle cx="-8.57" cy="0.85" r="2.75"/><circle cx="-3.07" cy="0.95" r="2.75"/><circle cx="2.42" cy="1.05" r="2.75"/><circle cx="7.92" cy="1.15" r="2.75"/><circle cx="-11.32" cy="-2.95" r="2.75"/><circle cx="-5.82" cy="-2.85" r="2.75"/><circle cx="-0.32" cy="-2.75" r="2.75"/><circle cx="5.17" cy="-2.65" r="2.75"/><circle cx="-14.72" cy="6.65" r="2.75"/><circle cx="-9.22" cy="6.75" r="2.75"/><circle cx="-3.72" cy="6.85" r="2.75"/><circle cx="1.78" cy="6.95" r="2.75"/><circle cx="-11.97" cy="2.85" r="2.75"/><circle cx="-6.47" cy="2.95" r="2.75"/><circle cx="-0.97" cy="3.05" r="2.75"/><circle cx="4.53" cy="3.15" r="2.75"/><circle cx="-14.72" cy="-0.95" r="2.75"/><circle cx="-9.22" cy="-0.85" r="2.75"/><circle cx="-3.72" cy="-0.75" r="2.75"/><circle cx="1.78" cy="-0.65" r="2.75"/></g>
<g transform="translate(162.6 694.4)" fill="url(#sg)" stroke="#b85055" stroke-width="0.3"><circle cx="-4.53" cy="0.65" r="2.75"/><circle cx="0.97" cy="0.75" r="2.75"/><circle cx="6.47" cy="0.85" r="2.75"/><circle cx="11.97" cy="0.95" r="2.75"/><circle cx="-1.78" cy="-3.15" r="2.75"/><circle cx="3.72" cy="-3.05" r="2.75"/><circle cx="9.22" cy="-2.95" r="2.75"/><circle cx="14.72" cy="-2.85" r="2.75"/><circle cx="-4.53" cy="-6.95" r="2.75"/><circle cx="0.97" cy="-6.85" r="2.75"/><circle cx="6.47" cy="-6.75" r="2.75"/><circle cx="11.97" cy="-6.65" r="2.75"/><circle cx="-7.92" cy="2.65" r="2.75"/><circle cx="-2.42" cy="2.75" r="2.75"/><circle cx="3.08" cy="2.85" r="2.75"/><circle cx="8.58" cy="2.95" r="2.75"/><circle cx="-5.17" cy="-1.15" r="2.75"/><circle cx="0.33" cy="-1.05" r="2.75"/><circle cx="5.83" cy="-0.95" r="2.75"/><circle cx="11.33" cy="-0.85" r="2.75"/><circle cx="-7.92" cy="-4.95" r="2.75"/><circle cx="-2.42" cy="-4.85" r="2.75"/><circle cx="3.08" cy="-4.75" r="2.75"/><circle cx="8.58" cy="-4.65" r="2.75"/><circle cx="-11.32" cy="4.65" r="2.75"/><circle cx="-5.82" cy="4.75" r="2.75"/><circle cx="-0.32" cy="4.85" r="2.75"/><circle cx="5.17" cy="4.95" r="2.75"/><circle cx="-8.57" cy="0.85" r="2.75"/><circle cx="-3.07" cy="0.95" r="2.75"/><circle cx="2.42" cy="1.05" r="2.75"/><circle cx="7.92" cy="1.15" r="2.75"/><circle cx="-11.32" cy="-2.95" r="2.75"/><circle cx="-5.82" cy="-2.85" r="2.75"/><circle cx="-0.32" cy="-2.75" r="2.75"/><circle cx="5.17" cy="-2.65" r="2.75"/><circle cx="-14.72" cy="6.65" r="2.75"/><circle cx="-9.22" cy="6.75" r="2.75"/><circle cx="-3.72" cy="6.85" r="2.75"/><circle cx="1.78" cy="6.95" r="2.75"/><circle cx="-11.97" cy="2.85" r="2.75"/><circle cx="-6.47" cy="2.95" r="2.75"/><circle cx="-0.97" cy="3.05" r="2.75"/><circle cx="4.53" cy="3.15" r="2.75"/><circle cx="-14.72" cy="-0.95" r="2.75"/><circle cx="-9.22" cy="-0.85" r="2.75"/><circle cx="-3.72" cy="-0.75" r="2.75"/><circle cx="1.78" cy="-0.65" r="2.75"/></g>
<circle cx="166" cy="686.1" r="1.45" fill="#e0161c" stroke="none" stroke-width="0.6"/>
<circle cx="169.2" cy="684.3" r="1.45" fill="#e0161c" stroke="none" stroke-width="0.6"/>
<circle cx="167.9" cy="685.9" r="1.3" fill="#2b6fe0" stroke="none" stroke-width="0.6"/>
<g transform="translate(248 714)" fill="url(#sg)" stroke="#b85055" stroke-width="0.3"><circle cx="-4.53" cy="0.65" r="2.75"/><circle cx="0.97" cy="0.75" r="2.75"/><circle cx="6.47" cy="0.85" r="2.75"/><circle cx="11.97" cy="0.95" r="2.75"/><circle cx="-1.78" cy="-3.15" r="2.75"/><circle cx="3.72" cy="-3.05" r="2.75"/><circle cx="9.22" cy="-2.95" r="2.75"/><circle cx="14.72" cy="-2.85" r="2.75"/><circle cx="-4.53" cy="-6.95" r="2.75"/><circle cx="0.97" cy="-6.85" r="2.75"/><circle cx="6.47" cy="-6.75" r="2.75"/><circle cx="11.97" cy="-6.65" r="2.75"/><circle cx="-7.92" cy="2.65" r="2.75"/><circle cx="-2.42" cy="2.75" r="2.75"/><circle cx="3.08" cy="2.85" r="2.75"/><circle cx="8.58" cy="2.95" r="2.75"/><circle cx="-5.17" cy="-1.15" r="2.75"/><circle cx="0.33" cy="-1.05" r="2.75"/><circle cx="5.83" cy="-0.95" r="2.75"/><circle cx="11.33" cy="-0.85" r="2.75"/><circle cx="-7.92" cy="-4.95" r="2.75"/><circle cx="-2.42" cy="-4.85" r="2.75"/><circle cx="3.08" cy="-4.75" r="2.75"/><circle cx="8.58" cy="-4.65" r="2.75"/><circle cx="-11.32" cy="4.65" r="2.75"/><circle cx="-5.82" cy="4.75" r="2.75"/><circle cx="-0.32" cy="4.85" r="2.75"/><circle cx="5.17" cy="4.95" r="2.75"/><circle cx="-8.57" cy="0.85" r="2.75"/><circle cx="-3.07" cy="0.95" r="2.75"/><circle cx="2.42" cy="1.05" r="2.75"/><circle cx="7.92" cy="1.15" r="2.75"/><circle cx="-11.32" cy="-2.95" r="2.75"/><circle cx="-5.82" cy="-2.85" r="2.75"/><circle cx="-0.32" cy="-2.75" r="2.75"/><circle cx="5.17" cy="-2.65" r="2.75"/><circle cx="-14.72" cy="6.65" r="2.75"/><circle cx="-9.22" cy="6.75" r="2.75"/><circle cx="-3.72" cy="6.85" r="2.75"/><circle cx="1.78" cy="6.95" r="2.75"/><circle cx="-11.97" cy="2.85" r="2.75"/><circle cx="-6.47" cy="2.95" r="2.75"/><circle cx="-0.97" cy="3.05" r="2.75"/><circle cx="4.53" cy="3.15" r="2.75"/><circle cx="-14.72" cy="-0.95" r="2.75"/><circle cx="-9.22" cy="-0.85" r="2.75"/><circle cx="-3.72" cy="-0.75" r="2.75"/><circle cx="1.78" cy="-0.65" r="2.75"/></g>
<circle cx="251.3" cy="705.5" r="1.45" fill="#e0161c" stroke="none" stroke-width="0.6"/>
<circle cx="254.6" cy="704.2" r="1.45" fill="#e0161c" stroke="none" stroke-width="0.6"/>
<circle cx="253.3" cy="706.1" r="1.3" fill="#2b6fe0" stroke="none" stroke-width="0.6"/>
<g transform="translate(333.2 697.8)" fill="url(#sg)" stroke="#b85055" stroke-width="0.3"><circle cx="-4.53" cy="0.65" r="2.75"/><circle cx="0.97" cy="0.75" r="2.75"/><circle cx="6.47" cy="0.85" r="2.75"/><circle cx="11.97" cy="0.95" r="2.75"/><circle cx="-1.78" cy="-3.15" r="2.75"/><circle cx="3.72" cy="-3.05" r="2.75"/><circle cx="9.22" cy="-2.95" r="2.75"/><circle cx="14.72" cy="-2.85" r="2.75"/><circle cx="-4.53" cy="-6.95" r="2.75"/><circle cx="0.97" cy="-6.85" r="2.75"/><circle cx="6.47" cy="-6.75" r="2.75"/><circle cx="11.97" cy="-6.65" r="2.75"/><circle cx="-7.92" cy="2.65" r="2.75"/><circle cx="-2.42" cy="2.75" r="2.75"/><circle cx="3.08" cy="2.85" r="2.75"/><circle cx="8.58" cy="2.95" r="2.75"/><circle cx="-5.17" cy="-1.15" r="2.75"/><circle cx="0.33" cy="-1.05" r="2.75"/><circle cx="5.83" cy="-0.95" r="2.75"/><circle cx="11.33" cy="-0.85" r="2.75"/><circle cx="-7.92" cy="-4.95" r="2.75"/><circle cx="-2.42" cy="-4.85" r="2.75"/><circle cx="3.08" cy="-4.75" r="2.75"/><circle cx="8.58" cy="-4.65" r="2.75"/><circle cx="-11.32" cy="4.65" r="2.75"/><circle cx="-5.82" cy="4.75" r="2.75"/><circle cx="-0.32" cy="4.85" r="2.75"/><circle cx="5.17" cy="4.95" r="2.75"/><circle cx="-8.57" cy="0.85" r="2.75"/><circle cx="-3.07" cy="0.95" r="2.75"/><circle cx="2.42" cy="1.05" r="2.75"/><circle cx="7.92" cy="1.15" r="2.75"/><circle cx="-11.32" cy="-2.95" r="2.75"/><circle cx="-5.82" cy="-2.85" r="2.75"/><circle cx="-0.32" cy="-2.75" r="2.75"/><circle cx="5.17" cy="-2.65" r="2.75"/><circle cx="-14.72" cy="6.65" r="2.75"/><circle cx="-9.22" cy="6.75" r="2.75"/><circle cx="-3.72" cy="6.85" r="2.75"/><circle cx="1.78" cy="6.95" r="2.75"/><circle cx="-11.97" cy="2.85" r="2.75"/><circle cx="-6.47" cy="2.95" r="2.75"/><circle cx="-0.97" cy="3.05" r="2.75"/><circle cx="4.53" cy="3.15" r="2.75"/><circle cx="-14.72" cy="-0.95" r="2.75"/><circle cx="-9.22" cy="-0.85" r="2.75"/><circle cx="-3.72" cy="-0.75" r="2.75"/><circle cx="1.78" cy="-0.65" r="2.75"/></g>
<circle cx="333.9" cy="690.6" r="1.45" fill="#e0161c" stroke="none" stroke-width="0.6"/>
<circle cx="336.7" cy="687.4" r="1.45" fill="#e0161c" stroke="none" stroke-width="0.6"/>
<circle cx="335.7" cy="689.9" r="1.3" fill="#2b6fe0" stroke="none" stroke-width="0.6"/>
<g transform="translate(333 735.1)" fill="url(#sg)" stroke="#b85055" stroke-width="0.3"><circle cx="-4.53" cy="0.65" r="2.75"/><circle cx="0.97" cy="0.75" r="2.75"/><circle cx="6.47" cy="0.85" r="2.75"/><circle cx="11.97" cy="0.95" r="2.75"/><circle cx="-1.78" cy="-3.15" r="2.75"/><circle cx="3.72" cy="-3.05" r="2.75"/><circle cx="9.22" cy="-2.95" r="2.75"/><circle cx="14.72" cy="-2.85" r="2.75"/><circle cx="-4.53" cy="-6.95" r="2.75"/><circle cx="0.97" cy="-6.85" r="2.75"/><circle cx="6.47" cy="-6.75" r="2.75"/><circle cx="11.97" cy="-6.65" r="2.75"/><circle cx="-7.92" cy="2.65" r="2.75"/><circle cx="-2.42" cy="2.75" r="2.75"/><circle cx="3.08" cy="2.85" r="2.75"/><circle cx="8.58" cy="2.95" r="2.75"/><circle cx="-5.17" cy="-1.15" r="2.75"/><circle cx="0.33" cy="-1.05" r="2.75"/><circle cx="5.83" cy="-0.95" r="2.75"/><circle cx="11.33" cy="-0.85" r="2.75"/><circle cx="-7.92" cy="-4.95" r="2.75"/><circle cx="-2.42" cy="-4.85" r="2.75"/><circle cx="3.08" cy="-4.75" r="2.75"/><circle cx="8.58" cy="-4.65" r="2.75"/><circle cx="-11.32" cy="4.65" r="2.75"/><circle cx="-5.82" cy="4.75" r="2.75"/><circle cx="-0.32" cy="4.85" r="2.75"/><circle cx="5.17" cy="4.95" r="2.75"/><circle cx="-8.57" cy="0.85" r="2.75"/><circle cx="-3.07" cy="0.95" r="2.75"/><circle cx="2.42" cy="1.05" r="2.75"/><circle cx="7.92" cy="1.15" r="2.75"/><circle cx="-11.32" cy="-2.95" r="2.75"/><circle cx="-5.82" cy="-2.85" r="2.75"/><circle cx="-0.32" cy="-2.75" r="2.75"/><circle cx="5.17" cy="-2.65" r="2.75"/><circle cx="-14.72" cy="6.65" r="2.75"/><circle cx="-9.22" cy="6.75" r="2.75"/><circle cx="-3.72" cy="6.85" r="2.75"/><circle cx="1.78" cy="6.95" r="2.75"/><circle cx="-11.97" cy="2.85" r="2.75"/><circle cx="-6.47" cy="2.95" r="2.75"/><circle cx="-0.97" cy="3.05" r="2.75"/><circle cx="4.53" cy="3.15" r="2.75"/><circle cx="-14.72" cy="-0.95" r="2.75"/><circle cx="-9.22" cy="-0.85" r="2.75"/><circle cx="-3.72" cy="-0.75" r="2.75"/><circle cx="1.78" cy="-0.65" r="2.75"/></g>
<circle cx="334.8" cy="725" r="1.3" fill="#2b6fe0" stroke="none" stroke-width="0.6"/>
<circle cx="335.6" cy="726.8" r="1.45" fill="#e0161c" stroke="none" stroke-width="0.6"/>
<g transform="translate(420 698.8)" fill="url(#sg)" stroke="#b85055" stroke-width="0.3"><circle cx="-4.53" cy="0.65" r="2.75"/><circle cx="0.97" cy="0.75" r="2.75"/><circle cx="6.47" cy="0.85" r="2.75"/><circle cx="11.97" cy="0.95" r="2.75"/><circle cx="-1.78" cy="-3.15" r="2.75"/><circle cx="3.72" cy="-3.05" r="2.75"/><circle cx="9.22" cy="-2.95" r="2.75"/><circle cx="14.72" cy="-2.85" r="2.75"/><circle cx="-4.53" cy="-6.95" r="2.75"/><circle cx="0.97" cy="-6.85" r="2.75"/><circle cx="6.47" cy="-6.75" r="2.75"/><circle cx="11.97" cy="-6.65" r="2.75"/><circle cx="-7.92" cy="2.65" r="2.75"/><circle cx="-2.42" cy="2.75" r="2.75"/><circle cx="3.08" cy="2.85" r="2.75"/><circle cx="8.58" cy="2.95" r="2.75"/><circle cx="-5.17" cy="-1.15" r="2.75"/><circle cx="0.33" cy="-1.05" r="2.75"/><circle cx="5.83" cy="-0.95" r="2.75"/><circle cx="11.33" cy="-0.85" r="2.75"/><circle cx="-7.92" cy="-4.95" r="2.75"/><circle cx="-2.42" cy="-4.85" r="2.75"/><circle cx="3.08" cy="-4.75" r="2.75"/><circle cx="8.58" cy="-4.65" r="2.75"/><circle cx="-11.32" cy="4.65" r="2.75"/><circle cx="-5.82" cy="4.75" r="2.75"/><circle cx="-0.32" cy="4.85" r="2.75"/><circle cx="5.17" cy="4.95" r="2.75"/><circle cx="-8.57" cy="0.85" r="2.75"/><circle cx="-3.07" cy="0.95" r="2.75"/><circle cx="2.42" cy="1.05" r="2.75"/><circle cx="7.92" cy="1.15" r="2.75"/><circle cx="-11.32" cy="-2.95" r="2.75"/><circle cx="-5.82" cy="-2.85" r="2.75"/><circle cx="-0.32" cy="-2.75" r="2.75"/><circle cx="5.17" cy="-2.65" r="2.75"/><circle cx="-14.72" cy="6.65" r="2.75"/><circle cx="-9.22" cy="6.75" r="2.75"/><circle cx="-3.72" cy="6.85" r="2.75"/><circle cx="1.78" cy="6.95" r="2.75"/><circle cx="-11.97" cy="2.85" r="2.75"/><circle cx="-6.47" cy="2.95" r="2.75"/><circle cx="-0.97" cy="3.05" r="2.75"/><circle cx="4.53" cy="3.15" r="2.75"/><circle cx="-14.72" cy="-0.95" r="2.75"/><circle cx="-9.22" cy="-0.85" r="2.75"/><circle cx="-3.72" cy="-0.75" r="2.75"/><circle cx="1.78" cy="-0.65" r="2.75"/></g>
<circle cx="420.6" cy="690.2" r="1.3" fill="#2b6fe0" stroke="none" stroke-width="0.6"/>
<circle cx="422.4" cy="689.2" r="1.45" fill="#e0161c" stroke="none" stroke-width="0.6"/>
<g transform="translate(417 732.5)" fill="url(#sg)" stroke="#b85055" stroke-width="0.3"><circle cx="-4.53" cy="0.65" r="2.75"/><circle cx="0.97" cy="0.75" r="2.75"/><circle cx="6.47" cy="0.85" r="2.75"/><circle cx="11.97" cy="0.95" r="2.75"/><circle cx="-1.78" cy="-3.15" r="2.75"/><circle cx="3.72" cy="-3.05" r="2.75"/><circle cx="9.22" cy="-2.95" r="2.75"/><circle cx="14.72" cy="-2.85" r="2.75"/><circle cx="-4.53" cy="-6.95" r="2.75"/><circle cx="0.97" cy="-6.85" r="2.75"/><circle cx="6.47" cy="-6.75" r="2.75"/><circle cx="11.97" cy="-6.65" r="2.75"/><circle cx="-7.92" cy="2.65" r="2.75"/><circle cx="-2.42" cy="2.75" r="2.75"/><circle cx="3.08" cy="2.85" r="2.75"/><circle cx="8.58" cy="2.95" r="2.75"/><circle cx="-5.17" cy="-1.15" r="2.75"/><circle cx="0.33" cy="-1.05" r="2.75"/><circle cx="5.83" cy="-0.95" r="2.75"/><circle cx="11.33" cy="-0.85" r="2.75"/><circle cx="-7.92" cy="-4.95" r="2.75"/><circle cx="-2.42" cy="-4.85" r="2.75"/><circle cx="3.08" cy="-4.75" r="2.75"/><circle cx="8.58" cy="-4.65" r="2.75"/><circle cx="-11.32" cy="4.65" r="2.75"/><circle cx="-5.82" cy="4.75" r="2.75"/><circle cx="-0.32" cy="4.85" r="2.75"/><circle cx="5.17" cy="4.95" r="2.75"/><circle cx="-8.57" cy="0.85" r="2.75"/><circle cx="-3.07" cy="0.95" r="2.75"/><circle cx="2.42" cy="1.05" r="2.75"/><circle cx="7.92" cy="1.15" r="2.75"/><circle cx="-11.32" cy="-2.95" r="2.75"/><circle cx="-5.82" cy="-2.85" r="2.75"/><circle cx="-0.32" cy="-2.75" r="2.75"/><circle cx="5.17" cy="-2.65" r="2.75"/><circle cx="-14.72" cy="6.65" r="2.75"/><circle cx="-9.22" cy="6.75" r="2.75"/><circle cx="-3.72" cy="6.85" r="2.75"/><circle cx="1.78" cy="6.95" r="2.75"/><circle cx="-11.97" cy="2.85" r="2.75"/><circle cx="-6.47" cy="2.95" r="2.75"/><circle cx="-0.97" cy="3.05" r="2.75"/><circle cx="4.53" cy="3.15" r="2.75"/><circle cx="-14.72" cy="-0.95" r="2.75"/><circle cx="-9.22" cy="-0.85" r="2.75"/><circle cx="-3.72" cy="-0.75" r="2.75"/><circle cx="1.78" cy="-0.65" r="2.75"/></g>
<circle cx="423" cy="722.5" r="1.45" fill="#e0161c" stroke="none" stroke-width="0.6"/>
<circle cx="423" cy="724.7" r="1.3" fill="#2b6fe0" stroke="none" stroke-width="0.6"/>
<g transform="translate(505 678)" fill="url(#sg)" stroke="#b85055" stroke-width="0.3"><circle cx="-4.53" cy="0.65" r="2.75"/><circle cx="0.97" cy="0.75" r="2.75"/><circle cx="6.47" cy="0.85" r="2.75"/><circle cx="11.97" cy="0.95" r="2.75"/><circle cx="-1.78" cy="-3.15" r="2.75"/><circle cx="3.72" cy="-3.05" r="2.75"/><circle cx="9.22" cy="-2.95" r="2.75"/><circle cx="14.72" cy="-2.85" r="2.75"/><circle cx="-4.53" cy="-6.95" r="2.75"/><circle cx="0.97" cy="-6.85" r="2.75"/><circle cx="6.47" cy="-6.75" r="2.75"/><circle cx="11.97" cy="-6.65" r="2.75"/><circle cx="-7.92" cy="2.65" r="2.75"/><circle cx="-2.42" cy="2.75" r="2.75"/><circle cx="3.08" cy="2.85" r="2.75"/><circle cx="8.58" cy="2.95" r="2.75"/><circle cx="-5.17" cy="-1.15" r="2.75"/><circle cx="0.33" cy="-1.05" r="2.75"/><circle cx="5.83" cy="-0.95" r="2.75"/><circle cx="11.33" cy="-0.85" r="2.75"/><circle cx="-7.92" cy="-4.95" r="2.75"/><circle cx="-2.42" cy="-4.85" r="2.75"/><circle cx="3.08" cy="-4.75" r="2.75"/><circle cx="8.58" cy="-4.65" r="2.75"/><circle cx="-11.32" cy="4.65" r="2.75"/><circle cx="-5.82" cy="4.75" r="2.75"/><circle cx="-0.32" cy="4.85" r="2.75"/><circle cx="5.17" cy="4.95" r="2.75"/><circle cx="-8.57" cy="0.85" r="2.75"/><circle cx="-3.07" cy="0.95" r="2.75"/><circle cx="2.42" cy="1.05" r="2.75"/><circle cx="7.92" cy="1.15" r="2.75"/><circle cx="-11.32" cy="-2.95" r="2.75"/><circle cx="-5.82" cy="-2.85" r="2.75"/><circle cx="-0.32" cy="-2.75" r="2.75"/><circle cx="5.17" cy="-2.65" r="2.75"/><circle cx="-14.72" cy="6.65" r="2.75"/><circle cx="-9.22" cy="6.75" r="2.75"/><circle cx="-3.72" cy="6.85" r="2.75"/><circle cx="1.78" cy="6.95" r="2.75"/><circle cx="-11.97" cy="2.85" r="2.75"/><circle cx="-6.47" cy="2.95" r="2.75"/><circle cx="-0.97" cy="3.05" r="2.75"/><circle cx="4.53" cy="3.15" r="2.75"/><circle cx="-14.72" cy="-0.95" r="2.75"/><circle cx="-9.22" cy="-0.85" r="2.75"/><circle cx="-3.72" cy="-0.75" r="2.75"/><circle cx="1.78" cy="-0.65" r="2.75"/></g>
<g transform="translate(504.3 751.8)" fill="url(#sg)" stroke="#b85055" stroke-width="0.3"><circle cx="-4.53" cy="0.65" r="2.75"/><circle cx="0.97" cy="0.75" r="2.75"/><circle cx="6.47" cy="0.85" r="2.75"/><circle cx="11.97" cy="0.95" r="2.75"/><circle cx="-1.78" cy="-3.15" r="2.75"/><circle cx="3.72" cy="-3.05" r="2.75"/><circle cx="9.22" cy="-2.95" r="2.75"/><circle cx="14.72" cy="-2.85" r="2.75"/><circle cx="-4.53" cy="-6.95" r="2.75"/><circle cx="0.97" cy="-6.85" r="2.75"/><circle cx="6.47" cy="-6.75" r="2.75"/><circle cx="11.97" cy="-6.65" r="2.75"/><circle cx="-7.92" cy="2.65" r="2.75"/><circle cx="-2.42" cy="2.75" r="2.75"/><circle cx="3.08" cy="2.85" r="2.75"/><circle cx="8.58" cy="2.95" r="2.75"/><circle cx="-5.17" cy="-1.15" r="2.75"/><circle cx="0.33" cy="-1.05" r="2.75"/><circle cx="5.83" cy="-0.95" r="2.75"/><circle cx="11.33" cy="-0.85" r="2.75"/><circle cx="-7.92" cy="-4.95" r="2.75"/><circle cx="-2.42" cy="-4.85" r="2.75"/><circle cx="3.08" cy="-4.75" r="2.75"/><circle cx="8.58" cy="-4.65" r="2.75"/><circle cx="-11.32" cy="4.65" r="2.75"/><circle cx="-5.82" cy="4.75" r="2.75"/><circle cx="-0.32" cy="4.85" r="2.75"/><circle cx="5.17" cy="4.95" r="2.75"/><circle cx="-8.57" cy="0.85" r="2.75"/><circle cx="-3.07" cy="0.95" r="2.75"/><circle cx="2.42" cy="1.05" r="2.75"/><circle cx="7.92" cy="1.15" r="2.75"/><circle cx="-11.32" cy="-2.95" r="2.75"/><circle cx="-5.82" cy="-2.85" r="2.75"/><circle cx="-0.32" cy="-2.75" r="2.75"/><circle cx="5.17" cy="-2.65" r="2.75"/><circle cx="-14.72" cy="6.65" r="2.75"/><circle cx="-9.22" cy="6.75" r="2.75"/><circle cx="-3.72" cy="6.85" r="2.75"/><circle cx="1.78" cy="6.95" r="2.75"/><circle cx="-11.97" cy="2.85" r="2.75"/><circle cx="-6.47" cy="2.95" r="2.75"/><circle cx="-0.97" cy="3.05" r="2.75"/><circle cx="4.53" cy="3.15" r="2.75"/><circle cx="-14.72" cy="-0.95" r="2.75"/><circle cx="-9.22" cy="-0.85" r="2.75"/><circle cx="-3.72" cy="-0.75" r="2.75"/><circle cx="1.78" cy="-0.65" r="2.75"/></g>
<circle cx="505.1" cy="741.8" r="1.3" fill="#2b6fe0" stroke="none" stroke-width="0.6"/>
<circle cx="506.9" cy="743.6" r="1.45" fill="#e0161c" stroke="none" stroke-width="0.6"/>
<g transform="translate(590.6 756.3)" fill="url(#sg)" stroke="#b85055" stroke-width="0.3"><circle cx="-4.53" cy="0.65" r="2.75"/><circle cx="0.97" cy="0.75" r="2.75"/><circle cx="6.47" cy="0.85" r="2.75"/><circle cx="11.97" cy="0.95" r="2.75"/><circle cx="-1.78" cy="-3.15" r="2.75"/><circle cx="3.72" cy="-3.05" r="2.75"/><circle cx="9.22" cy="-2.95" r="2.75"/><circle cx="14.72" cy="-2.85" r="2.75"/><circle cx="-4.53" cy="-6.95" r="2.75"/><circle cx="0.97" cy="-6.85" r="2.75"/><circle cx="6.47" cy="-6.75" r="2.75"/><circle cx="11.97" cy="-6.65" r="2.75"/><circle cx="-7.92" cy="2.65" r="2.75"/><circle cx="-2.42" cy="2.75" r="2.75"/><circle cx="3.08" cy="2.85" r="2.75"/><circle cx="8.58" cy="2.95" r="2.75"/><circle cx="-5.17" cy="-1.15" r="2.75"/><circle cx="0.33" cy="-1.05" r="2.75"/><circle cx="5.83" cy="-0.95" r="2.75"/><circle cx="11.33" cy="-0.85" r="2.75"/><circle cx="-7.92" cy="-4.95" r="2.75"/><circle cx="-2.42" cy="-4.85" r="2.75"/><circle cx="3.08" cy="-4.75" r="2.75"/><circle cx="8.58" cy="-4.65" r="2.75"/><circle cx="-11.32" cy="4.65" r="2.75"/><circle cx="-5.82" cy="4.75" r="2.75"/><circle cx="-0.32" cy="4.85" r="2.75"/><circle cx="5.17" cy="4.95" r="2.75"/><circle cx="-8.57" cy="0.85" r="2.75"/><circle cx="-3.07" cy="0.95" r="2.75"/><circle cx="2.42" cy="1.05" r="2.75"/><circle cx="7.92" cy="1.15" r="2.75"/><circle cx="-11.32" cy="-2.95" r="2.75"/><circle cx="-5.82" cy="-2.85" r="2.75"/><circle cx="-0.32" cy="-2.75" r="2.75"/><circle cx="5.17" cy="-2.65" r="2.75"/><circle cx="-14.72" cy="6.65" r="2.75"/><circle cx="-9.22" cy="6.75" r="2.75"/><circle cx="-3.72" cy="6.85" r="2.75"/><circle cx="1.78" cy="6.95" r="2.75"/><circle cx="-11.97" cy="2.85" r="2.75"/><circle cx="-6.47" cy="2.95" r="2.75"/><circle cx="-0.97" cy="3.05" r="2.75"/><circle cx="4.53" cy="3.15" r="2.75"/><circle cx="-14.72" cy="-0.95" r="2.75"/><circle cx="-9.22" cy="-0.85" r="2.75"/><circle cx="-3.72" cy="-0.75" r="2.75"/><circle cx="1.78" cy="-0.65" r="2.75"/></g>
<circle cx="584.8" cy="748.1" r="1.3" fill="#2b6fe0" stroke="none" stroke-width="0.6"/>
<circle cx="591.6" cy="747.6" r="1.4" fill="#e0161c" stroke="none" stroke-width="0.6"/>
<g transform="translate(676.4 742.5)" fill="url(#sg)" stroke="#b85055" stroke-width="0.3"><circle cx="-4.53" cy="0.65" r="2.75"/><circle cx="0.97" cy="0.75" r="2.75"/><circle cx="6.47" cy="0.85" r="2.75"/><circle cx="11.97" cy="0.95" r="2.75"/><circle cx="-1.78" cy="-3.15" r="2.75"/><circle cx="3.72" cy="-3.05" r="2.75"/><circle cx="9.22" cy="-2.95" r="2.75"/><circle cx="14.72" cy="-2.85" r="2.75"/><circle cx="-4.53" cy="-6.95" r="2.75"/><circle cx="0.97" cy="-6.85" r="2.75"/><circle cx="6.47" cy="-6.75" r="2.75"/><circle cx="11.97" cy="-6.65" r="2.75"/><circle cx="-7.92" cy="2.65" r="2.75"/><circle cx="-2.42" cy="2.75" r="2.75"/><circle cx="3.08" cy="2.85" r="2.75"/><circle cx="8.58" cy="2.95" r="2.75"/><circle cx="-5.17" cy="-1.15" r="2.75"/><circle cx="0.33" cy="-1.05" r="2.75"/><circle cx="5.83" cy="-0.95" r="2.75"/><circle cx="11.33" cy="-0.85" r="2.75"/><circle cx="-7.92" cy="-4.95" r="2.75"/><circle cx="-2.42" cy="-4.85" r="2.75"/><circle cx="3.08" cy="-4.75" r="2.75"/><circle cx="8.58" cy="-4.65" r="2.75"/><circle cx="-11.32" cy="4.65" r="2.75"/><circle cx="-5.82" cy="4.75" r="2.75"/><circle cx="-0.32" cy="4.85" r="2.75"/><circle cx="5.17" cy="4.95" r="2.75"/><circle cx="-8.57" cy="0.85" r="2.75"/><circle cx="-3.07" cy="0.95" r="2.75"/><circle cx="2.42" cy="1.05" r="2.75"/><circle cx="7.92" cy="1.15" r="2.75"/><circle cx="-11.32" cy="-2.95" r="2.75"/><circle cx="-5.82" cy="-2.85" r="2.75"/><circle cx="-0.32" cy="-2.75" r="2.75"/><circle cx="5.17" cy="-2.65" r="2.75"/><circle cx="-14.72" cy="6.65" r="2.75"/><circle cx="-9.22" cy="6.75" r="2.75"/><circle cx="-3.72" cy="6.85" r="2.75"/><circle cx="1.78" cy="6.95" r="2.75"/><circle cx="-11.97" cy="2.85" r="2.75"/><circle cx="-6.47" cy="2.95" r="2.75"/><circle cx="-0.97" cy="3.05" r="2.75"/><circle cx="4.53" cy="3.15" r="2.75"/><circle cx="-14.72" cy="-0.95" r="2.75"/><circle cx="-9.22" cy="-0.85" r="2.75"/><circle cx="-3.72" cy="-0.75" r="2.75"/><circle cx="1.78" cy="-0.65" r="2.75"/></g>
<circle cx="678.2" cy="731.7" r="1" fill="#e0161c" stroke="none" stroke-width="0.6"/>
<g transform="translate(760.4 743.1)" fill="url(#sg)" stroke="#b85055" stroke-width="0.3"><circle cx="-4.53" cy="0.65" r="2.75"/><circle cx="0.97" cy="0.75" r="2.75"/><circle cx="6.47" cy="0.85" r="2.75"/><circle cx="11.97" cy="0.95" r="2.75"/><circle cx="-1.78" cy="-3.15" r="2.75"/><circle cx="3.72" cy="-3.05" r="2.75"/><circle cx="9.22" cy="-2.95" r="2.75"/><circle cx="14.72" cy="-2.85" r="2.75"/><circle cx="-4.53" cy="-6.95" r="2.75"/><circle cx="0.97" cy="-6.85" r="2.75"/><circle cx="6.47" cy="-6.75" r="2.75"/><circle cx="11.97" cy="-6.65" r="2.75"/><circle cx="-7.92" cy="2.65" r="2.75"/><circle cx="-2.42" cy="2.75" r="2.75"/><circle cx="3.08" cy="2.85" r="2.75"/><circle cx="8.58" cy="2.95" r="2.75"/><circle cx="-5.17" cy="-1.15" r="2.75"/><circle cx="0.33" cy="-1.05" r="2.75"/><circle cx="5.83" cy="-0.95" r="2.75"/><circle cx="11.33" cy="-0.85" r="2.75"/><circle cx="-7.92" cy="-4.95" r="2.75"/><circle cx="-2.42" cy="-4.85" r="2.75"/><circle cx="3.08" cy="-4.75" r="2.75"/><circle cx="8.58" cy="-4.65" r="2.75"/><circle cx="-11.32" cy="4.65" r="2.75"/><circle cx="-5.82" cy="4.75" r="2.75"/><circle cx="-0.32" cy="4.85" r="2.75"/><circle cx="5.17" cy="4.95" r="2.75"/><circle cx="-8.57" cy="0.85" r="2.75"/><circle cx="-3.07" cy="0.95" r="2.75"/><circle cx="2.42" cy="1.05" r="2.75"/><circle cx="7.92" cy="1.15" r="2.75"/><circle cx="-11.32" cy="-2.95" r="2.75"/><circle cx="-5.82" cy="-2.85" r="2.75"/><circle cx="-0.32" cy="-2.75" r="2.75"/><circle cx="5.17" cy="-2.65" r="2.75"/><circle cx="-14.72" cy="6.65" r="2.75"/><circle cx="-9.22" cy="6.75" r="2.75"/><circle cx="-3.72" cy="6.85" r="2.75"/><circle cx="1.78" cy="6.95" r="2.75"/><circle cx="-11.97" cy="2.85" r="2.75"/><circle cx="-6.47" cy="2.95" r="2.75"/><circle cx="-0.97" cy="3.05" r="2.75"/><circle cx="4.53" cy="3.15" r="2.75"/><circle cx="-14.72" cy="-0.95" r="2.75"/><circle cx="-9.22" cy="-0.85" r="2.75"/><circle cx="-3.72" cy="-0.75" r="2.75"/><circle cx="1.78" cy="-0.65" r="2.75"/></g>
<line x1="106.8" y1="710.5" x2="106.8" y2="704" stroke="#1010d0" stroke-width="1.0" />
<path d="M106.8 701.5 L105.2 704.7 L108.39999999999999 704.7 Z" fill="#1010d0" stroke="none" stroke-width="0.8" />
<line x1="106.8" y1="710.5" x2="113.3" y2="710.8" stroke="#20d040" stroke-width="1.0" />
<path d="M116.1 710.9 L112.6 709.2 L112.6 712.4 Z" fill="#20d040" stroke="none" stroke-width="0.8" />
<line x1="106.8" y1="710.5" x2="103" y2="712.2" stroke="#c01020" stroke-width="1.0" />
<circle cx="102.2" cy="712.6" r="0.9" fill="#c01020" stroke="none" stroke-width="0.6"/>
<line x1="106.8" y1="699.2" x2="106.8" y2="700.5" stroke="#777" stroke-width="0.6" />
<line x1="117.1" y1="710.9" x2="118.6" y2="710.9" stroke="#777" stroke-width="0.6" />
<line x1="99.5" y1="713.5" x2="100.6" y2="713.1" stroke="#777" stroke-width="0.6" />
<text x="77.5" y="683.5" font-size="9.35" text-anchor="start" fill="#000" transform="rotate(-60 77.5 683.5)" ><tspan dy="0" font-size="9.35">CO</tspan><tspan dy="2.62" font-size="5.42">2</tspan><tspan dy="-2.62" font-size="9.35"> + 4H</tspan><tspan dy="2.62" font-size="5.42">2</tspan></text>
<text x="164" y="676" font-size="9.35" text-anchor="start" fill="#000" transform="rotate(-60 164 676)" ><tspan dy="0" font-size="9.35">CO</tspan><tspan dy="2.62" font-size="5.42">2</tspan><tspan dy="-6.54" font-size="5.42"> </tspan><tspan dy="3.93" font-size="9.35">* + 4H</tspan><tspan dy="2.62" font-size="5.42">2</tspan></text>
<text x="251.5" y="694.5" font-size="9.35" text-anchor="start" fill="#000" transform="rotate(-60 251.5 694.5)" ><tspan dy="0" font-size="9.35">CO</tspan><tspan dy="2.62" font-size="5.42">2</tspan><tspan dy="-6.54" font-size="5.42"> </tspan><tspan dy="3.93" font-size="9.35">* + 3H</tspan><tspan dy="2.62" font-size="5.42">2</tspan><tspan dy="-2.62" font-size="9.35"> + 2H*</tspan></text>
<text x="338" y="683" font-size="9.35" text-anchor="start" fill="#000" transform="rotate(-60 338 683)" ><tspan dy="0" font-size="9.35">HOCO* + 3H</tspan><tspan dy="2.62" font-size="5.42">2</tspan><tspan dy="-2.62" font-size="9.35"> + 2H*</tspan></text>
<text x="339" y="779.5" font-size="9.35" text-anchor="start" fill="#000" transform="rotate(-60 339 779.5)" ><tspan dy="0" font-size="9.35">HCOO* + 3H</tspan><tspan dy="2.62" font-size="5.42">2</tspan><tspan dy="-2.62" font-size="9.35"> + 2H*</tspan></text>
<text x="425" y="683" font-size="9.35" text-anchor="start" fill="#000" transform="rotate(-60 425 683)" ><tspan dy="0" font-size="9.35">H</tspan><tspan dy="2.62" font-size="5.42">2</tspan><tspan dy="-2.62" font-size="9.35">CO* + 2H</tspan><tspan dy="2.62" font-size="5.42">2</tspan><tspan dy="-2.62" font-size="9.35"> + H</tspan><tspan dy="2.62" font-size="5.42">2</tspan><tspan dy="-2.62" font-size="9.35">O</tspan></text>
<text x="424.4" y="779.2" font-size="9.35" text-anchor="start" fill="#000" transform="rotate(-60 424.4 779.2)" ><tspan dy="0" font-size="9.35">CO* + 3H</tspan><tspan dy="2.62" font-size="5.42">2</tspan><tspan dy="-2.62" font-size="9.35"> + H</tspan><tspan dy="2.62" font-size="5.42">2</tspan><tspan dy="-2.62" font-size="9.35">O</tspan></text>
<text x="505" y="663.3" font-size="9.35" text-anchor="start" fill="#000" transform="rotate(-60 505 663.3)" ><tspan dy="0" font-size="9.35">CO + 3H</tspan><tspan dy="2.62" font-size="5.42">2</tspan><tspan dy="-2.62" font-size="9.35"> + H</tspan><tspan dy="2.62" font-size="5.42">2</tspan><tspan dy="-2.62" font-size="9.35">O</tspan></text>
<text x="509" y="731.6" font-size="9.35" text-anchor="start" fill="#000" transform="rotate(-60 509 731.6)" ><tspan dy="0" font-size="9.35">H</tspan><tspan dy="2.62" font-size="5.42">3</tspan><tspan dy="-2.62" font-size="9.35">CO* + H</tspan><tspan dy="2.62" font-size="5.42">2</tspan><tspan dy="-2.62" font-size="9.35"> + H</tspan><tspan dy="2.62" font-size="5.42">2</tspan><tspan dy="-2.62" font-size="9.35">O + H*</tspan></text>
<text x="594" y="737.5" font-size="9.35" text-anchor="start" fill="#000" transform="rotate(-60 594 737.5)" ><tspan dy="0" font-size="9.35">CH</tspan><tspan dy="2.62" font-size="5.42">3</tspan><tspan dy="-6.54" font-size="5.42"> </tspan><tspan dy="3.93" font-size="9.35">* + OH* + H</tspan><tspan dy="2.62" font-size="5.42">2</tspan><tspan dy="-2.62" font-size="9.35"> + H</tspan><tspan dy="2.62" font-size="5.42">2</tspan><tspan dy="-2.62" font-size="9.35">O</tspan></text>
<text x="684.5" y="721.5" font-size="9.35" text-anchor="start" fill="#000" transform="rotate(-60 684.5 721.5)" ><tspan dy="0" font-size="9.35">CH</tspan><tspan dy="2.62" font-size="5.42">4</tspan><tspan dy="-2.62" font-size="9.35"> + H</tspan><tspan dy="2.62" font-size="5.42">2</tspan><tspan dy="-2.62" font-size="9.35">O + H</tspan><tspan dy="2.62" font-size="5.42">2</tspan><tspan dy="-2.62" font-size="9.35">O*</tspan></text>
<text x="759.5" y="726.5" font-size="9.35" text-anchor="start" fill="#000" transform="rotate(-60 759.5 726.5)" ><tspan dy="0" font-size="9.35">CH</tspan><tspan dy="2.62" font-size="5.42">4</tspan><tspan dy="-2.62" font-size="9.35"> + 2H</tspan><tspan dy="2.62" font-size="5.42">2</tspan><tspan dy="-2.62" font-size="9.35">O</tspan></text>
</svg>
</body></html>
